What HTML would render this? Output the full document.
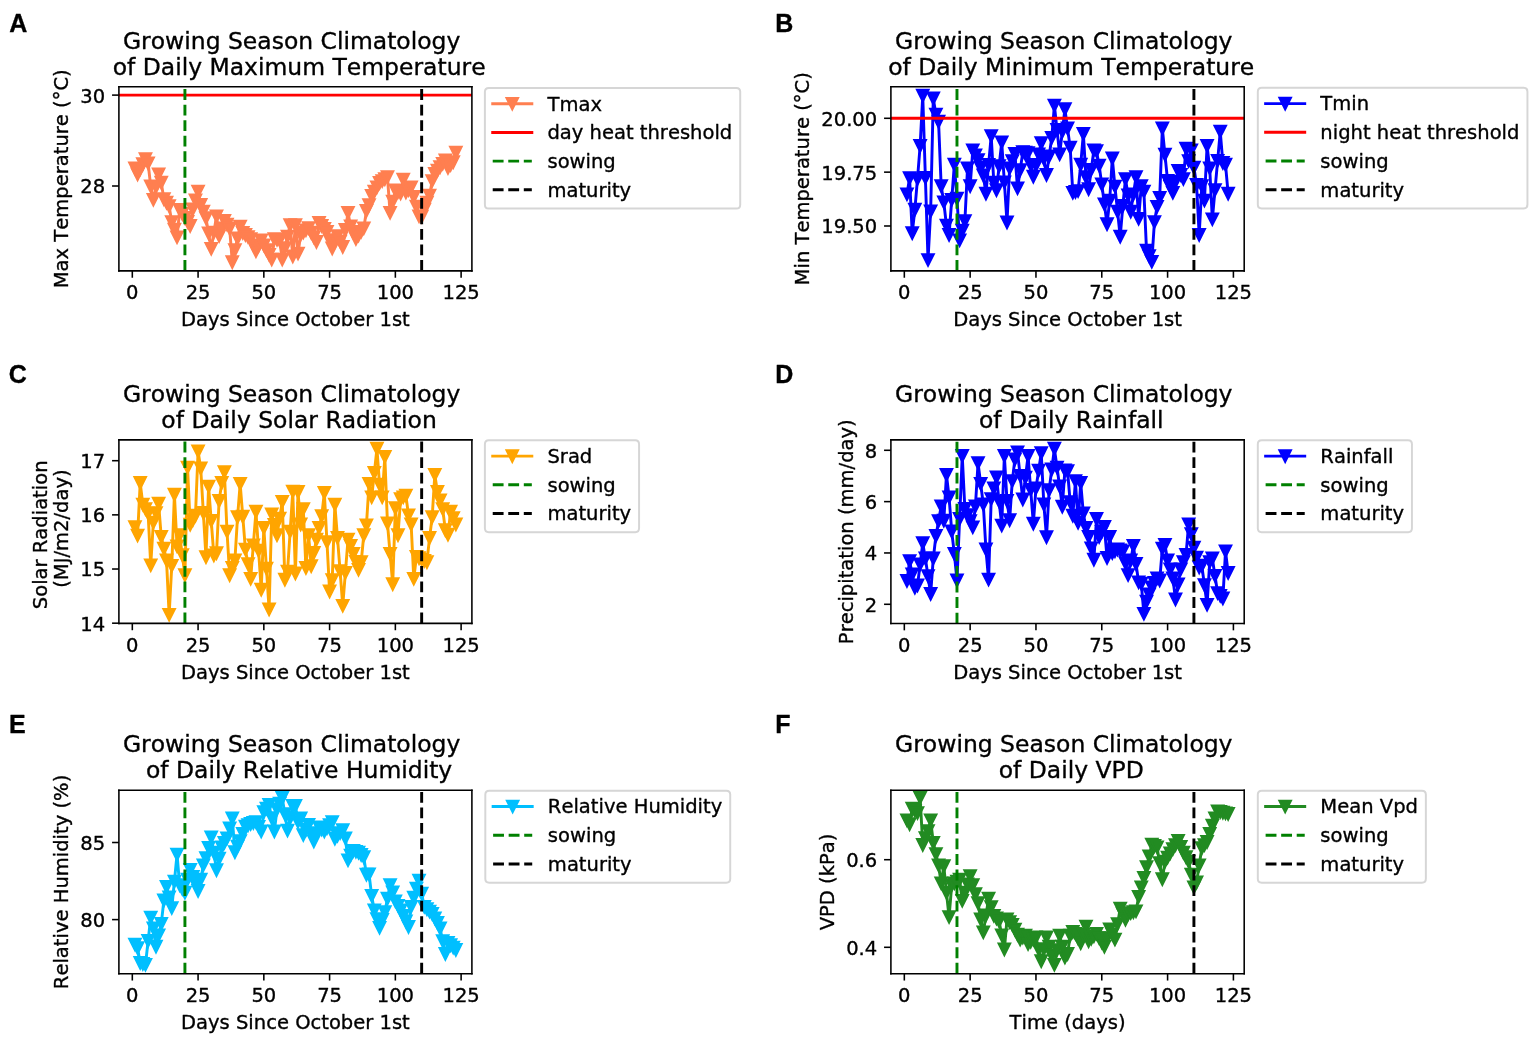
<!DOCTYPE html>
<html><head><meta charset="utf-8"><title>Growing Season Climatology</title><style>html,body{margin:0;padding:0;background:#fff;overflow:hidden}svg{display:block}svg text{white-space:pre;font-kerning:none;stroke:#000;stroke-width:0.18px}</style></head><body>
<svg width="1535" height="1038" viewBox="0 0 785.16624 530.946292" version="1.1">
 <defs>
  <style type="text/css">*{stroke-linejoin: round; stroke-linecap: butt}</style>
 </defs>
 <g id="figure_1">
  <g id="patch_1">
   <path d="M 0 530.946292 L 785.16624 530.946292 L 785.16624 0 L 0 0 z" style="fill: #ffffff"/>
  </g>
  <g id="axes_1">
   <g id="patch_2">
    <path d="M 60.818414 138.567775 L 241.381074 138.567775 L 241.381074 44.347826 L 60.818414 44.347826 z" style="fill: #ffffff"/>
   </g>
   <g id="matplotlib.axis_1">
    <g id="xtick_1">
     <g id="line2d_1">
      
      <g>
       <path d="M 0 0 L 0 3.5" transform="translate(67.680334 138.567775)" style="stroke: #000000; stroke-width: 0.8; stroke: #000000; stroke-width: 0.8"/>
      </g>
     </g>
     <g id="text_1">
      <text style="font-size: 10px; font-family: 'DejaVu Sans', sans-serif; text-anchor: middle" x="67.680334" y="153.166212" transform="rotate(-0 67.680334 153.166212)">0</text>
     </g>
    </g>
    <g id="xtick_2">
     <g id="line2d_2">
      <g>
       <path d="M 0 0 L 0 3.5" transform="translate(101.317193 138.567775)" style="stroke: #000000; stroke-width: 0.8; stroke: #000000; stroke-width: 0.8"/>
      </g>
     </g>
     <g id="text_2">
      <text style="font-size: 10px; font-family: 'DejaVu Sans', sans-serif; text-anchor: middle" x="101.317193" y="153.166212" transform="rotate(-0 101.317193 153.166212)">25</text>
     </g>
    </g>
    <g id="xtick_3">
     <g id="line2d_3">
      <g>
       <path d="M 0 0 L 0 3.5" transform="translate(134.954052 138.567775)" style="stroke: #000000; stroke-width: 0.8; stroke: #000000; stroke-width: 0.8"/>
      </g>
     </g>
     <g id="text_3">
      <text style="font-size: 10px; font-family: 'DejaVu Sans', sans-serif; text-anchor: middle" x="134.954052" y="153.166212" transform="rotate(-0 134.954052 153.166212)">50</text>
     </g>
    </g>
    <g id="xtick_4">
     <g id="line2d_4">
      <g>
       <path d="M 0 0 L 0 3.5" transform="translate(168.590911 138.567775)" style="stroke: #000000; stroke-width: 0.8; stroke: #000000; stroke-width: 0.8"/>
      </g>
     </g>
     <g id="text_4">
      <text style="font-size: 10px; font-family: 'DejaVu Sans', sans-serif; text-anchor: middle" x="168.590911" y="153.166212" transform="rotate(-0 168.590911 153.166212)">75</text>
     </g>
    </g>
    <g id="xtick_5">
     <g id="line2d_5">
      <g>
       <path d="M 0 0 L 0 3.5" transform="translate(202.22777 138.567775)" style="stroke: #000000; stroke-width: 0.8; stroke: #000000; stroke-width: 0.8"/>
      </g>
     </g>
     <g id="text_5">
      <text style="font-size: 10px; font-family: 'DejaVu Sans', sans-serif; text-anchor: middle" x="202.22777" y="153.166212" transform="rotate(-0 202.22777 153.166212)">100</text>
     </g>
    </g>
    <g id="xtick_6">
     <g id="line2d_6">
      <g>
       <path d="M 0 0 L 0 3.5" transform="translate(235.864629 138.567775)" style="stroke: #000000; stroke-width: 0.8; stroke: #000000; stroke-width: 0.8"/>
      </g>
     </g>
     <g id="text_6">
      <text style="font-size: 10px; font-family: 'DejaVu Sans', sans-serif; text-anchor: middle" x="235.864629" y="153.166212" transform="rotate(-0 235.864629 153.166212)">125</text>
     </g>
    </g>
    <g id="text_7">
     <text style="font-size: 10px; font-family: 'DejaVu Sans', sans-serif; text-anchor: middle" x="151.099744" y="166.844337" transform="rotate(-0 151.099744 166.844337)">Days Since October 1st</text>
    </g>
   </g>
   <g id="matplotlib.axis_2">
    <g id="ytick_1">
     <g id="line2d_7">
      
      <g>
       <path d="M 0 0 L -3.5 0" transform="translate(60.818414 95.142444)" style="stroke: #000000; stroke-width: 0.8; stroke: #000000; stroke-width: 0.8"/>
      </g>
     </g>
     <g id="text_8">
      <text style="font-size: 10px; font-family: 'DejaVu Sans', sans-serif; text-anchor: end" x="53.818414" y="98.941663" transform="rotate(-0 53.818414 98.941663)">28</text>
     </g>
    </g>
    <g id="ytick_2">
     <g id="line2d_8">
      <g>
       <path d="M 0 0 L -3.5 0" transform="translate(60.818414 48.648515)" style="stroke: #000000; stroke-width: 0.8; stroke: #000000; stroke-width: 0.8"/>
      </g>
     </g>
     <g id="text_9">
      <text style="font-size: 10px; font-family: 'DejaVu Sans', sans-serif; text-anchor: end" x="53.818414" y="52.447733" transform="rotate(-0 53.818414 52.447733)">30</text>
     </g>
    </g>
    <g id="text_10">
     <text style="font-size: 10px; font-family: 'DejaVu Sans', sans-serif; text-anchor: middle" x="35.013727" y="91.457801" transform="rotate(-90 35.013727 91.457801)">Max Temperature (°C)</text>
    </g>
   </g>
   <g id="line2d_9">
    <path d="M 69.025808 86.118361 L 70.371282 89.1753 L 71.716757 86.57365 L 73.062231 83.972 L 74.407705 81.37035 L 75.75318 83.516712 L 77.098654 95.354219 L 78.444129 102.18355 L 79.789603 95.679425 L 81.135077 89.1753 L 82.480552 93.402981 L 83.826026 101.858344 L 85.1715 103.646978 L 86.516975 105.435612 L 87.862449 113.565768 L 89.207923 117.468243 L 90.553398 121.370718 L 91.898872 107.38685 L 93.244347 109.419389 L 94.589821 111.451928 L 95.935295 113.484467 L 97.28077 115.517006 L 98.626244 107.061643 L 99.971718 102.508756 L 101.317193 97.955869 L 102.662667 104.7852 L 104.008141 108.199865 L 105.353616 111.614531 L 106.69909 119.419481 L 108.044565 127.22443 L 109.390039 118.931671 L 110.735513 110.638912 L 112.080988 120.720306 L 113.426462 116.817831 L 114.771936 112.915356 L 116.117411 114.866593 L 117.462885 116.817831 L 118.808359 134.053762 L 120.153834 127.983245 L 121.499308 121.912728 L 122.844783 115.842212 L 124.190257 119.094274 L 125.535731 120.178295 L 126.881206 121.262316 L 128.22668 122.346337 L 129.572154 125.435796 L 130.917629 128.525255 L 132.263103 125.761002 L 133.608577 122.996749 L 134.954052 125.435796 L 136.299526 127.874843 L 137.645001 130.31389 L 138.990475 132.752937 L 140.335949 122.346337 L 141.681424 122.671543 L 143.026898 122.996749 L 144.372372 132.752937 L 145.717847 126.899224 L 147.063321 121.045512 L 148.408796 115.191799 L 149.75427 131.126905 L 151.099744 115.161864 L 152.445219 129.692244 L 153.790693 120.069893 L 155.136167 118.933209 L 156.481642 117.796525 L 157.827116 116.659841 L 159.17259 119.006672 L 160.518065 121.353503 L 161.863539 123.700335 L 163.209014 114.038381 L 164.554488 115.536358 L 165.899962 117.034335 L 167.245437 118.532313 L 168.590911 122.801548 L 169.936385 127.070784 L 171.28186 123.925031 L 172.627334 120.779279 L 173.972808 123.550537 L 175.318283 126.321795 L 176.663757 117.589361 L 178.009232 108.856927 L 179.354706 115.75556 L 180.70018 118.983135 L 182.045655 122.21071 L 183.391129 120.3875 L 184.736603 118.56429 L 186.082078 116.74108 L 187.427552 107.871408 L 188.773026 104.914851 L 190.118501 100.233636 L 191.463975 98.016218 L 192.80945 95.7988 L 194.154924 93.581382 L 195.500398 92.595863 L 196.845873 91.610344 L 198.191347 90.624825 L 199.536821 108.856927 L 200.882296 103.140917 L 202.22777 97.424907 L 203.573244 98.164046 L 204.918719 98.903185 L 206.264193 91.856724 L 207.609668 98.410426 L 208.955142 97.104613 L 210.300616 95.7988 L 211.646091 100.742821 L 212.991565 105.686841 L 214.337039 110.630862 L 215.682514 110.827965 L 217.027988 107.230821 L 218.373463 103.633676 L 219.718937 100.036532 L 221.064411 92.595863 L 222.409886 88.947259 L 223.75536 87.224585 L 225.100834 85.501911 L 226.446309 83.779237 L 227.791783 82.056563 L 229.137257 85.876406 L 230.482732 84.415878 L 231.828206 82.95535 L 233.173681 78.086923" clip-path="url(#p58ddfeee3f)" style="fill: none; stroke: #ff7f50; stroke-width: 1.5; stroke-linecap: square"/>
    
    <g clip-path="url(#p58ddfeee3f)">
     <path d="M -0 3 L 3 -3 L -3 -3 z" transform="translate(69.025808 86.118361)" style="fill: #ff7f50; stroke: #ff7f50; stroke-linejoin: miter; stroke: #ff7f50; stroke-linejoin: miter"/>
     <path d="M -0 3 L 3 -3 L -3 -3 z" transform="translate(70.371282 89.1753)" style="fill: #ff7f50; stroke: #ff7f50; stroke-linejoin: miter; stroke: #ff7f50; stroke-linejoin: miter"/>
     <path d="M -0 3 L 3 -3 L -3 -3 z" transform="translate(71.716757 86.57365)" style="fill: #ff7f50; stroke: #ff7f50; stroke-linejoin: miter; stroke: #ff7f50; stroke-linejoin: miter"/>
     <path d="M -0 3 L 3 -3 L -3 -3 z" transform="translate(73.062231 83.972)" style="fill: #ff7f50; stroke: #ff7f50; stroke-linejoin: miter; stroke: #ff7f50; stroke-linejoin: miter"/>
     <path d="M -0 3 L 3 -3 L -3 -3 z" transform="translate(74.407705 81.37035)" style="fill: #ff7f50; stroke: #ff7f50; stroke-linejoin: miter; stroke: #ff7f50; stroke-linejoin: miter"/>
     <path d="M -0 3 L 3 -3 L -3 -3 z" transform="translate(75.75318 83.516712)" style="fill: #ff7f50; stroke: #ff7f50; stroke-linejoin: miter; stroke: #ff7f50; stroke-linejoin: miter"/>
     <path d="M -0 3 L 3 -3 L -3 -3 z" transform="translate(77.098654 95.354219)" style="fill: #ff7f50; stroke: #ff7f50; stroke-linejoin: miter; stroke: #ff7f50; stroke-linejoin: miter"/>
     <path d="M -0 3 L 3 -3 L -3 -3 z" transform="translate(78.444129 102.18355)" style="fill: #ff7f50; stroke: #ff7f50; stroke-linejoin: miter; stroke: #ff7f50; stroke-linejoin: miter"/>
     <path d="M -0 3 L 3 -3 L -3 -3 z" transform="translate(79.789603 95.679425)" style="fill: #ff7f50; stroke: #ff7f50; stroke-linejoin: miter; stroke: #ff7f50; stroke-linejoin: miter"/>
     <path d="M -0 3 L 3 -3 L -3 -3 z" transform="translate(81.135077 89.1753)" style="fill: #ff7f50; stroke: #ff7f50; stroke-linejoin: miter; stroke: #ff7f50; stroke-linejoin: miter"/>
     <path d="M -0 3 L 3 -3 L -3 -3 z" transform="translate(82.480552 93.402981)" style="fill: #ff7f50; stroke: #ff7f50; stroke-linejoin: miter; stroke: #ff7f50; stroke-linejoin: miter"/>
     <path d="M -0 3 L 3 -3 L -3 -3 z" transform="translate(83.826026 101.858344)" style="fill: #ff7f50; stroke: #ff7f50; stroke-linejoin: miter; stroke: #ff7f50; stroke-linejoin: miter"/>
     <path d="M -0 3 L 3 -3 L -3 -3 z" transform="translate(85.1715 103.646978)" style="fill: #ff7f50; stroke: #ff7f50; stroke-linejoin: miter; stroke: #ff7f50; stroke-linejoin: miter"/>
     <path d="M -0 3 L 3 -3 L -3 -3 z" transform="translate(86.516975 105.435612)" style="fill: #ff7f50; stroke: #ff7f50; stroke-linejoin: miter; stroke: #ff7f50; stroke-linejoin: miter"/>
     <path d="M -0 3 L 3 -3 L -3 -3 z" transform="translate(87.862449 113.565768)" style="fill: #ff7f50; stroke: #ff7f50; stroke-linejoin: miter; stroke: #ff7f50; stroke-linejoin: miter"/>
     <path d="M -0 3 L 3 -3 L -3 -3 z" transform="translate(89.207923 117.468243)" style="fill: #ff7f50; stroke: #ff7f50; stroke-linejoin: miter; stroke: #ff7f50; stroke-linejoin: miter"/>
     <path d="M -0 3 L 3 -3 L -3 -3 z" transform="translate(90.553398 121.370718)" style="fill: #ff7f50; stroke: #ff7f50; stroke-linejoin: miter; stroke: #ff7f50; stroke-linejoin: miter"/>
     <path d="M -0 3 L 3 -3 L -3 -3 z" transform="translate(91.898872 107.38685)" style="fill: #ff7f50; stroke: #ff7f50; stroke-linejoin: miter; stroke: #ff7f50; stroke-linejoin: miter"/>
     <path d="M -0 3 L 3 -3 L -3 -3 z" transform="translate(93.244347 109.419389)" style="fill: #ff7f50; stroke: #ff7f50; stroke-linejoin: miter; stroke: #ff7f50; stroke-linejoin: miter"/>
     <path d="M -0 3 L 3 -3 L -3 -3 z" transform="translate(94.589821 111.451928)" style="fill: #ff7f50; stroke: #ff7f50; stroke-linejoin: miter; stroke: #ff7f50; stroke-linejoin: miter"/>
     <path d="M -0 3 L 3 -3 L -3 -3 z" transform="translate(95.935295 113.484467)" style="fill: #ff7f50; stroke: #ff7f50; stroke-linejoin: miter; stroke: #ff7f50; stroke-linejoin: miter"/>
     <path d="M -0 3 L 3 -3 L -3 -3 z" transform="translate(97.28077 115.517006)" style="fill: #ff7f50; stroke: #ff7f50; stroke-linejoin: miter; stroke: #ff7f50; stroke-linejoin: miter"/>
     <path d="M -0 3 L 3 -3 L -3 -3 z" transform="translate(98.626244 107.061643)" style="fill: #ff7f50; stroke: #ff7f50; stroke-linejoin: miter; stroke: #ff7f50; stroke-linejoin: miter"/>
     <path d="M -0 3 L 3 -3 L -3 -3 z" transform="translate(99.971718 102.508756)" style="fill: #ff7f50; stroke: #ff7f50; stroke-linejoin: miter; stroke: #ff7f50; stroke-linejoin: miter"/>
     <path d="M -0 3 L 3 -3 L -3 -3 z" transform="translate(101.317193 97.955869)" style="fill: #ff7f50; stroke: #ff7f50; stroke-linejoin: miter; stroke: #ff7f50; stroke-linejoin: miter"/>
     <path d="M -0 3 L 3 -3 L -3 -3 z" transform="translate(102.662667 104.7852)" style="fill: #ff7f50; stroke: #ff7f50; stroke-linejoin: miter; stroke: #ff7f50; stroke-linejoin: miter"/>
     <path d="M -0 3 L 3 -3 L -3 -3 z" transform="translate(104.008141 108.199865)" style="fill: #ff7f50; stroke: #ff7f50; stroke-linejoin: miter; stroke: #ff7f50; stroke-linejoin: miter"/>
     <path d="M -0 3 L 3 -3 L -3 -3 z" transform="translate(105.353616 111.614531)" style="fill: #ff7f50; stroke: #ff7f50; stroke-linejoin: miter; stroke: #ff7f50; stroke-linejoin: miter"/>
     <path d="M -0 3 L 3 -3 L -3 -3 z" transform="translate(106.69909 119.419481)" style="fill: #ff7f50; stroke: #ff7f50; stroke-linejoin: miter; stroke: #ff7f50; stroke-linejoin: miter"/>
     <path d="M -0 3 L 3 -3 L -3 -3 z" transform="translate(108.044565 127.22443)" style="fill: #ff7f50; stroke: #ff7f50; stroke-linejoin: miter; stroke: #ff7f50; stroke-linejoin: miter"/>
     <path d="M -0 3 L 3 -3 L -3 -3 z" transform="translate(109.390039 118.931671)" style="fill: #ff7f50; stroke: #ff7f50; stroke-linejoin: miter; stroke: #ff7f50; stroke-linejoin: miter"/>
     <path d="M -0 3 L 3 -3 L -3 -3 z" transform="translate(110.735513 110.638912)" style="fill: #ff7f50; stroke: #ff7f50; stroke-linejoin: miter; stroke: #ff7f50; stroke-linejoin: miter"/>
     <path d="M -0 3 L 3 -3 L -3 -3 z" transform="translate(112.080988 120.720306)" style="fill: #ff7f50; stroke: #ff7f50; stroke-linejoin: miter; stroke: #ff7f50; stroke-linejoin: miter"/>
     <path d="M -0 3 L 3 -3 L -3 -3 z" transform="translate(113.426462 116.817831)" style="fill: #ff7f50; stroke: #ff7f50; stroke-linejoin: miter; stroke: #ff7f50; stroke-linejoin: miter"/>
     <path d="M -0 3 L 3 -3 L -3 -3 z" transform="translate(114.771936 112.915356)" style="fill: #ff7f50; stroke: #ff7f50; stroke-linejoin: miter; stroke: #ff7f50; stroke-linejoin: miter"/>
     <path d="M -0 3 L 3 -3 L -3 -3 z" transform="translate(116.117411 114.866593)" style="fill: #ff7f50; stroke: #ff7f50; stroke-linejoin: miter; stroke: #ff7f50; stroke-linejoin: miter"/>
     <path d="M -0 3 L 3 -3 L -3 -3 z" transform="translate(117.462885 116.817831)" style="fill: #ff7f50; stroke: #ff7f50; stroke-linejoin: miter; stroke: #ff7f50; stroke-linejoin: miter"/>
     <path d="M -0 3 L 3 -3 L -3 -3 z" transform="translate(118.808359 134.053762)" style="fill: #ff7f50; stroke: #ff7f50; stroke-linejoin: miter; stroke: #ff7f50; stroke-linejoin: miter"/>
     <path d="M -0 3 L 3 -3 L -3 -3 z" transform="translate(120.153834 127.983245)" style="fill: #ff7f50; stroke: #ff7f50; stroke-linejoin: miter; stroke: #ff7f50; stroke-linejoin: miter"/>
     <path d="M -0 3 L 3 -3 L -3 -3 z" transform="translate(121.499308 121.912728)" style="fill: #ff7f50; stroke: #ff7f50; stroke-linejoin: miter; stroke: #ff7f50; stroke-linejoin: miter"/>
     <path d="M -0 3 L 3 -3 L -3 -3 z" transform="translate(122.844783 115.842212)" style="fill: #ff7f50; stroke: #ff7f50; stroke-linejoin: miter; stroke: #ff7f50; stroke-linejoin: miter"/>
     <path d="M -0 3 L 3 -3 L -3 -3 z" transform="translate(124.190257 119.094274)" style="fill: #ff7f50; stroke: #ff7f50; stroke-linejoin: miter; stroke: #ff7f50; stroke-linejoin: miter"/>
     <path d="M -0 3 L 3 -3 L -3 -3 z" transform="translate(125.535731 120.178295)" style="fill: #ff7f50; stroke: #ff7f50; stroke-linejoin: miter; stroke: #ff7f50; stroke-linejoin: miter"/>
     <path d="M -0 3 L 3 -3 L -3 -3 z" transform="translate(126.881206 121.262316)" style="fill: #ff7f50; stroke: #ff7f50; stroke-linejoin: miter; stroke: #ff7f50; stroke-linejoin: miter"/>
     <path d="M -0 3 L 3 -3 L -3 -3 z" transform="translate(128.22668 122.346337)" style="fill: #ff7f50; stroke: #ff7f50; stroke-linejoin: miter; stroke: #ff7f50; stroke-linejoin: miter"/>
     <path d="M -0 3 L 3 -3 L -3 -3 z" transform="translate(129.572154 125.435796)" style="fill: #ff7f50; stroke: #ff7f50; stroke-linejoin: miter; stroke: #ff7f50; stroke-linejoin: miter"/>
     <path d="M -0 3 L 3 -3 L -3 -3 z" transform="translate(130.917629 128.525255)" style="fill: #ff7f50; stroke: #ff7f50; stroke-linejoin: miter; stroke: #ff7f50; stroke-linejoin: miter"/>
     <path d="M -0 3 L 3 -3 L -3 -3 z" transform="translate(132.263103 125.761002)" style="fill: #ff7f50; stroke: #ff7f50; stroke-linejoin: miter; stroke: #ff7f50; stroke-linejoin: miter"/>
     <path d="M -0 3 L 3 -3 L -3 -3 z" transform="translate(133.608577 122.996749)" style="fill: #ff7f50; stroke: #ff7f50; stroke-linejoin: miter; stroke: #ff7f50; stroke-linejoin: miter"/>
     <path d="M -0 3 L 3 -3 L -3 -3 z" transform="translate(134.954052 125.435796)" style="fill: #ff7f50; stroke: #ff7f50; stroke-linejoin: miter; stroke: #ff7f50; stroke-linejoin: miter"/>
     <path d="M -0 3 L 3 -3 L -3 -3 z" transform="translate(136.299526 127.874843)" style="fill: #ff7f50; stroke: #ff7f50; stroke-linejoin: miter; stroke: #ff7f50; stroke-linejoin: miter"/>
     <path d="M -0 3 L 3 -3 L -3 -3 z" transform="translate(137.645001 130.31389)" style="fill: #ff7f50; stroke: #ff7f50; stroke-linejoin: miter; stroke: #ff7f50; stroke-linejoin: miter"/>
     <path d="M -0 3 L 3 -3 L -3 -3 z" transform="translate(138.990475 132.752937)" style="fill: #ff7f50; stroke: #ff7f50; stroke-linejoin: miter; stroke: #ff7f50; stroke-linejoin: miter"/>
     <path d="M -0 3 L 3 -3 L -3 -3 z" transform="translate(140.335949 122.346337)" style="fill: #ff7f50; stroke: #ff7f50; stroke-linejoin: miter; stroke: #ff7f50; stroke-linejoin: miter"/>
     <path d="M -0 3 L 3 -3 L -3 -3 z" transform="translate(141.681424 122.671543)" style="fill: #ff7f50; stroke: #ff7f50; stroke-linejoin: miter; stroke: #ff7f50; stroke-linejoin: miter"/>
     <path d="M -0 3 L 3 -3 L -3 -3 z" transform="translate(143.026898 122.996749)" style="fill: #ff7f50; stroke: #ff7f50; stroke-linejoin: miter; stroke: #ff7f50; stroke-linejoin: miter"/>
     <path d="M -0 3 L 3 -3 L -3 -3 z" transform="translate(144.372372 132.752937)" style="fill: #ff7f50; stroke: #ff7f50; stroke-linejoin: miter; stroke: #ff7f50; stroke-linejoin: miter"/>
     <path d="M -0 3 L 3 -3 L -3 -3 z" transform="translate(145.717847 126.899224)" style="fill: #ff7f50; stroke: #ff7f50; stroke-linejoin: miter; stroke: #ff7f50; stroke-linejoin: miter"/>
     <path d="M -0 3 L 3 -3 L -3 -3 z" transform="translate(147.063321 121.045512)" style="fill: #ff7f50; stroke: #ff7f50; stroke-linejoin: miter; stroke: #ff7f50; stroke-linejoin: miter"/>
     <path d="M -0 3 L 3 -3 L -3 -3 z" transform="translate(148.408796 115.191799)" style="fill: #ff7f50; stroke: #ff7f50; stroke-linejoin: miter; stroke: #ff7f50; stroke-linejoin: miter"/>
     <path d="M -0 3 L 3 -3 L -3 -3 z" transform="translate(149.75427 131.126905)" style="fill: #ff7f50; stroke: #ff7f50; stroke-linejoin: miter; stroke: #ff7f50; stroke-linejoin: miter"/>
     <path d="M -0 3 L 3 -3 L -3 -3 z" transform="translate(151.099744 115.161864)" style="fill: #ff7f50; stroke: #ff7f50; stroke-linejoin: miter; stroke: #ff7f50; stroke-linejoin: miter"/>
     <path d="M -0 3 L 3 -3 L -3 -3 z" transform="translate(152.445219 129.692244)" style="fill: #ff7f50; stroke: #ff7f50; stroke-linejoin: miter; stroke: #ff7f50; stroke-linejoin: miter"/>
     <path d="M -0 3 L 3 -3 L -3 -3 z" transform="translate(153.790693 120.069893)" style="fill: #ff7f50; stroke: #ff7f50; stroke-linejoin: miter; stroke: #ff7f50; stroke-linejoin: miter"/>
     <path d="M -0 3 L 3 -3 L -3 -3 z" transform="translate(155.136167 118.933209)" style="fill: #ff7f50; stroke: #ff7f50; stroke-linejoin: miter; stroke: #ff7f50; stroke-linejoin: miter"/>
     <path d="M -0 3 L 3 -3 L -3 -3 z" transform="translate(156.481642 117.796525)" style="fill: #ff7f50; stroke: #ff7f50; stroke-linejoin: miter; stroke: #ff7f50; stroke-linejoin: miter"/>
     <path d="M -0 3 L 3 -3 L -3 -3 z" transform="translate(157.827116 116.659841)" style="fill: #ff7f50; stroke: #ff7f50; stroke-linejoin: miter; stroke: #ff7f50; stroke-linejoin: miter"/>
     <path d="M -0 3 L 3 -3 L -3 -3 z" transform="translate(159.17259 119.006672)" style="fill: #ff7f50; stroke: #ff7f50; stroke-linejoin: miter; stroke: #ff7f50; stroke-linejoin: miter"/>
     <path d="M -0 3 L 3 -3 L -3 -3 z" transform="translate(160.518065 121.353503)" style="fill: #ff7f50; stroke: #ff7f50; stroke-linejoin: miter; stroke: #ff7f50; stroke-linejoin: miter"/>
     <path d="M -0 3 L 3 -3 L -3 -3 z" transform="translate(161.863539 123.700335)" style="fill: #ff7f50; stroke: #ff7f50; stroke-linejoin: miter; stroke: #ff7f50; stroke-linejoin: miter"/>
     <path d="M -0 3 L 3 -3 L -3 -3 z" transform="translate(163.209014 114.038381)" style="fill: #ff7f50; stroke: #ff7f50; stroke-linejoin: miter; stroke: #ff7f50; stroke-linejoin: miter"/>
     <path d="M -0 3 L 3 -3 L -3 -3 z" transform="translate(164.554488 115.536358)" style="fill: #ff7f50; stroke: #ff7f50; stroke-linejoin: miter; stroke: #ff7f50; stroke-linejoin: miter"/>
     <path d="M -0 3 L 3 -3 L -3 -3 z" transform="translate(165.899962 117.034335)" style="fill: #ff7f50; stroke: #ff7f50; stroke-linejoin: miter; stroke: #ff7f50; stroke-linejoin: miter"/>
     <path d="M -0 3 L 3 -3 L -3 -3 z" transform="translate(167.245437 118.532313)" style="fill: #ff7f50; stroke: #ff7f50; stroke-linejoin: miter; stroke: #ff7f50; stroke-linejoin: miter"/>
     <path d="M -0 3 L 3 -3 L -3 -3 z" transform="translate(168.590911 122.801548)" style="fill: #ff7f50; stroke: #ff7f50; stroke-linejoin: miter; stroke: #ff7f50; stroke-linejoin: miter"/>
     <path d="M -0 3 L 3 -3 L -3 -3 z" transform="translate(169.936385 127.070784)" style="fill: #ff7f50; stroke: #ff7f50; stroke-linejoin: miter; stroke: #ff7f50; stroke-linejoin: miter"/>
     <path d="M -0 3 L 3 -3 L -3 -3 z" transform="translate(171.28186 123.925031)" style="fill: #ff7f50; stroke: #ff7f50; stroke-linejoin: miter; stroke: #ff7f50; stroke-linejoin: miter"/>
     <path d="M -0 3 L 3 -3 L -3 -3 z" transform="translate(172.627334 120.779279)" style="fill: #ff7f50; stroke: #ff7f50; stroke-linejoin: miter; stroke: #ff7f50; stroke-linejoin: miter"/>
     <path d="M -0 3 L 3 -3 L -3 -3 z" transform="translate(173.972808 123.550537)" style="fill: #ff7f50; stroke: #ff7f50; stroke-linejoin: miter; stroke: #ff7f50; stroke-linejoin: miter"/>
     <path d="M -0 3 L 3 -3 L -3 -3 z" transform="translate(175.318283 126.321795)" style="fill: #ff7f50; stroke: #ff7f50; stroke-linejoin: miter; stroke: #ff7f50; stroke-linejoin: miter"/>
     <path d="M -0 3 L 3 -3 L -3 -3 z" transform="translate(176.663757 117.589361)" style="fill: #ff7f50; stroke: #ff7f50; stroke-linejoin: miter; stroke: #ff7f50; stroke-linejoin: miter"/>
     <path d="M -0 3 L 3 -3 L -3 -3 z" transform="translate(178.009232 108.856927)" style="fill: #ff7f50; stroke: #ff7f50; stroke-linejoin: miter; stroke: #ff7f50; stroke-linejoin: miter"/>
     <path d="M -0 3 L 3 -3 L -3 -3 z" transform="translate(179.354706 115.75556)" style="fill: #ff7f50; stroke: #ff7f50; stroke-linejoin: miter; stroke: #ff7f50; stroke-linejoin: miter"/>
     <path d="M -0 3 L 3 -3 L -3 -3 z" transform="translate(180.70018 118.983135)" style="fill: #ff7f50; stroke: #ff7f50; stroke-linejoin: miter; stroke: #ff7f50; stroke-linejoin: miter"/>
     <path d="M -0 3 L 3 -3 L -3 -3 z" transform="translate(182.045655 122.21071)" style="fill: #ff7f50; stroke: #ff7f50; stroke-linejoin: miter; stroke: #ff7f50; stroke-linejoin: miter"/>
     <path d="M -0 3 L 3 -3 L -3 -3 z" transform="translate(183.391129 120.3875)" style="fill: #ff7f50; stroke: #ff7f50; stroke-linejoin: miter; stroke: #ff7f50; stroke-linejoin: miter"/>
     <path d="M -0 3 L 3 -3 L -3 -3 z" transform="translate(184.736603 118.56429)" style="fill: #ff7f50; stroke: #ff7f50; stroke-linejoin: miter; stroke: #ff7f50; stroke-linejoin: miter"/>
     <path d="M -0 3 L 3 -3 L -3 -3 z" transform="translate(186.082078 116.74108)" style="fill: #ff7f50; stroke: #ff7f50; stroke-linejoin: miter; stroke: #ff7f50; stroke-linejoin: miter"/>
     <path d="M -0 3 L 3 -3 L -3 -3 z" transform="translate(187.427552 107.871408)" style="fill: #ff7f50; stroke: #ff7f50; stroke-linejoin: miter; stroke: #ff7f50; stroke-linejoin: miter"/>
     <path d="M -0 3 L 3 -3 L -3 -3 z" transform="translate(188.773026 104.914851)" style="fill: #ff7f50; stroke: #ff7f50; stroke-linejoin: miter; stroke: #ff7f50; stroke-linejoin: miter"/>
     <path d="M -0 3 L 3 -3 L -3 -3 z" transform="translate(190.118501 100.233636)" style="fill: #ff7f50; stroke: #ff7f50; stroke-linejoin: miter; stroke: #ff7f50; stroke-linejoin: miter"/>
     <path d="M -0 3 L 3 -3 L -3 -3 z" transform="translate(191.463975 98.016218)" style="fill: #ff7f50; stroke: #ff7f50; stroke-linejoin: miter; stroke: #ff7f50; stroke-linejoin: miter"/>
     <path d="M -0 3 L 3 -3 L -3 -3 z" transform="translate(192.80945 95.7988)" style="fill: #ff7f50; stroke: #ff7f50; stroke-linejoin: miter; stroke: #ff7f50; stroke-linejoin: miter"/>
     <path d="M -0 3 L 3 -3 L -3 -3 z" transform="translate(194.154924 93.581382)" style="fill: #ff7f50; stroke: #ff7f50; stroke-linejoin: miter; stroke: #ff7f50; stroke-linejoin: miter"/>
     <path d="M -0 3 L 3 -3 L -3 -3 z" transform="translate(195.500398 92.595863)" style="fill: #ff7f50; stroke: #ff7f50; stroke-linejoin: miter; stroke: #ff7f50; stroke-linejoin: miter"/>
     <path d="M -0 3 L 3 -3 L -3 -3 z" transform="translate(196.845873 91.610344)" style="fill: #ff7f50; stroke: #ff7f50; stroke-linejoin: miter; stroke: #ff7f50; stroke-linejoin: miter"/>
     <path d="M -0 3 L 3 -3 L -3 -3 z" transform="translate(198.191347 90.624825)" style="fill: #ff7f50; stroke: #ff7f50; stroke-linejoin: miter; stroke: #ff7f50; stroke-linejoin: miter"/>
     <path d="M -0 3 L 3 -3 L -3 -3 z" transform="translate(199.536821 108.856927)" style="fill: #ff7f50; stroke: #ff7f50; stroke-linejoin: miter; stroke: #ff7f50; stroke-linejoin: miter"/>
     <path d="M -0 3 L 3 -3 L -3 -3 z" transform="translate(200.882296 103.140917)" style="fill: #ff7f50; stroke: #ff7f50; stroke-linejoin: miter; stroke: #ff7f50; stroke-linejoin: miter"/>
     <path d="M -0 3 L 3 -3 L -3 -3 z" transform="translate(202.22777 97.424907)" style="fill: #ff7f50; stroke: #ff7f50; stroke-linejoin: miter; stroke: #ff7f50; stroke-linejoin: miter"/>
     <path d="M -0 3 L 3 -3 L -3 -3 z" transform="translate(203.573244 98.164046)" style="fill: #ff7f50; stroke: #ff7f50; stroke-linejoin: miter; stroke: #ff7f50; stroke-linejoin: miter"/>
     <path d="M -0 3 L 3 -3 L -3 -3 z" transform="translate(204.918719 98.903185)" style="fill: #ff7f50; stroke: #ff7f50; stroke-linejoin: miter; stroke: #ff7f50; stroke-linejoin: miter"/>
     <path d="M -0 3 L 3 -3 L -3 -3 z" transform="translate(206.264193 91.856724)" style="fill: #ff7f50; stroke: #ff7f50; stroke-linejoin: miter; stroke: #ff7f50; stroke-linejoin: miter"/>
     <path d="M -0 3 L 3 -3 L -3 -3 z" transform="translate(207.609668 98.410426)" style="fill: #ff7f50; stroke: #ff7f50; stroke-linejoin: miter; stroke: #ff7f50; stroke-linejoin: miter"/>
     <path d="M -0 3 L 3 -3 L -3 -3 z" transform="translate(208.955142 97.104613)" style="fill: #ff7f50; stroke: #ff7f50; stroke-linejoin: miter; stroke: #ff7f50; stroke-linejoin: miter"/>
     <path d="M -0 3 L 3 -3 L -3 -3 z" transform="translate(210.300616 95.7988)" style="fill: #ff7f50; stroke: #ff7f50; stroke-linejoin: miter; stroke: #ff7f50; stroke-linejoin: miter"/>
     <path d="M -0 3 L 3 -3 L -3 -3 z" transform="translate(211.646091 100.742821)" style="fill: #ff7f50; stroke: #ff7f50; stroke-linejoin: miter; stroke: #ff7f50; stroke-linejoin: miter"/>
     <path d="M -0 3 L 3 -3 L -3 -3 z" transform="translate(212.991565 105.686841)" style="fill: #ff7f50; stroke: #ff7f50; stroke-linejoin: miter; stroke: #ff7f50; stroke-linejoin: miter"/>
     <path d="M -0 3 L 3 -3 L -3 -3 z" transform="translate(214.337039 110.630862)" style="fill: #ff7f50; stroke: #ff7f50; stroke-linejoin: miter; stroke: #ff7f50; stroke-linejoin: miter"/>
     <path d="M -0 3 L 3 -3 L -3 -3 z" transform="translate(215.682514 110.827965)" style="fill: #ff7f50; stroke: #ff7f50; stroke-linejoin: miter; stroke: #ff7f50; stroke-linejoin: miter"/>
     <path d="M -0 3 L 3 -3 L -3 -3 z" transform="translate(217.027988 107.230821)" style="fill: #ff7f50; stroke: #ff7f50; stroke-linejoin: miter; stroke: #ff7f50; stroke-linejoin: miter"/>
     <path d="M -0 3 L 3 -3 L -3 -3 z" transform="translate(218.373463 103.633676)" style="fill: #ff7f50; stroke: #ff7f50; stroke-linejoin: miter; stroke: #ff7f50; stroke-linejoin: miter"/>
     <path d="M -0 3 L 3 -3 L -3 -3 z" transform="translate(219.718937 100.036532)" style="fill: #ff7f50; stroke: #ff7f50; stroke-linejoin: miter; stroke: #ff7f50; stroke-linejoin: miter"/>
     <path d="M -0 3 L 3 -3 L -3 -3 z" transform="translate(221.064411 92.595863)" style="fill: #ff7f50; stroke: #ff7f50; stroke-linejoin: miter; stroke: #ff7f50; stroke-linejoin: miter"/>
     <path d="M -0 3 L 3 -3 L -3 -3 z" transform="translate(222.409886 88.947259)" style="fill: #ff7f50; stroke: #ff7f50; stroke-linejoin: miter; stroke: #ff7f50; stroke-linejoin: miter"/>
     <path d="M -0 3 L 3 -3 L -3 -3 z" transform="translate(223.75536 87.224585)" style="fill: #ff7f50; stroke: #ff7f50; stroke-linejoin: miter; stroke: #ff7f50; stroke-linejoin: miter"/>
     <path d="M -0 3 L 3 -3 L -3 -3 z" transform="translate(225.100834 85.501911)" style="fill: #ff7f50; stroke: #ff7f50; stroke-linejoin: miter; stroke: #ff7f50; stroke-linejoin: miter"/>
     <path d="M -0 3 L 3 -3 L -3 -3 z" transform="translate(226.446309 83.779237)" style="fill: #ff7f50; stroke: #ff7f50; stroke-linejoin: miter; stroke: #ff7f50; stroke-linejoin: miter"/>
     <path d="M -0 3 L 3 -3 L -3 -3 z" transform="translate(227.791783 82.056563)" style="fill: #ff7f50; stroke: #ff7f50; stroke-linejoin: miter; stroke: #ff7f50; stroke-linejoin: miter"/>
     <path d="M -0 3 L 3 -3 L -3 -3 z" transform="translate(229.137257 85.876406)" style="fill: #ff7f50; stroke: #ff7f50; stroke-linejoin: miter; stroke: #ff7f50; stroke-linejoin: miter"/>
     <path d="M -0 3 L 3 -3 L -3 -3 z" transform="translate(230.482732 84.415878)" style="fill: #ff7f50; stroke: #ff7f50; stroke-linejoin: miter; stroke: #ff7f50; stroke-linejoin: miter"/>
     <path d="M -0 3 L 3 -3 L -3 -3 z" transform="translate(231.828206 82.95535)" style="fill: #ff7f50; stroke: #ff7f50; stroke-linejoin: miter; stroke: #ff7f50; stroke-linejoin: miter"/>
     <path d="M -0 3 L 3 -3 L -3 -3 z" transform="translate(233.173681 78.086923)" style="fill: #ff7f50; stroke: #ff7f50; stroke-linejoin: miter; stroke: #ff7f50; stroke-linejoin: miter"/>
    </g>
   </g>
   <g id="line2d_10">
    <path d="M 60.818414 48.648515 L 241.381074 48.648515" clip-path="url(#p58ddfeee3f)" style="fill: none; stroke: #ff0000; stroke-width: 1.5; stroke-linecap: square"/>
   </g>
   <g id="line2d_11">
    <path d="M 94.589821 138.567775 L 94.589821 44.347826" clip-path="url(#p58ddfeee3f)" style="fill: none; stroke-dasharray: 5.55,2.4; stroke-dashoffset: 0; stroke: #008000; stroke-width: 1.5"/>
   </g>
   <g id="line2d_12">
    <path d="M 215.682514 138.567775 L 215.682514 44.347826" clip-path="url(#p58ddfeee3f)" style="fill: none; stroke-dasharray: 5.55,2.4; stroke-dashoffset: 0; stroke: #000000; stroke-width: 1.5"/>
   </g>
   <g id="patch_3">
    <path d="M 60.818414 138.567775 L 60.818414 44.347826" style="fill: none; stroke: #000000; stroke-width: 0.8; stroke-linejoin: miter; stroke-linecap: square"/>
   </g>
   <g id="patch_4">
    <path d="M 241.381074 138.567775 L 241.381074 44.347826" style="fill: none; stroke: #000000; stroke-width: 0.8; stroke-linejoin: miter; stroke-linecap: square"/>
   </g>
   <g id="patch_5">
    <path d="M 60.818414 138.567775 L 241.381074 138.567775" style="fill: none; stroke: #000000; stroke-width: 0.8; stroke-linejoin: miter; stroke-linecap: square"/>
   </g>
   <g id="patch_6">
    <path d="M 60.818414 44.347826 L 241.381074 44.347826" style="fill: none; stroke: #000000; stroke-width: 0.8; stroke-linejoin: miter; stroke-linecap: square"/>
   </g>
   <g id="text_11">
    <text style="font-size: 12px; font-family: 'DejaVu Sans', sans-serif" transform="translate(62.865057 24.910451)">Growing Season Climatology&#160;</text>
    <text style="font-size: 12px; font-family: 'DejaVu Sans', sans-serif" transform="translate(53.803182 38.347826)">&#160;of Daily Maximum Temperature</text>
   </g>
   <g id="legend_1">
    <g id="patch_7">
     <path d="M 250.030691 106.674137 L 376.632253 106.674137 Q 378.632253 106.674137 378.632253 104.674137 L 378.632253 46.961637 Q 378.632253 44.961637 376.632253 44.961637 L 250.030691 44.961637 Q 248.030691 44.961637 248.030691 46.961637 L 248.030691 104.674137 Q 248.030691 106.674137 250.030691 106.674137 z" style="fill: #ffffff; opacity: 0.8; stroke: #cccccc; stroke-linejoin: miter"/>
    </g>
    <g id="line2d_13">
     <path d="M 252.030691 53.060074 L 262.030691 53.060074 L 272.030691 53.060074" style="fill: none; stroke: #ff7f50; stroke-width: 1.5; stroke-linecap: square"/>
     <g>
      <path d="M -0 3 L 3 -3 L -3 -3 z" transform="translate(262.030691 53.060074)" style="fill: #ff7f50; stroke: #ff7f50; stroke-linejoin: miter; stroke: #ff7f50; stroke-linejoin: miter"/>
     </g>
    </g>
    <g id="text_12">
     <text style="font-size: 10px; font-family: 'DejaVu Sans', sans-serif; text-anchor: start" x="280.030691" y="56.560074" transform="rotate(-0 280.030691 56.560074)">Tmax</text>
    </g>
    <g id="line2d_14">
     <path d="M 252.030691 67.738199 L 262.030691 67.738199 L 272.030691 67.738199" style="fill: none; stroke: #ff0000; stroke-width: 1.5; stroke-linecap: square"/>
    </g>
    <g id="text_13">
     <text style="font-size: 10px; font-family: 'DejaVu Sans', sans-serif; text-anchor: start" x="280.030691" y="71.238199" transform="rotate(-0 280.030691 71.238199)">day heat threshold</text>
    </g>
    <g id="line2d_15">
     <path d="M 252.030691 82.416324 L 262.030691 82.416324 L 272.030691 82.416324" style="fill: none; stroke-dasharray: 5.55,2.4; stroke-dashoffset: 0; stroke: #008000; stroke-width: 1.5"/>
    </g>
    <g id="text_14">
     <text style="font-size: 10px; font-family: 'DejaVu Sans', sans-serif; text-anchor: start" x="280.030691" y="85.916324" transform="rotate(-0 280.030691 85.916324)">sowing</text>
    </g>
    <g id="line2d_16">
     <path d="M 252.030691 97.094449 L 262.030691 97.094449 L 272.030691 97.094449" style="fill: none; stroke-dasharray: 5.55,2.4; stroke-dashoffset: 0; stroke: #000000; stroke-width: 1.5"/>
    </g>
    <g id="text_15">
     <text style="font-size: 10px; font-family: 'DejaVu Sans', sans-serif; text-anchor: start" x="280.030691" y="100.594449" transform="rotate(-0 280.030691 100.594449)">maturity</text>
    </g>
   </g>
  </g>
  <g id="axes_2">
   <g id="patch_8">
    <path d="M 455.703325 138.567775 L 636.419437 138.567775 L 636.419437 44.347826 L 455.703325 44.347826 z" style="fill: #ffffff"/>
   </g>
   <g id="matplotlib.axis_3">
    <g id="xtick_7">
     <g id="line2d_17">
      <g>
       <path d="M 0 0 L 0 3.5" transform="translate(462.571076 138.567775)" style="stroke: #000000; stroke-width: 0.8; stroke: #000000; stroke-width: 0.8"/>
      </g>
     </g>
     <g id="text_16">
      <text style="font-size: 10px; font-family: 'DejaVu Sans', sans-serif; text-anchor: middle" x="462.571076" y="153.166212" transform="rotate(-0 462.571076 153.166212)">0</text>
     </g>
    </g>
    <g id="xtick_8">
     <g id="line2d_18">
      <g>
       <path d="M 0 0 L 0 3.5" transform="translate(496.236521 138.567775)" style="stroke: #000000; stroke-width: 0.8; stroke: #000000; stroke-width: 0.8"/>
      </g>
     </g>
     <g id="text_17">
      <text style="font-size: 10px; font-family: 'DejaVu Sans', sans-serif; text-anchor: middle" x="496.236521" y="153.166212" transform="rotate(-0 496.236521 153.166212)">25</text>
     </g>
    </g>
    <g id="xtick_9">
     <g id="line2d_19">
      <g>
       <path d="M 0 0 L 0 3.5" transform="translate(529.901967 138.567775)" style="stroke: #000000; stroke-width: 0.8; stroke: #000000; stroke-width: 0.8"/>
      </g>
     </g>
     <g id="text_18">
      <text style="font-size: 10px; font-family: 'DejaVu Sans', sans-serif; text-anchor: middle" x="529.901967" y="153.166212" transform="rotate(-0 529.901967 153.166212)">50</text>
     </g>
    </g>
    <g id="xtick_10">
     <g id="line2d_20">
      <g>
       <path d="M 0 0 L 0 3.5" transform="translate(563.567413 138.567775)" style="stroke: #000000; stroke-width: 0.8; stroke: #000000; stroke-width: 0.8"/>
      </g>
     </g>
     <g id="text_19">
      <text style="font-size: 10px; font-family: 'DejaVu Sans', sans-serif; text-anchor: middle" x="563.567413" y="153.166212" transform="rotate(-0 563.567413 153.166212)">75</text>
     </g>
    </g>
    <g id="xtick_11">
     <g id="line2d_21">
      <g>
       <path d="M 0 0 L 0 3.5" transform="translate(597.232859 138.567775)" style="stroke: #000000; stroke-width: 0.8; stroke: #000000; stroke-width: 0.8"/>
      </g>
     </g>
     <g id="text_20">
      <text style="font-size: 10px; font-family: 'DejaVu Sans', sans-serif; text-anchor: middle" x="597.232859" y="153.166212" transform="rotate(-0 597.232859 153.166212)">100</text>
     </g>
    </g>
    <g id="xtick_12">
     <g id="line2d_22">
      <g>
       <path d="M 0 0 L 0 3.5" transform="translate(630.898304 138.567775)" style="stroke: #000000; stroke-width: 0.8; stroke: #000000; stroke-width: 0.8"/>
      </g>
     </g>
     <g id="text_21">
      <text style="font-size: 10px; font-family: 'DejaVu Sans', sans-serif; text-anchor: middle" x="630.898304" y="153.166212" transform="rotate(-0 630.898304 153.166212)">125</text>
     </g>
    </g>
    <g id="text_22">
     <text style="font-size: 10px; font-family: 'DejaVu Sans', sans-serif; text-anchor: middle" x="546.061381" y="166.844337" transform="rotate(-0 546.061381 166.844337)">Days Since October 1st</text>
    </g>
   </g>
   <g id="matplotlib.axis_4">
    <g id="ytick_3">
     <g id="line2d_23">
      <g>
       <path d="M 0 0 L -3.5 0" transform="translate(455.703325 115.596705)" style="stroke: #000000; stroke-width: 0.8; stroke: #000000; stroke-width: 0.8"/>
      </g>
     </g>
     <g id="text_23">
      <text style="font-size: 10px; font-family: 'DejaVu Sans', sans-serif; text-anchor: end" x="448.703325" y="119.395923" transform="rotate(-0 448.703325 119.395923)">19.50</text>
     </g>
    </g>
    <g id="ytick_4">
     <g id="line2d_24">
      <g>
       <path d="M 0 0 L -3.5 0" transform="translate(455.703325 88.053455)" style="stroke: #000000; stroke-width: 0.8; stroke: #000000; stroke-width: 0.8"/>
      </g>
     </g>
     <g id="text_24">
      <text style="font-size: 10px; font-family: 'DejaVu Sans', sans-serif; text-anchor: end" x="448.703325" y="91.852674" transform="rotate(-0 448.703325 91.852674)">19.75</text>
     </g>
    </g>
    <g id="ytick_5">
     <g id="line2d_25">
      <g>
       <path d="M 0 0 L -3.5 0" transform="translate(455.703325 60.510205)" style="stroke: #000000; stroke-width: 0.8; stroke: #000000; stroke-width: 0.8"/>
      </g>
     </g>
     <g id="text_25">
      <text style="font-size: 10px; font-family: 'DejaVu Sans', sans-serif; text-anchor: end" x="448.703325" y="64.309424" transform="rotate(-0 448.703325 64.309424)">20.00</text>
     </g>
    </g>
    <g id="text_26">
     <text style="font-size: 10px; font-family: 'DejaVu Sans', sans-serif; text-anchor: middle" x="413.995512" y="91.457801" transform="rotate(-90 413.995512 91.457801)">Min Temperature (°C)</text>
    </g>
   </g>
   <g id="line2d_26">
    <path d="M 463.917694 99.344056 L 465.264311 91.095841 L 466.610929 119.231418 L 467.957547 107.225683 L 469.304165 91.554075 L 470.650783 74.599411 L 471.997401 48.938299 L 473.344018 90.958371 L 474.690636 132.978443 L 476.037254 108.050505 L 477.383872 50.313001 L 478.73049 58.561216 L 480.077107 62.227089 L 481.423725 95.219948 L 482.770343 103.468163 L 484.116961 115.382251 L 485.463579 120.147886 L 486.810197 102.185107 L 488.156814 84.222329 L 489.503432 101.635226 L 490.85005 122.897291 L 492.196668 117.994186 L 493.543286 113.09108 L 494.889904 86.055265 L 496.236521 95.219948 L 497.583139 76.890582 L 498.929757 79.41087 L 500.276375 81.931158 L 501.622993 85.826148 L 502.969611 89.721138 L 504.316228 99.069115 L 505.662846 84.313975 L 507.009464 69.558836 L 508.356082 93.387012 L 509.7027 97.236179 L 511.049318 85.001327 L 512.395935 72.766475 L 513.742553 93.249541 L 515.089171 113.732608 L 516.435789 86.055265 L 517.782407 82.389392 L 519.129025 78.723519 L 520.475642 96.31971 L 521.82226 87.06338 L 523.168878 77.80705 L 524.515496 78.036168 L 525.862114 78.265285 L 527.208731 84.313975 L 528.555349 90.362666 L 529.901967 84.650014 L 531.248585 78.937361 L 532.595203 73.224709 L 533.941821 81.335453 L 535.288438 89.446198 L 536.635056 79.960751 L 537.981674 70.475304 L 539.328292 53.978875 L 540.67491 66.442843 L 542.021528 78.906812 L 543.368145 67.359312 L 544.714763 55.811811 L 546.061381 65.663845 L 547.407999 75.51588 L 548.754617 98.610881 L 550.101235 98.152647 L 551.447852 97.694413 L 552.79447 84.222329 L 554.141088 68.459074 L 555.487706 90.637607 L 556.834324 96.777944 L 558.180942 86.834263 L 559.527559 76.890582 L 560.874177 77.348816 L 562.220795 84.680563 L 563.567413 94.30348 L 564.914031 104.476278 L 566.260648 114.649076 L 567.607266 102.551695 L 568.953884 81.01469 L 570.300502 95.403242 L 571.64712 108.233798 L 572.993738 121.064355 L 574.340355 105.3011 L 575.686973 91.554075 L 577.033591 99.893937 L 578.380209 108.233798 L 579.726827 99.435703 L 581.073445 90.637607 L 582.420062 111.899671 L 583.76668 95.219948 L 585.113298 97.969353 L 586.459916 128.212807 L 587.806534 131.053859 L 589.153152 133.894911 L 590.499769 113.549314 L 591.846387 105.759334 L 593.193005 101.176992 L 594.539623 65.709669 L 595.886241 79.090106 L 597.232859 92.470543 L 598.579476 95.540712 L 599.926094 98.610881 L 601.272712 93.020424 L 602.61933 87.429968 L 603.965948 89.492021 L 605.312566 91.554075 L 606.659183 75.974114 L 608.005801 82.389392 L 609.352419 76.890582 L 610.699037 85.688678 L 612.045655 94.486774 L 613.392272 120.147886 L 614.73889 95.219948 L 616.085508 102.551695 L 617.432126 74.599411 L 618.778744 86.055265 L 620.125362 112.174612 L 621.471979 97.20563 L 622.818597 82.236647 L 624.165215 67.267665 L 625.511833 83.30586 L 626.858451 84.222329 L 628.205069 99.069115" clip-path="url(#p1a3fc370fa)" style="fill: none; stroke: #0000ff; stroke-width: 1.5; stroke-linecap: square"/>
    
    <g clip-path="url(#p1a3fc370fa)">
     <path d="M -0 3 L 3 -3 L -3 -3 z" transform="translate(463.917694 99.344056)" style="fill: #0000ff; stroke: #0000ff; stroke-linejoin: miter; stroke: #0000ff; stroke-linejoin: miter"/>
     <path d="M -0 3 L 3 -3 L -3 -3 z" transform="translate(465.264311 91.095841)" style="fill: #0000ff; stroke: #0000ff; stroke-linejoin: miter; stroke: #0000ff; stroke-linejoin: miter"/>
     <path d="M -0 3 L 3 -3 L -3 -3 z" transform="translate(466.610929 119.231418)" style="fill: #0000ff; stroke: #0000ff; stroke-linejoin: miter; stroke: #0000ff; stroke-linejoin: miter"/>
     <path d="M -0 3 L 3 -3 L -3 -3 z" transform="translate(467.957547 107.225683)" style="fill: #0000ff; stroke: #0000ff; stroke-linejoin: miter; stroke: #0000ff; stroke-linejoin: miter"/>
     <path d="M -0 3 L 3 -3 L -3 -3 z" transform="translate(469.304165 91.554075)" style="fill: #0000ff; stroke: #0000ff; stroke-linejoin: miter; stroke: #0000ff; stroke-linejoin: miter"/>
     <path d="M -0 3 L 3 -3 L -3 -3 z" transform="translate(470.650783 74.599411)" style="fill: #0000ff; stroke: #0000ff; stroke-linejoin: miter; stroke: #0000ff; stroke-linejoin: miter"/>
     <path d="M -0 3 L 3 -3 L -3 -3 z" transform="translate(471.997401 48.938299)" style="fill: #0000ff; stroke: #0000ff; stroke-linejoin: miter; stroke: #0000ff; stroke-linejoin: miter"/>
     <path d="M -0 3 L 3 -3 L -3 -3 z" transform="translate(473.344018 90.958371)" style="fill: #0000ff; stroke: #0000ff; stroke-linejoin: miter; stroke: #0000ff; stroke-linejoin: miter"/>
     <path d="M -0 3 L 3 -3 L -3 -3 z" transform="translate(474.690636 132.978443)" style="fill: #0000ff; stroke: #0000ff; stroke-linejoin: miter; stroke: #0000ff; stroke-linejoin: miter"/>
     <path d="M -0 3 L 3 -3 L -3 -3 z" transform="translate(476.037254 108.050505)" style="fill: #0000ff; stroke: #0000ff; stroke-linejoin: miter; stroke: #0000ff; stroke-linejoin: miter"/>
     <path d="M -0 3 L 3 -3 L -3 -3 z" transform="translate(477.383872 50.313001)" style="fill: #0000ff; stroke: #0000ff; stroke-linejoin: miter; stroke: #0000ff; stroke-linejoin: miter"/>
     <path d="M -0 3 L 3 -3 L -3 -3 z" transform="translate(478.73049 58.561216)" style="fill: #0000ff; stroke: #0000ff; stroke-linejoin: miter; stroke: #0000ff; stroke-linejoin: miter"/>
     <path d="M -0 3 L 3 -3 L -3 -3 z" transform="translate(480.077107 62.227089)" style="fill: #0000ff; stroke: #0000ff; stroke-linejoin: miter; stroke: #0000ff; stroke-linejoin: miter"/>
     <path d="M -0 3 L 3 -3 L -3 -3 z" transform="translate(481.423725 95.219948)" style="fill: #0000ff; stroke: #0000ff; stroke-linejoin: miter; stroke: #0000ff; stroke-linejoin: miter"/>
     <path d="M -0 3 L 3 -3 L -3 -3 z" transform="translate(482.770343 103.468163)" style="fill: #0000ff; stroke: #0000ff; stroke-linejoin: miter; stroke: #0000ff; stroke-linejoin: miter"/>
     <path d="M -0 3 L 3 -3 L -3 -3 z" transform="translate(484.116961 115.382251)" style="fill: #0000ff; stroke: #0000ff; stroke-linejoin: miter; stroke: #0000ff; stroke-linejoin: miter"/>
     <path d="M -0 3 L 3 -3 L -3 -3 z" transform="translate(485.463579 120.147886)" style="fill: #0000ff; stroke: #0000ff; stroke-linejoin: miter; stroke: #0000ff; stroke-linejoin: miter"/>
     <path d="M -0 3 L 3 -3 L -3 -3 z" transform="translate(486.810197 102.185107)" style="fill: #0000ff; stroke: #0000ff; stroke-linejoin: miter; stroke: #0000ff; stroke-linejoin: miter"/>
     <path d="M -0 3 L 3 -3 L -3 -3 z" transform="translate(488.156814 84.222329)" style="fill: #0000ff; stroke: #0000ff; stroke-linejoin: miter; stroke: #0000ff; stroke-linejoin: miter"/>
     <path d="M -0 3 L 3 -3 L -3 -3 z" transform="translate(489.503432 101.635226)" style="fill: #0000ff; stroke: #0000ff; stroke-linejoin: miter; stroke: #0000ff; stroke-linejoin: miter"/>
     <path d="M -0 3 L 3 -3 L -3 -3 z" transform="translate(490.85005 122.897291)" style="fill: #0000ff; stroke: #0000ff; stroke-linejoin: miter; stroke: #0000ff; stroke-linejoin: miter"/>
     <path d="M -0 3 L 3 -3 L -3 -3 z" transform="translate(492.196668 117.994186)" style="fill: #0000ff; stroke: #0000ff; stroke-linejoin: miter; stroke: #0000ff; stroke-linejoin: miter"/>
     <path d="M -0 3 L 3 -3 L -3 -3 z" transform="translate(493.543286 113.09108)" style="fill: #0000ff; stroke: #0000ff; stroke-linejoin: miter; stroke: #0000ff; stroke-linejoin: miter"/>
     <path d="M -0 3 L 3 -3 L -3 -3 z" transform="translate(494.889904 86.055265)" style="fill: #0000ff; stroke: #0000ff; stroke-linejoin: miter; stroke: #0000ff; stroke-linejoin: miter"/>
     <path d="M -0 3 L 3 -3 L -3 -3 z" transform="translate(496.236521 95.219948)" style="fill: #0000ff; stroke: #0000ff; stroke-linejoin: miter; stroke: #0000ff; stroke-linejoin: miter"/>
     <path d="M -0 3 L 3 -3 L -3 -3 z" transform="translate(497.583139 76.890582)" style="fill: #0000ff; stroke: #0000ff; stroke-linejoin: miter; stroke: #0000ff; stroke-linejoin: miter"/>
     <path d="M -0 3 L 3 -3 L -3 -3 z" transform="translate(498.929757 79.41087)" style="fill: #0000ff; stroke: #0000ff; stroke-linejoin: miter; stroke: #0000ff; stroke-linejoin: miter"/>
     <path d="M -0 3 L 3 -3 L -3 -3 z" transform="translate(500.276375 81.931158)" style="fill: #0000ff; stroke: #0000ff; stroke-linejoin: miter; stroke: #0000ff; stroke-linejoin: miter"/>
     <path d="M -0 3 L 3 -3 L -3 -3 z" transform="translate(501.622993 85.826148)" style="fill: #0000ff; stroke: #0000ff; stroke-linejoin: miter; stroke: #0000ff; stroke-linejoin: miter"/>
     <path d="M -0 3 L 3 -3 L -3 -3 z" transform="translate(502.969611 89.721138)" style="fill: #0000ff; stroke: #0000ff; stroke-linejoin: miter; stroke: #0000ff; stroke-linejoin: miter"/>
     <path d="M -0 3 L 3 -3 L -3 -3 z" transform="translate(504.316228 99.069115)" style="fill: #0000ff; stroke: #0000ff; stroke-linejoin: miter; stroke: #0000ff; stroke-linejoin: miter"/>
     <path d="M -0 3 L 3 -3 L -3 -3 z" transform="translate(505.662846 84.313975)" style="fill: #0000ff; stroke: #0000ff; stroke-linejoin: miter; stroke: #0000ff; stroke-linejoin: miter"/>
     <path d="M -0 3 L 3 -3 L -3 -3 z" transform="translate(507.009464 69.558836)" style="fill: #0000ff; stroke: #0000ff; stroke-linejoin: miter; stroke: #0000ff; stroke-linejoin: miter"/>
     <path d="M -0 3 L 3 -3 L -3 -3 z" transform="translate(508.356082 93.387012)" style="fill: #0000ff; stroke: #0000ff; stroke-linejoin: miter; stroke: #0000ff; stroke-linejoin: miter"/>
     <path d="M -0 3 L 3 -3 L -3 -3 z" transform="translate(509.7027 97.236179)" style="fill: #0000ff; stroke: #0000ff; stroke-linejoin: miter; stroke: #0000ff; stroke-linejoin: miter"/>
     <path d="M -0 3 L 3 -3 L -3 -3 z" transform="translate(511.049318 85.001327)" style="fill: #0000ff; stroke: #0000ff; stroke-linejoin: miter; stroke: #0000ff; stroke-linejoin: miter"/>
     <path d="M -0 3 L 3 -3 L -3 -3 z" transform="translate(512.395935 72.766475)" style="fill: #0000ff; stroke: #0000ff; stroke-linejoin: miter; stroke: #0000ff; stroke-linejoin: miter"/>
     <path d="M -0 3 L 3 -3 L -3 -3 z" transform="translate(513.742553 93.249541)" style="fill: #0000ff; stroke: #0000ff; stroke-linejoin: miter; stroke: #0000ff; stroke-linejoin: miter"/>
     <path d="M -0 3 L 3 -3 L -3 -3 z" transform="translate(515.089171 113.732608)" style="fill: #0000ff; stroke: #0000ff; stroke-linejoin: miter; stroke: #0000ff; stroke-linejoin: miter"/>
     <path d="M -0 3 L 3 -3 L -3 -3 z" transform="translate(516.435789 86.055265)" style="fill: #0000ff; stroke: #0000ff; stroke-linejoin: miter; stroke: #0000ff; stroke-linejoin: miter"/>
     <path d="M -0 3 L 3 -3 L -3 -3 z" transform="translate(517.782407 82.389392)" style="fill: #0000ff; stroke: #0000ff; stroke-linejoin: miter; stroke: #0000ff; stroke-linejoin: miter"/>
     <path d="M -0 3 L 3 -3 L -3 -3 z" transform="translate(519.129025 78.723519)" style="fill: #0000ff; stroke: #0000ff; stroke-linejoin: miter; stroke: #0000ff; stroke-linejoin: miter"/>
     <path d="M -0 3 L 3 -3 L -3 -3 z" transform="translate(520.475642 96.31971)" style="fill: #0000ff; stroke: #0000ff; stroke-linejoin: miter; stroke: #0000ff; stroke-linejoin: miter"/>
     <path d="M -0 3 L 3 -3 L -3 -3 z" transform="translate(521.82226 87.06338)" style="fill: #0000ff; stroke: #0000ff; stroke-linejoin: miter; stroke: #0000ff; stroke-linejoin: miter"/>
     <path d="M -0 3 L 3 -3 L -3 -3 z" transform="translate(523.168878 77.80705)" style="fill: #0000ff; stroke: #0000ff; stroke-linejoin: miter; stroke: #0000ff; stroke-linejoin: miter"/>
     <path d="M -0 3 L 3 -3 L -3 -3 z" transform="translate(524.515496 78.036168)" style="fill: #0000ff; stroke: #0000ff; stroke-linejoin: miter; stroke: #0000ff; stroke-linejoin: miter"/>
     <path d="M -0 3 L 3 -3 L -3 -3 z" transform="translate(525.862114 78.265285)" style="fill: #0000ff; stroke: #0000ff; stroke-linejoin: miter; stroke: #0000ff; stroke-linejoin: miter"/>
     <path d="M -0 3 L 3 -3 L -3 -3 z" transform="translate(527.208731 84.313975)" style="fill: #0000ff; stroke: #0000ff; stroke-linejoin: miter; stroke: #0000ff; stroke-linejoin: miter"/>
     <path d="M -0 3 L 3 -3 L -3 -3 z" transform="translate(528.555349 90.362666)" style="fill: #0000ff; stroke: #0000ff; stroke-linejoin: miter; stroke: #0000ff; stroke-linejoin: miter"/>
     <path d="M -0 3 L 3 -3 L -3 -3 z" transform="translate(529.901967 84.650014)" style="fill: #0000ff; stroke: #0000ff; stroke-linejoin: miter; stroke: #0000ff; stroke-linejoin: miter"/>
     <path d="M -0 3 L 3 -3 L -3 -3 z" transform="translate(531.248585 78.937361)" style="fill: #0000ff; stroke: #0000ff; stroke-linejoin: miter; stroke: #0000ff; stroke-linejoin: miter"/>
     <path d="M -0 3 L 3 -3 L -3 -3 z" transform="translate(532.595203 73.224709)" style="fill: #0000ff; stroke: #0000ff; stroke-linejoin: miter; stroke: #0000ff; stroke-linejoin: miter"/>
     <path d="M -0 3 L 3 -3 L -3 -3 z" transform="translate(533.941821 81.335453)" style="fill: #0000ff; stroke: #0000ff; stroke-linejoin: miter; stroke: #0000ff; stroke-linejoin: miter"/>
     <path d="M -0 3 L 3 -3 L -3 -3 z" transform="translate(535.288438 89.446198)" style="fill: #0000ff; stroke: #0000ff; stroke-linejoin: miter; stroke: #0000ff; stroke-linejoin: miter"/>
     <path d="M -0 3 L 3 -3 L -3 -3 z" transform="translate(536.635056 79.960751)" style="fill: #0000ff; stroke: #0000ff; stroke-linejoin: miter; stroke: #0000ff; stroke-linejoin: miter"/>
     <path d="M -0 3 L 3 -3 L -3 -3 z" transform="translate(537.981674 70.475304)" style="fill: #0000ff; stroke: #0000ff; stroke-linejoin: miter; stroke: #0000ff; stroke-linejoin: miter"/>
     <path d="M -0 3 L 3 -3 L -3 -3 z" transform="translate(539.328292 53.978875)" style="fill: #0000ff; stroke: #0000ff; stroke-linejoin: miter; stroke: #0000ff; stroke-linejoin: miter"/>
     <path d="M -0 3 L 3 -3 L -3 -3 z" transform="translate(540.67491 66.442843)" style="fill: #0000ff; stroke: #0000ff; stroke-linejoin: miter; stroke: #0000ff; stroke-linejoin: miter"/>
     <path d="M -0 3 L 3 -3 L -3 -3 z" transform="translate(542.021528 78.906812)" style="fill: #0000ff; stroke: #0000ff; stroke-linejoin: miter; stroke: #0000ff; stroke-linejoin: miter"/>
     <path d="M -0 3 L 3 -3 L -3 -3 z" transform="translate(543.368145 67.359312)" style="fill: #0000ff; stroke: #0000ff; stroke-linejoin: miter; stroke: #0000ff; stroke-linejoin: miter"/>
     <path d="M -0 3 L 3 -3 L -3 -3 z" transform="translate(544.714763 55.811811)" style="fill: #0000ff; stroke: #0000ff; stroke-linejoin: miter; stroke: #0000ff; stroke-linejoin: miter"/>
     <path d="M -0 3 L 3 -3 L -3 -3 z" transform="translate(546.061381 65.663845)" style="fill: #0000ff; stroke: #0000ff; stroke-linejoin: miter; stroke: #0000ff; stroke-linejoin: miter"/>
     <path d="M -0 3 L 3 -3 L -3 -3 z" transform="translate(547.407999 75.51588)" style="fill: #0000ff; stroke: #0000ff; stroke-linejoin: miter; stroke: #0000ff; stroke-linejoin: miter"/>
     <path d="M -0 3 L 3 -3 L -3 -3 z" transform="translate(548.754617 98.610881)" style="fill: #0000ff; stroke: #0000ff; stroke-linejoin: miter; stroke: #0000ff; stroke-linejoin: miter"/>
     <path d="M -0 3 L 3 -3 L -3 -3 z" transform="translate(550.101235 98.152647)" style="fill: #0000ff; stroke: #0000ff; stroke-linejoin: miter; stroke: #0000ff; stroke-linejoin: miter"/>
     <path d="M -0 3 L 3 -3 L -3 -3 z" transform="translate(551.447852 97.694413)" style="fill: #0000ff; stroke: #0000ff; stroke-linejoin: miter; stroke: #0000ff; stroke-linejoin: miter"/>
     <path d="M -0 3 L 3 -3 L -3 -3 z" transform="translate(552.79447 84.222329)" style="fill: #0000ff; stroke: #0000ff; stroke-linejoin: miter; stroke: #0000ff; stroke-linejoin: miter"/>
     <path d="M -0 3 L 3 -3 L -3 -3 z" transform="translate(554.141088 68.459074)" style="fill: #0000ff; stroke: #0000ff; stroke-linejoin: miter; stroke: #0000ff; stroke-linejoin: miter"/>
     <path d="M -0 3 L 3 -3 L -3 -3 z" transform="translate(555.487706 90.637607)" style="fill: #0000ff; stroke: #0000ff; stroke-linejoin: miter; stroke: #0000ff; stroke-linejoin: miter"/>
     <path d="M -0 3 L 3 -3 L -3 -3 z" transform="translate(556.834324 96.777944)" style="fill: #0000ff; stroke: #0000ff; stroke-linejoin: miter; stroke: #0000ff; stroke-linejoin: miter"/>
     <path d="M -0 3 L 3 -3 L -3 -3 z" transform="translate(558.180942 86.834263)" style="fill: #0000ff; stroke: #0000ff; stroke-linejoin: miter; stroke: #0000ff; stroke-linejoin: miter"/>
     <path d="M -0 3 L 3 -3 L -3 -3 z" transform="translate(559.527559 76.890582)" style="fill: #0000ff; stroke: #0000ff; stroke-linejoin: miter; stroke: #0000ff; stroke-linejoin: miter"/>
     <path d="M -0 3 L 3 -3 L -3 -3 z" transform="translate(560.874177 77.348816)" style="fill: #0000ff; stroke: #0000ff; stroke-linejoin: miter; stroke: #0000ff; stroke-linejoin: miter"/>
     <path d="M -0 3 L 3 -3 L -3 -3 z" transform="translate(562.220795 84.680563)" style="fill: #0000ff; stroke: #0000ff; stroke-linejoin: miter; stroke: #0000ff; stroke-linejoin: miter"/>
     <path d="M -0 3 L 3 -3 L -3 -3 z" transform="translate(563.567413 94.30348)" style="fill: #0000ff; stroke: #0000ff; stroke-linejoin: miter; stroke: #0000ff; stroke-linejoin: miter"/>
     <path d="M -0 3 L 3 -3 L -3 -3 z" transform="translate(564.914031 104.476278)" style="fill: #0000ff; stroke: #0000ff; stroke-linejoin: miter; stroke: #0000ff; stroke-linejoin: miter"/>
     <path d="M -0 3 L 3 -3 L -3 -3 z" transform="translate(566.260648 114.649076)" style="fill: #0000ff; stroke: #0000ff; stroke-linejoin: miter; stroke: #0000ff; stroke-linejoin: miter"/>
     <path d="M -0 3 L 3 -3 L -3 -3 z" transform="translate(567.607266 102.551695)" style="fill: #0000ff; stroke: #0000ff; stroke-linejoin: miter; stroke: #0000ff; stroke-linejoin: miter"/>
     <path d="M -0 3 L 3 -3 L -3 -3 z" transform="translate(568.953884 81.01469)" style="fill: #0000ff; stroke: #0000ff; stroke-linejoin: miter; stroke: #0000ff; stroke-linejoin: miter"/>
     <path d="M -0 3 L 3 -3 L -3 -3 z" transform="translate(570.300502 95.403242)" style="fill: #0000ff; stroke: #0000ff; stroke-linejoin: miter; stroke: #0000ff; stroke-linejoin: miter"/>
     <path d="M -0 3 L 3 -3 L -3 -3 z" transform="translate(571.64712 108.233798)" style="fill: #0000ff; stroke: #0000ff; stroke-linejoin: miter; stroke: #0000ff; stroke-linejoin: miter"/>
     <path d="M -0 3 L 3 -3 L -3 -3 z" transform="translate(572.993738 121.064355)" style="fill: #0000ff; stroke: #0000ff; stroke-linejoin: miter; stroke: #0000ff; stroke-linejoin: miter"/>
     <path d="M -0 3 L 3 -3 L -3 -3 z" transform="translate(574.340355 105.3011)" style="fill: #0000ff; stroke: #0000ff; stroke-linejoin: miter; stroke: #0000ff; stroke-linejoin: miter"/>
     <path d="M -0 3 L 3 -3 L -3 -3 z" transform="translate(575.686973 91.554075)" style="fill: #0000ff; stroke: #0000ff; stroke-linejoin: miter; stroke: #0000ff; stroke-linejoin: miter"/>
     <path d="M -0 3 L 3 -3 L -3 -3 z" transform="translate(577.033591 99.893937)" style="fill: #0000ff; stroke: #0000ff; stroke-linejoin: miter; stroke: #0000ff; stroke-linejoin: miter"/>
     <path d="M -0 3 L 3 -3 L -3 -3 z" transform="translate(578.380209 108.233798)" style="fill: #0000ff; stroke: #0000ff; stroke-linejoin: miter; stroke: #0000ff; stroke-linejoin: miter"/>
     <path d="M -0 3 L 3 -3 L -3 -3 z" transform="translate(579.726827 99.435703)" style="fill: #0000ff; stroke: #0000ff; stroke-linejoin: miter; stroke: #0000ff; stroke-linejoin: miter"/>
     <path d="M -0 3 L 3 -3 L -3 -3 z" transform="translate(581.073445 90.637607)" style="fill: #0000ff; stroke: #0000ff; stroke-linejoin: miter; stroke: #0000ff; stroke-linejoin: miter"/>
     <path d="M -0 3 L 3 -3 L -3 -3 z" transform="translate(582.420062 111.899671)" style="fill: #0000ff; stroke: #0000ff; stroke-linejoin: miter; stroke: #0000ff; stroke-linejoin: miter"/>
     <path d="M -0 3 L 3 -3 L -3 -3 z" transform="translate(583.76668 95.219948)" style="fill: #0000ff; stroke: #0000ff; stroke-linejoin: miter; stroke: #0000ff; stroke-linejoin: miter"/>
     <path d="M -0 3 L 3 -3 L -3 -3 z" transform="translate(585.113298 97.969353)" style="fill: #0000ff; stroke: #0000ff; stroke-linejoin: miter; stroke: #0000ff; stroke-linejoin: miter"/>
     <path d="M -0 3 L 3 -3 L -3 -3 z" transform="translate(586.459916 128.212807)" style="fill: #0000ff; stroke: #0000ff; stroke-linejoin: miter; stroke: #0000ff; stroke-linejoin: miter"/>
     <path d="M -0 3 L 3 -3 L -3 -3 z" transform="translate(587.806534 131.053859)" style="fill: #0000ff; stroke: #0000ff; stroke-linejoin: miter; stroke: #0000ff; stroke-linejoin: miter"/>
     <path d="M -0 3 L 3 -3 L -3 -3 z" transform="translate(589.153152 133.894911)" style="fill: #0000ff; stroke: #0000ff; stroke-linejoin: miter; stroke: #0000ff; stroke-linejoin: miter"/>
     <path d="M -0 3 L 3 -3 L -3 -3 z" transform="translate(590.499769 113.549314)" style="fill: #0000ff; stroke: #0000ff; stroke-linejoin: miter; stroke: #0000ff; stroke-linejoin: miter"/>
     <path d="M -0 3 L 3 -3 L -3 -3 z" transform="translate(591.846387 105.759334)" style="fill: #0000ff; stroke: #0000ff; stroke-linejoin: miter; stroke: #0000ff; stroke-linejoin: miter"/>
     <path d="M -0 3 L 3 -3 L -3 -3 z" transform="translate(593.193005 101.176992)" style="fill: #0000ff; stroke: #0000ff; stroke-linejoin: miter; stroke: #0000ff; stroke-linejoin: miter"/>
     <path d="M -0 3 L 3 -3 L -3 -3 z" transform="translate(594.539623 65.709669)" style="fill: #0000ff; stroke: #0000ff; stroke-linejoin: miter; stroke: #0000ff; stroke-linejoin: miter"/>
     <path d="M -0 3 L 3 -3 L -3 -3 z" transform="translate(595.886241 79.090106)" style="fill: #0000ff; stroke: #0000ff; stroke-linejoin: miter; stroke: #0000ff; stroke-linejoin: miter"/>
     <path d="M -0 3 L 3 -3 L -3 -3 z" transform="translate(597.232859 92.470543)" style="fill: #0000ff; stroke: #0000ff; stroke-linejoin: miter; stroke: #0000ff; stroke-linejoin: miter"/>
     <path d="M -0 3 L 3 -3 L -3 -3 z" transform="translate(598.579476 95.540712)" style="fill: #0000ff; stroke: #0000ff; stroke-linejoin: miter; stroke: #0000ff; stroke-linejoin: miter"/>
     <path d="M -0 3 L 3 -3 L -3 -3 z" transform="translate(599.926094 98.610881)" style="fill: #0000ff; stroke: #0000ff; stroke-linejoin: miter; stroke: #0000ff; stroke-linejoin: miter"/>
     <path d="M -0 3 L 3 -3 L -3 -3 z" transform="translate(601.272712 93.020424)" style="fill: #0000ff; stroke: #0000ff; stroke-linejoin: miter; stroke: #0000ff; stroke-linejoin: miter"/>
     <path d="M -0 3 L 3 -3 L -3 -3 z" transform="translate(602.61933 87.429968)" style="fill: #0000ff; stroke: #0000ff; stroke-linejoin: miter; stroke: #0000ff; stroke-linejoin: miter"/>
     <path d="M -0 3 L 3 -3 L -3 -3 z" transform="translate(603.965948 89.492021)" style="fill: #0000ff; stroke: #0000ff; stroke-linejoin: miter; stroke: #0000ff; stroke-linejoin: miter"/>
     <path d="M -0 3 L 3 -3 L -3 -3 z" transform="translate(605.312566 91.554075)" style="fill: #0000ff; stroke: #0000ff; stroke-linejoin: miter; stroke: #0000ff; stroke-linejoin: miter"/>
     <path d="M -0 3 L 3 -3 L -3 -3 z" transform="translate(606.659183 75.974114)" style="fill: #0000ff; stroke: #0000ff; stroke-linejoin: miter; stroke: #0000ff; stroke-linejoin: miter"/>
     <path d="M -0 3 L 3 -3 L -3 -3 z" transform="translate(608.005801 82.389392)" style="fill: #0000ff; stroke: #0000ff; stroke-linejoin: miter; stroke: #0000ff; stroke-linejoin: miter"/>
     <path d="M -0 3 L 3 -3 L -3 -3 z" transform="translate(609.352419 76.890582)" style="fill: #0000ff; stroke: #0000ff; stroke-linejoin: miter; stroke: #0000ff; stroke-linejoin: miter"/>
     <path d="M -0 3 L 3 -3 L -3 -3 z" transform="translate(610.699037 85.688678)" style="fill: #0000ff; stroke: #0000ff; stroke-linejoin: miter; stroke: #0000ff; stroke-linejoin: miter"/>
     <path d="M -0 3 L 3 -3 L -3 -3 z" transform="translate(612.045655 94.486774)" style="fill: #0000ff; stroke: #0000ff; stroke-linejoin: miter; stroke: #0000ff; stroke-linejoin: miter"/>
     <path d="M -0 3 L 3 -3 L -3 -3 z" transform="translate(613.392272 120.147886)" style="fill: #0000ff; stroke: #0000ff; stroke-linejoin: miter; stroke: #0000ff; stroke-linejoin: miter"/>
     <path d="M -0 3 L 3 -3 L -3 -3 z" transform="translate(614.73889 95.219948)" style="fill: #0000ff; stroke: #0000ff; stroke-linejoin: miter; stroke: #0000ff; stroke-linejoin: miter"/>
     <path d="M -0 3 L 3 -3 L -3 -3 z" transform="translate(616.085508 102.551695)" style="fill: #0000ff; stroke: #0000ff; stroke-linejoin: miter; stroke: #0000ff; stroke-linejoin: miter"/>
     <path d="M -0 3 L 3 -3 L -3 -3 z" transform="translate(617.432126 74.599411)" style="fill: #0000ff; stroke: #0000ff; stroke-linejoin: miter; stroke: #0000ff; stroke-linejoin: miter"/>
     <path d="M -0 3 L 3 -3 L -3 -3 z" transform="translate(618.778744 86.055265)" style="fill: #0000ff; stroke: #0000ff; stroke-linejoin: miter; stroke: #0000ff; stroke-linejoin: miter"/>
     <path d="M -0 3 L 3 -3 L -3 -3 z" transform="translate(620.125362 112.174612)" style="fill: #0000ff; stroke: #0000ff; stroke-linejoin: miter; stroke: #0000ff; stroke-linejoin: miter"/>
     <path d="M -0 3 L 3 -3 L -3 -3 z" transform="translate(621.471979 97.20563)" style="fill: #0000ff; stroke: #0000ff; stroke-linejoin: miter; stroke: #0000ff; stroke-linejoin: miter"/>
     <path d="M -0 3 L 3 -3 L -3 -3 z" transform="translate(622.818597 82.236647)" style="fill: #0000ff; stroke: #0000ff; stroke-linejoin: miter; stroke: #0000ff; stroke-linejoin: miter"/>
     <path d="M -0 3 L 3 -3 L -3 -3 z" transform="translate(624.165215 67.267665)" style="fill: #0000ff; stroke: #0000ff; stroke-linejoin: miter; stroke: #0000ff; stroke-linejoin: miter"/>
     <path d="M -0 3 L 3 -3 L -3 -3 z" transform="translate(625.511833 83.30586)" style="fill: #0000ff; stroke: #0000ff; stroke-linejoin: miter; stroke: #0000ff; stroke-linejoin: miter"/>
     <path d="M -0 3 L 3 -3 L -3 -3 z" transform="translate(626.858451 84.222329)" style="fill: #0000ff; stroke: #0000ff; stroke-linejoin: miter; stroke: #0000ff; stroke-linejoin: miter"/>
     <path d="M -0 3 L 3 -3 L -3 -3 z" transform="translate(628.205069 99.069115)" style="fill: #0000ff; stroke: #0000ff; stroke-linejoin: miter; stroke: #0000ff; stroke-linejoin: miter"/>
    </g>
   </g>
   <g id="line2d_27">
    <path d="M 455.703325 60.510205 L 636.419437 60.510205" clip-path="url(#p1a3fc370fa)" style="fill: none; stroke: #ff0000; stroke-width: 1.5; stroke-linecap: square"/>
   </g>
   <g id="line2d_28">
    <path d="M 489.503432 138.567775 L 489.503432 44.347826" clip-path="url(#p1a3fc370fa)" style="fill: none; stroke-dasharray: 5.55,2.4; stroke-dashoffset: 0; stroke: #008000; stroke-width: 1.5"/>
   </g>
   <g id="line2d_29">
    <path d="M 610.699037 138.567775 L 610.699037 44.347826" clip-path="url(#p1a3fc370fa)" style="fill: none; stroke-dasharray: 5.55,2.4; stroke-dashoffset: 0; stroke: #000000; stroke-width: 1.5"/>
   </g>
   <g id="patch_9">
    <path d="M 455.703325 138.567775 L 455.703325 44.347826" style="fill: none; stroke: #000000; stroke-width: 0.8; stroke-linejoin: miter; stroke-linecap: square"/>
   </g>
   <g id="patch_10">
    <path d="M 636.419437 138.567775 L 636.419437 44.347826" style="fill: none; stroke: #000000; stroke-width: 0.8; stroke-linejoin: miter; stroke-linecap: square"/>
   </g>
   <g id="patch_11">
    <path d="M 455.703325 138.567775 L 636.419437 138.567775" style="fill: none; stroke: #000000; stroke-width: 0.8; stroke-linejoin: miter; stroke-linecap: square"/>
   </g>
   <g id="patch_12">
    <path d="M 455.703325 44.347826 L 636.419437 44.347826" style="fill: none; stroke: #000000; stroke-width: 0.8; stroke-linejoin: miter; stroke-linecap: square"/>
   </g>
   <g id="text_27">
    <text style="font-size: 12px; font-family: 'DejaVu Sans', sans-serif" transform="translate(457.826694 24.910451)">Growing Season Climatology&#160;</text>
    <text style="font-size: 12px; font-family: 'DejaVu Sans', sans-serif" transform="translate(450.523569 38.347826)">&#160;of Daily Minimum Temperature</text>
   </g>
   <g id="legend_2">
    <g id="patch_13">
     <path d="M 645.375959 106.622986 L 779.304084 106.622986 Q 781.304084 106.622986 781.304084 104.622986 L 781.304084 46.910486 Q 781.304084 44.910486 779.304084 44.910486 L 645.375959 44.910486 Q 643.375959 44.910486 643.375959 46.910486 L 643.375959 104.622986 Q 643.375959 106.622986 645.375959 106.622986 z" style="fill: #ffffff; opacity: 0.8; stroke: #cccccc; stroke-linejoin: miter"/>
    </g>
    <g id="line2d_30">
     <path d="M 647.375959 53.008923 L 657.375959 53.008923 L 667.375959 53.008923" style="fill: none; stroke: #0000ff; stroke-width: 1.5; stroke-linecap: square"/>
     <g>
      <path d="M -0 3 L 3 -3 L -3 -3 z" transform="translate(657.375959 53.008923)" style="fill: #0000ff; stroke: #0000ff; stroke-linejoin: miter; stroke: #0000ff; stroke-linejoin: miter"/>
     </g>
    </g>
    <g id="text_28">
     <text style="font-size: 10px; font-family: 'DejaVu Sans', sans-serif; text-anchor: start" x="675.375959" y="56.508923" transform="rotate(-0 675.375959 56.508923)">Tmin</text>
    </g>
    <g id="line2d_31">
     <path d="M 647.375959 67.687048 L 657.375959 67.687048 L 667.375959 67.687048" style="fill: none; stroke: #ff0000; stroke-width: 1.5; stroke-linecap: square"/>
    </g>
    <g id="text_29">
     <text style="font-size: 10px; font-family: 'DejaVu Sans', sans-serif; text-anchor: start" x="675.375959" y="71.187048" transform="rotate(-0 675.375959 71.187048)">night heat threshold</text>
    </g>
    <g id="line2d_32">
     <path d="M 647.375959 82.365173 L 657.375959 82.365173 L 667.375959 82.365173" style="fill: none; stroke-dasharray: 5.55,2.4; stroke-dashoffset: 0; stroke: #008000; stroke-width: 1.5"/>
    </g>
    <g id="text_30">
     <text style="font-size: 10px; font-family: 'DejaVu Sans', sans-serif; text-anchor: start" x="675.375959" y="85.865173" transform="rotate(-0 675.375959 85.865173)">sowing</text>
    </g>
    <g id="line2d_33">
     <path d="M 647.375959 97.043298 L 657.375959 97.043298 L 667.375959 97.043298" style="fill: none; stroke-dasharray: 5.55,2.4; stroke-dashoffset: 0; stroke: #000000; stroke-width: 1.5"/>
    </g>
    <g id="text_31">
     <text style="font-size: 10px; font-family: 'DejaVu Sans', sans-serif; text-anchor: start" x="675.375959" y="100.543298" transform="rotate(-0 675.375959 100.543298)">maturity</text>
    </g>
   </g>
  </g>
  <g id="axes_3">
   <g id="patch_14">
    <path d="M 60.818414 318.87468 L 241.381074 318.87468 L 241.381074 225.012788 L 60.818414 225.012788 z" style="fill: #ffffff"/>
   </g>
   <g id="matplotlib.axis_5">
    <g id="xtick_13">
     <g id="line2d_34">
      <g>
       <path d="M 0 0 L 0 3.5" transform="translate(67.680334 318.87468)" style="stroke: #000000; stroke-width: 0.8; stroke: #000000; stroke-width: 0.8"/>
      </g>
     </g>
     <g id="text_32">
      <text style="font-size: 10px; font-family: 'DejaVu Sans', sans-serif; text-anchor: middle" x="67.680334" y="333.473118" transform="rotate(-0 67.680334 333.473118)">0</text>
     </g>
    </g>
    <g id="xtick_14">
     <g id="line2d_35">
      <g>
       <path d="M 0 0 L 0 3.5" transform="translate(101.317193 318.87468)" style="stroke: #000000; stroke-width: 0.8; stroke: #000000; stroke-width: 0.8"/>
      </g>
     </g>
     <g id="text_33">
      <text style="font-size: 10px; font-family: 'DejaVu Sans', sans-serif; text-anchor: middle" x="101.317193" y="333.473118" transform="rotate(-0 101.317193 333.473118)">25</text>
     </g>
    </g>
    <g id="xtick_15">
     <g id="line2d_36">
      <g>
       <path d="M 0 0 L 0 3.5" transform="translate(134.954052 318.87468)" style="stroke: #000000; stroke-width: 0.8; stroke: #000000; stroke-width: 0.8"/>
      </g>
     </g>
     <g id="text_34">
      <text style="font-size: 10px; font-family: 'DejaVu Sans', sans-serif; text-anchor: middle" x="134.954052" y="333.473118" transform="rotate(-0 134.954052 333.473118)">50</text>
     </g>
    </g>
    <g id="xtick_16">
     <g id="line2d_37">
      <g>
       <path d="M 0 0 L 0 3.5" transform="translate(168.590911 318.87468)" style="stroke: #000000; stroke-width: 0.8; stroke: #000000; stroke-width: 0.8"/>
      </g>
     </g>
     <g id="text_35">
      <text style="font-size: 10px; font-family: 'DejaVu Sans', sans-serif; text-anchor: middle" x="168.590911" y="333.473118" transform="rotate(-0 168.590911 333.473118)">75</text>
     </g>
    </g>
    <g id="xtick_17">
     <g id="line2d_38">
      <g>
       <path d="M 0 0 L 0 3.5" transform="translate(202.22777 318.87468)" style="stroke: #000000; stroke-width: 0.8; stroke: #000000; stroke-width: 0.8"/>
      </g>
     </g>
     <g id="text_36">
      <text style="font-size: 10px; font-family: 'DejaVu Sans', sans-serif; text-anchor: middle" x="202.22777" y="333.473118" transform="rotate(-0 202.22777 333.473118)">100</text>
     </g>
    </g>
    <g id="xtick_18">
     <g id="line2d_39">
      <g>
       <path d="M 0 0 L 0 3.5" transform="translate(235.864629 318.87468)" style="stroke: #000000; stroke-width: 0.8; stroke: #000000; stroke-width: 0.8"/>
      </g>
     </g>
     <g id="text_37">
      <text style="font-size: 10px; font-family: 'DejaVu Sans', sans-serif; text-anchor: middle" x="235.864629" y="333.473118" transform="rotate(-0 235.864629 333.473118)">125</text>
     </g>
    </g>
    <g id="text_38">
     <text style="font-size: 10px; font-family: 'DejaVu Sans', sans-serif; text-anchor: middle" x="151.099744" y="347.151243" transform="rotate(-0 151.099744 347.151243)">Days Since October 1st</text>
    </g>
   </g>
   <g id="matplotlib.axis_6">
    <g id="ytick_6">
     <g id="line2d_40">
      <g>
       <path d="M 0 0 L -3.5 0" transform="translate(60.818414 318.763863)" style="stroke: #000000; stroke-width: 0.8; stroke: #000000; stroke-width: 0.8"/>
      </g>
     </g>
     <g id="text_39">
      <text style="font-size: 10px; font-family: 'DejaVu Sans', sans-serif; text-anchor: end" x="53.818414" y="322.563082" transform="rotate(-0 53.818414 322.563082)">14</text>
     </g>
    </g>
    <g id="ytick_7">
     <g id="line2d_41">
      <g>
       <path d="M 0 0 L -3.5 0" transform="translate(60.818414 291.059645)" style="stroke: #000000; stroke-width: 0.8; stroke: #000000; stroke-width: 0.8"/>
      </g>
     </g>
     <g id="text_40">
      <text style="font-size: 10px; font-family: 'DejaVu Sans', sans-serif; text-anchor: end" x="53.818414" y="294.858864" transform="rotate(-0 53.818414 294.858864)">15</text>
     </g>
    </g>
    <g id="ytick_8">
     <g id="line2d_42">
      <g>
       <path d="M 0 0 L -3.5 0" transform="translate(60.818414 263.355426)" style="stroke: #000000; stroke-width: 0.8; stroke: #000000; stroke-width: 0.8"/>
      </g>
     </g>
     <g id="text_41">
      <text style="font-size: 10px; font-family: 'DejaVu Sans', sans-serif; text-anchor: end" x="53.818414" y="267.154645" transform="rotate(-0 53.818414 267.154645)">16</text>
     </g>
    </g>
    <g id="ytick_9">
     <g id="line2d_43">
      <g>
       <path d="M 0 0 L -3.5 0" transform="translate(60.818414 235.651208)" style="stroke: #000000; stroke-width: 0.8; stroke: #000000; stroke-width: 0.8"/>
      </g>
     </g>
     <g id="text_42">
      <text style="font-size: 10px; font-family: 'DejaVu Sans', sans-serif; text-anchor: end" x="53.818414" y="239.450426" transform="rotate(-0 53.818414 239.450426)">17</text>
     </g>
    </g>
    <g id="text_43">
     <text style="font-size: 10px; font-family: 'DejaVu Sans', sans-serif" transform="translate(23.815914 311.605453) rotate(-90)">Solar Radiation&#160;</text>
     <text style="font-size: 10px; font-family: 'DejaVu Sans', sans-serif" transform="translate(35.013727 303.84139) rotate(-90)">&#160;(MJ/m2/day)</text>
    </g>
   </g>
   <g id="line2d_44">
    <path d="M 69.025808 269.580545 L 70.371282 273.914003 L 71.716757 246.991247 L 73.062231 258.055393 L 74.407705 260.360424 L 75.75318 262.665454 L 77.098654 289.127203 L 78.444129 267.275515 L 79.789603 262.434951 L 81.135077 257.594387 L 82.480552 274.651612 L 83.826026 280.644691 L 85.1715 286.63777 L 86.516975 314.482538 L 87.862449 289.403807 L 89.207923 252.984326 L 90.553398 279.446076 L 91.898872 273.7296 L 93.244347 283.963935 L 94.589821 294.19827 L 95.935295 239.154144 L 97.28077 268.38193 L 98.626244 266.076899 L 99.971718 263.771869 L 101.317193 230.856034 L 102.662667 239.61515 L 104.008141 262.296649 L 105.353616 284.978148 L 106.69909 248.835272 L 108.044565 266.445704 L 109.390039 284.056136 L 110.735513 282.949722 L 112.080988 256.211369 L 113.426462 246.991247 L 114.771936 241.459174 L 116.117411 271.885576 L 117.462885 294.19827 L 118.808359 290.41802 L 120.153834 286.63777 L 121.499308 264.509478 L 122.844783 247.452253 L 124.190257 264.278975 L 125.535731 281.105697 L 126.881206 288.573996 L 128.22668 296.042294 L 129.572154 278.892868 L 130.917629 261.743442 L 132.263103 281.658905 L 133.608577 301.574367 L 134.954052 270.041551 L 136.299526 290.879026 L 137.645001 311.716501 L 138.990475 263.12646 L 140.335949 268.42803 L 141.681424 273.7296 L 143.026898 265.200988 L 144.372372 256.672375 L 145.717847 296.503301 L 147.063321 292.354246 L 148.408796 271.885576 L 149.75427 251.416906 L 151.099744 293.276258 L 152.445219 251.601308 L 153.790693 268.197527 L 155.136167 260.360424 L 156.481642 290.510221 L 157.827116 273.7296 L 159.17259 289.588209 L 160.518065 282.81142 L 161.863539 276.034631 L 163.209014 270.041551 L 164.554488 264.048472 L 165.899962 252.062314 L 167.245437 277.279347 L 168.590911 302.49638 L 169.936385 296.779904 L 171.28186 258.055393 L 172.627334 275.112618 L 173.972808 292.169843 L 175.318283 309.872477 L 176.663757 292.953554 L 178.009232 276.034631 L 179.354706 279.261673 L 180.70018 283.318527 L 182.045655 287.37538 L 183.391129 291.432234 L 184.736603 287.559783 L 186.082078 273.7296 L 187.427552 268.658533 L 188.773026 247.452253 L 190.118501 254.367345 L 191.463975 241.92018 L 192.80945 229.473016 L 194.154924 247.913259 L 195.500398 254.367345 L 196.845873 233.622071 L 198.191347 267.736521 L 199.536821 283.272426 L 200.882296 298.808331 L 202.22777 259.899418 L 203.573244 273.7296 L 204.918719 255.289357 L 206.264193 254.367345 L 207.609668 253.445332 L 208.955142 263.587466 L 210.300616 268.197527 L 211.646091 296.042294 L 212.991565 284.793746 L 214.337039 285.485255 L 215.682514 286.176764 L 217.027988 286.868273 L 218.373463 287.559783 L 219.718937 275.112618 L 221.064411 264.509478 L 222.409886 242.842193 L 223.75536 251.601308 L 225.100834 255.980866 L 226.446309 260.360424 L 227.791783 271.147966 L 229.137257 273.452996 L 230.482732 261.743442 L 231.828206 264.970485 L 233.173681 268.197527" clip-path="url(#p5d73af03be)" style="fill: none; stroke: #ffa500; stroke-width: 1.5; stroke-linecap: square"/>
    
    <g clip-path="url(#p5d73af03be)">
     <path d="M -0 3 L 3 -3 L -3 -3 z" transform="translate(69.025808 269.580545)" style="fill: #ffa500; stroke: #ffa500; stroke-linejoin: miter; stroke: #ffa500; stroke-linejoin: miter"/>
     <path d="M -0 3 L 3 -3 L -3 -3 z" transform="translate(70.371282 273.914003)" style="fill: #ffa500; stroke: #ffa500; stroke-linejoin: miter; stroke: #ffa500; stroke-linejoin: miter"/>
     <path d="M -0 3 L 3 -3 L -3 -3 z" transform="translate(71.716757 246.991247)" style="fill: #ffa500; stroke: #ffa500; stroke-linejoin: miter; stroke: #ffa500; stroke-linejoin: miter"/>
     <path d="M -0 3 L 3 -3 L -3 -3 z" transform="translate(73.062231 258.055393)" style="fill: #ffa500; stroke: #ffa500; stroke-linejoin: miter; stroke: #ffa500; stroke-linejoin: miter"/>
     <path d="M -0 3 L 3 -3 L -3 -3 z" transform="translate(74.407705 260.360424)" style="fill: #ffa500; stroke: #ffa500; stroke-linejoin: miter; stroke: #ffa500; stroke-linejoin: miter"/>
     <path d="M -0 3 L 3 -3 L -3 -3 z" transform="translate(75.75318 262.665454)" style="fill: #ffa500; stroke: #ffa500; stroke-linejoin: miter; stroke: #ffa500; stroke-linejoin: miter"/>
     <path d="M -0 3 L 3 -3 L -3 -3 z" transform="translate(77.098654 289.127203)" style="fill: #ffa500; stroke: #ffa500; stroke-linejoin: miter; stroke: #ffa500; stroke-linejoin: miter"/>
     <path d="M -0 3 L 3 -3 L -3 -3 z" transform="translate(78.444129 267.275515)" style="fill: #ffa500; stroke: #ffa500; stroke-linejoin: miter; stroke: #ffa500; stroke-linejoin: miter"/>
     <path d="M -0 3 L 3 -3 L -3 -3 z" transform="translate(79.789603 262.434951)" style="fill: #ffa500; stroke: #ffa500; stroke-linejoin: miter; stroke: #ffa500; stroke-linejoin: miter"/>
     <path d="M -0 3 L 3 -3 L -3 -3 z" transform="translate(81.135077 257.594387)" style="fill: #ffa500; stroke: #ffa500; stroke-linejoin: miter; stroke: #ffa500; stroke-linejoin: miter"/>
     <path d="M -0 3 L 3 -3 L -3 -3 z" transform="translate(82.480552 274.651612)" style="fill: #ffa500; stroke: #ffa500; stroke-linejoin: miter; stroke: #ffa500; stroke-linejoin: miter"/>
     <path d="M -0 3 L 3 -3 L -3 -3 z" transform="translate(83.826026 280.644691)" style="fill: #ffa500; stroke: #ffa500; stroke-linejoin: miter; stroke: #ffa500; stroke-linejoin: miter"/>
     <path d="M -0 3 L 3 -3 L -3 -3 z" transform="translate(85.1715 286.63777)" style="fill: #ffa500; stroke: #ffa500; stroke-linejoin: miter; stroke: #ffa500; stroke-linejoin: miter"/>
     <path d="M -0 3 L 3 -3 L -3 -3 z" transform="translate(86.516975 314.482538)" style="fill: #ffa500; stroke: #ffa500; stroke-linejoin: miter; stroke: #ffa500; stroke-linejoin: miter"/>
     <path d="M -0 3 L 3 -3 L -3 -3 z" transform="translate(87.862449 289.403807)" style="fill: #ffa500; stroke: #ffa500; stroke-linejoin: miter; stroke: #ffa500; stroke-linejoin: miter"/>
     <path d="M -0 3 L 3 -3 L -3 -3 z" transform="translate(89.207923 252.984326)" style="fill: #ffa500; stroke: #ffa500; stroke-linejoin: miter; stroke: #ffa500; stroke-linejoin: miter"/>
     <path d="M -0 3 L 3 -3 L -3 -3 z" transform="translate(90.553398 279.446076)" style="fill: #ffa500; stroke: #ffa500; stroke-linejoin: miter; stroke: #ffa500; stroke-linejoin: miter"/>
     <path d="M -0 3 L 3 -3 L -3 -3 z" transform="translate(91.898872 273.7296)" style="fill: #ffa500; stroke: #ffa500; stroke-linejoin: miter; stroke: #ffa500; stroke-linejoin: miter"/>
     <path d="M -0 3 L 3 -3 L -3 -3 z" transform="translate(93.244347 283.963935)" style="fill: #ffa500; stroke: #ffa500; stroke-linejoin: miter; stroke: #ffa500; stroke-linejoin: miter"/>
     <path d="M -0 3 L 3 -3 L -3 -3 z" transform="translate(94.589821 294.19827)" style="fill: #ffa500; stroke: #ffa500; stroke-linejoin: miter; stroke: #ffa500; stroke-linejoin: miter"/>
     <path d="M -0 3 L 3 -3 L -3 -3 z" transform="translate(95.935295 239.154144)" style="fill: #ffa500; stroke: #ffa500; stroke-linejoin: miter; stroke: #ffa500; stroke-linejoin: miter"/>
     <path d="M -0 3 L 3 -3 L -3 -3 z" transform="translate(97.28077 268.38193)" style="fill: #ffa500; stroke: #ffa500; stroke-linejoin: miter; stroke: #ffa500; stroke-linejoin: miter"/>
     <path d="M -0 3 L 3 -3 L -3 -3 z" transform="translate(98.626244 266.076899)" style="fill: #ffa500; stroke: #ffa500; stroke-linejoin: miter; stroke: #ffa500; stroke-linejoin: miter"/>
     <path d="M -0 3 L 3 -3 L -3 -3 z" transform="translate(99.971718 263.771869)" style="fill: #ffa500; stroke: #ffa500; stroke-linejoin: miter; stroke: #ffa500; stroke-linejoin: miter"/>
     <path d="M -0 3 L 3 -3 L -3 -3 z" transform="translate(101.317193 230.856034)" style="fill: #ffa500; stroke: #ffa500; stroke-linejoin: miter; stroke: #ffa500; stroke-linejoin: miter"/>
     <path d="M -0 3 L 3 -3 L -3 -3 z" transform="translate(102.662667 239.61515)" style="fill: #ffa500; stroke: #ffa500; stroke-linejoin: miter; stroke: #ffa500; stroke-linejoin: miter"/>
     <path d="M -0 3 L 3 -3 L -3 -3 z" transform="translate(104.008141 262.296649)" style="fill: #ffa500; stroke: #ffa500; stroke-linejoin: miter; stroke: #ffa500; stroke-linejoin: miter"/>
     <path d="M -0 3 L 3 -3 L -3 -3 z" transform="translate(105.353616 284.978148)" style="fill: #ffa500; stroke: #ffa500; stroke-linejoin: miter; stroke: #ffa500; stroke-linejoin: miter"/>
     <path d="M -0 3 L 3 -3 L -3 -3 z" transform="translate(106.69909 248.835272)" style="fill: #ffa500; stroke: #ffa500; stroke-linejoin: miter; stroke: #ffa500; stroke-linejoin: miter"/>
     <path d="M -0 3 L 3 -3 L -3 -3 z" transform="translate(108.044565 266.445704)" style="fill: #ffa500; stroke: #ffa500; stroke-linejoin: miter; stroke: #ffa500; stroke-linejoin: miter"/>
     <path d="M -0 3 L 3 -3 L -3 -3 z" transform="translate(109.390039 284.056136)" style="fill: #ffa500; stroke: #ffa500; stroke-linejoin: miter; stroke: #ffa500; stroke-linejoin: miter"/>
     <path d="M -0 3 L 3 -3 L -3 -3 z" transform="translate(110.735513 282.949722)" style="fill: #ffa500; stroke: #ffa500; stroke-linejoin: miter; stroke: #ffa500; stroke-linejoin: miter"/>
     <path d="M -0 3 L 3 -3 L -3 -3 z" transform="translate(112.080988 256.211369)" style="fill: #ffa500; stroke: #ffa500; stroke-linejoin: miter; stroke: #ffa500; stroke-linejoin: miter"/>
     <path d="M -0 3 L 3 -3 L -3 -3 z" transform="translate(113.426462 246.991247)" style="fill: #ffa500; stroke: #ffa500; stroke-linejoin: miter; stroke: #ffa500; stroke-linejoin: miter"/>
     <path d="M -0 3 L 3 -3 L -3 -3 z" transform="translate(114.771936 241.459174)" style="fill: #ffa500; stroke: #ffa500; stroke-linejoin: miter; stroke: #ffa500; stroke-linejoin: miter"/>
     <path d="M -0 3 L 3 -3 L -3 -3 z" transform="translate(116.117411 271.885576)" style="fill: #ffa500; stroke: #ffa500; stroke-linejoin: miter; stroke: #ffa500; stroke-linejoin: miter"/>
     <path d="M -0 3 L 3 -3 L -3 -3 z" transform="translate(117.462885 294.19827)" style="fill: #ffa500; stroke: #ffa500; stroke-linejoin: miter; stroke: #ffa500; stroke-linejoin: miter"/>
     <path d="M -0 3 L 3 -3 L -3 -3 z" transform="translate(118.808359 290.41802)" style="fill: #ffa500; stroke: #ffa500; stroke-linejoin: miter; stroke: #ffa500; stroke-linejoin: miter"/>
     <path d="M -0 3 L 3 -3 L -3 -3 z" transform="translate(120.153834 286.63777)" style="fill: #ffa500; stroke: #ffa500; stroke-linejoin: miter; stroke: #ffa500; stroke-linejoin: miter"/>
     <path d="M -0 3 L 3 -3 L -3 -3 z" transform="translate(121.499308 264.509478)" style="fill: #ffa500; stroke: #ffa500; stroke-linejoin: miter; stroke: #ffa500; stroke-linejoin: miter"/>
     <path d="M -0 3 L 3 -3 L -3 -3 z" transform="translate(122.844783 247.452253)" style="fill: #ffa500; stroke: #ffa500; stroke-linejoin: miter; stroke: #ffa500; stroke-linejoin: miter"/>
     <path d="M -0 3 L 3 -3 L -3 -3 z" transform="translate(124.190257 264.278975)" style="fill: #ffa500; stroke: #ffa500; stroke-linejoin: miter; stroke: #ffa500; stroke-linejoin: miter"/>
     <path d="M -0 3 L 3 -3 L -3 -3 z" transform="translate(125.535731 281.105697)" style="fill: #ffa500; stroke: #ffa500; stroke-linejoin: miter; stroke: #ffa500; stroke-linejoin: miter"/>
     <path d="M -0 3 L 3 -3 L -3 -3 z" transform="translate(126.881206 288.573996)" style="fill: #ffa500; stroke: #ffa500; stroke-linejoin: miter; stroke: #ffa500; stroke-linejoin: miter"/>
     <path d="M -0 3 L 3 -3 L -3 -3 z" transform="translate(128.22668 296.042294)" style="fill: #ffa500; stroke: #ffa500; stroke-linejoin: miter; stroke: #ffa500; stroke-linejoin: miter"/>
     <path d="M -0 3 L 3 -3 L -3 -3 z" transform="translate(129.572154 278.892868)" style="fill: #ffa500; stroke: #ffa500; stroke-linejoin: miter; stroke: #ffa500; stroke-linejoin: miter"/>
     <path d="M -0 3 L 3 -3 L -3 -3 z" transform="translate(130.917629 261.743442)" style="fill: #ffa500; stroke: #ffa500; stroke-linejoin: miter; stroke: #ffa500; stroke-linejoin: miter"/>
     <path d="M -0 3 L 3 -3 L -3 -3 z" transform="translate(132.263103 281.658905)" style="fill: #ffa500; stroke: #ffa500; stroke-linejoin: miter; stroke: #ffa500; stroke-linejoin: miter"/>
     <path d="M -0 3 L 3 -3 L -3 -3 z" transform="translate(133.608577 301.574367)" style="fill: #ffa500; stroke: #ffa500; stroke-linejoin: miter; stroke: #ffa500; stroke-linejoin: miter"/>
     <path d="M -0 3 L 3 -3 L -3 -3 z" transform="translate(134.954052 270.041551)" style="fill: #ffa500; stroke: #ffa500; stroke-linejoin: miter; stroke: #ffa500; stroke-linejoin: miter"/>
     <path d="M -0 3 L 3 -3 L -3 -3 z" transform="translate(136.299526 290.879026)" style="fill: #ffa500; stroke: #ffa500; stroke-linejoin: miter; stroke: #ffa500; stroke-linejoin: miter"/>
     <path d="M -0 3 L 3 -3 L -3 -3 z" transform="translate(137.645001 311.716501)" style="fill: #ffa500; stroke: #ffa500; stroke-linejoin: miter; stroke: #ffa500; stroke-linejoin: miter"/>
     <path d="M -0 3 L 3 -3 L -3 -3 z" transform="translate(138.990475 263.12646)" style="fill: #ffa500; stroke: #ffa500; stroke-linejoin: miter; stroke: #ffa500; stroke-linejoin: miter"/>
     <path d="M -0 3 L 3 -3 L -3 -3 z" transform="translate(140.335949 268.42803)" style="fill: #ffa500; stroke: #ffa500; stroke-linejoin: miter; stroke: #ffa500; stroke-linejoin: miter"/>
     <path d="M -0 3 L 3 -3 L -3 -3 z" transform="translate(141.681424 273.7296)" style="fill: #ffa500; stroke: #ffa500; stroke-linejoin: miter; stroke: #ffa500; stroke-linejoin: miter"/>
     <path d="M -0 3 L 3 -3 L -3 -3 z" transform="translate(143.026898 265.200988)" style="fill: #ffa500; stroke: #ffa500; stroke-linejoin: miter; stroke: #ffa500; stroke-linejoin: miter"/>
     <path d="M -0 3 L 3 -3 L -3 -3 z" transform="translate(144.372372 256.672375)" style="fill: #ffa500; stroke: #ffa500; stroke-linejoin: miter; stroke: #ffa500; stroke-linejoin: miter"/>
     <path d="M -0 3 L 3 -3 L -3 -3 z" transform="translate(145.717847 296.503301)" style="fill: #ffa500; stroke: #ffa500; stroke-linejoin: miter; stroke: #ffa500; stroke-linejoin: miter"/>
     <path d="M -0 3 L 3 -3 L -3 -3 z" transform="translate(147.063321 292.354246)" style="fill: #ffa500; stroke: #ffa500; stroke-linejoin: miter; stroke: #ffa500; stroke-linejoin: miter"/>
     <path d="M -0 3 L 3 -3 L -3 -3 z" transform="translate(148.408796 271.885576)" style="fill: #ffa500; stroke: #ffa500; stroke-linejoin: miter; stroke: #ffa500; stroke-linejoin: miter"/>
     <path d="M -0 3 L 3 -3 L -3 -3 z" transform="translate(149.75427 251.416906)" style="fill: #ffa500; stroke: #ffa500; stroke-linejoin: miter; stroke: #ffa500; stroke-linejoin: miter"/>
     <path d="M -0 3 L 3 -3 L -3 -3 z" transform="translate(151.099744 293.276258)" style="fill: #ffa500; stroke: #ffa500; stroke-linejoin: miter; stroke: #ffa500; stroke-linejoin: miter"/>
     <path d="M -0 3 L 3 -3 L -3 -3 z" transform="translate(152.445219 251.601308)" style="fill: #ffa500; stroke: #ffa500; stroke-linejoin: miter; stroke: #ffa500; stroke-linejoin: miter"/>
     <path d="M -0 3 L 3 -3 L -3 -3 z" transform="translate(153.790693 268.197527)" style="fill: #ffa500; stroke: #ffa500; stroke-linejoin: miter; stroke: #ffa500; stroke-linejoin: miter"/>
     <path d="M -0 3 L 3 -3 L -3 -3 z" transform="translate(155.136167 260.360424)" style="fill: #ffa500; stroke: #ffa500; stroke-linejoin: miter; stroke: #ffa500; stroke-linejoin: miter"/>
     <path d="M -0 3 L 3 -3 L -3 -3 z" transform="translate(156.481642 290.510221)" style="fill: #ffa500; stroke: #ffa500; stroke-linejoin: miter; stroke: #ffa500; stroke-linejoin: miter"/>
     <path d="M -0 3 L 3 -3 L -3 -3 z" transform="translate(157.827116 273.7296)" style="fill: #ffa500; stroke: #ffa500; stroke-linejoin: miter; stroke: #ffa500; stroke-linejoin: miter"/>
     <path d="M -0 3 L 3 -3 L -3 -3 z" transform="translate(159.17259 289.588209)" style="fill: #ffa500; stroke: #ffa500; stroke-linejoin: miter; stroke: #ffa500; stroke-linejoin: miter"/>
     <path d="M -0 3 L 3 -3 L -3 -3 z" transform="translate(160.518065 282.81142)" style="fill: #ffa500; stroke: #ffa500; stroke-linejoin: miter; stroke: #ffa500; stroke-linejoin: miter"/>
     <path d="M -0 3 L 3 -3 L -3 -3 z" transform="translate(161.863539 276.034631)" style="fill: #ffa500; stroke: #ffa500; stroke-linejoin: miter; stroke: #ffa500; stroke-linejoin: miter"/>
     <path d="M -0 3 L 3 -3 L -3 -3 z" transform="translate(163.209014 270.041551)" style="fill: #ffa500; stroke: #ffa500; stroke-linejoin: miter; stroke: #ffa500; stroke-linejoin: miter"/>
     <path d="M -0 3 L 3 -3 L -3 -3 z" transform="translate(164.554488 264.048472)" style="fill: #ffa500; stroke: #ffa500; stroke-linejoin: miter; stroke: #ffa500; stroke-linejoin: miter"/>
     <path d="M -0 3 L 3 -3 L -3 -3 z" transform="translate(165.899962 252.062314)" style="fill: #ffa500; stroke: #ffa500; stroke-linejoin: miter; stroke: #ffa500; stroke-linejoin: miter"/>
     <path d="M -0 3 L 3 -3 L -3 -3 z" transform="translate(167.245437 277.279347)" style="fill: #ffa500; stroke: #ffa500; stroke-linejoin: miter; stroke: #ffa500; stroke-linejoin: miter"/>
     <path d="M -0 3 L 3 -3 L -3 -3 z" transform="translate(168.590911 302.49638)" style="fill: #ffa500; stroke: #ffa500; stroke-linejoin: miter; stroke: #ffa500; stroke-linejoin: miter"/>
     <path d="M -0 3 L 3 -3 L -3 -3 z" transform="translate(169.936385 296.779904)" style="fill: #ffa500; stroke: #ffa500; stroke-linejoin: miter; stroke: #ffa500; stroke-linejoin: miter"/>
     <path d="M -0 3 L 3 -3 L -3 -3 z" transform="translate(171.28186 258.055393)" style="fill: #ffa500; stroke: #ffa500; stroke-linejoin: miter; stroke: #ffa500; stroke-linejoin: miter"/>
     <path d="M -0 3 L 3 -3 L -3 -3 z" transform="translate(172.627334 275.112618)" style="fill: #ffa500; stroke: #ffa500; stroke-linejoin: miter; stroke: #ffa500; stroke-linejoin: miter"/>
     <path d="M -0 3 L 3 -3 L -3 -3 z" transform="translate(173.972808 292.169843)" style="fill: #ffa500; stroke: #ffa500; stroke-linejoin: miter; stroke: #ffa500; stroke-linejoin: miter"/>
     <path d="M -0 3 L 3 -3 L -3 -3 z" transform="translate(175.318283 309.872477)" style="fill: #ffa500; stroke: #ffa500; stroke-linejoin: miter; stroke: #ffa500; stroke-linejoin: miter"/>
     <path d="M -0 3 L 3 -3 L -3 -3 z" transform="translate(176.663757 292.953554)" style="fill: #ffa500; stroke: #ffa500; stroke-linejoin: miter; stroke: #ffa500; stroke-linejoin: miter"/>
     <path d="M -0 3 L 3 -3 L -3 -3 z" transform="translate(178.009232 276.034631)" style="fill: #ffa500; stroke: #ffa500; stroke-linejoin: miter; stroke: #ffa500; stroke-linejoin: miter"/>
     <path d="M -0 3 L 3 -3 L -3 -3 z" transform="translate(179.354706 279.261673)" style="fill: #ffa500; stroke: #ffa500; stroke-linejoin: miter; stroke: #ffa500; stroke-linejoin: miter"/>
     <path d="M -0 3 L 3 -3 L -3 -3 z" transform="translate(180.70018 283.318527)" style="fill: #ffa500; stroke: #ffa500; stroke-linejoin: miter; stroke: #ffa500; stroke-linejoin: miter"/>
     <path d="M -0 3 L 3 -3 L -3 -3 z" transform="translate(182.045655 287.37538)" style="fill: #ffa500; stroke: #ffa500; stroke-linejoin: miter; stroke: #ffa500; stroke-linejoin: miter"/>
     <path d="M -0 3 L 3 -3 L -3 -3 z" transform="translate(183.391129 291.432234)" style="fill: #ffa500; stroke: #ffa500; stroke-linejoin: miter; stroke: #ffa500; stroke-linejoin: miter"/>
     <path d="M -0 3 L 3 -3 L -3 -3 z" transform="translate(184.736603 287.559783)" style="fill: #ffa500; stroke: #ffa500; stroke-linejoin: miter; stroke: #ffa500; stroke-linejoin: miter"/>
     <path d="M -0 3 L 3 -3 L -3 -3 z" transform="translate(186.082078 273.7296)" style="fill: #ffa500; stroke: #ffa500; stroke-linejoin: miter; stroke: #ffa500; stroke-linejoin: miter"/>
     <path d="M -0 3 L 3 -3 L -3 -3 z" transform="translate(187.427552 268.658533)" style="fill: #ffa500; stroke: #ffa500; stroke-linejoin: miter; stroke: #ffa500; stroke-linejoin: miter"/>
     <path d="M -0 3 L 3 -3 L -3 -3 z" transform="translate(188.773026 247.452253)" style="fill: #ffa500; stroke: #ffa500; stroke-linejoin: miter; stroke: #ffa500; stroke-linejoin: miter"/>
     <path d="M -0 3 L 3 -3 L -3 -3 z" transform="translate(190.118501 254.367345)" style="fill: #ffa500; stroke: #ffa500; stroke-linejoin: miter; stroke: #ffa500; stroke-linejoin: miter"/>
     <path d="M -0 3 L 3 -3 L -3 -3 z" transform="translate(191.463975 241.92018)" style="fill: #ffa500; stroke: #ffa500; stroke-linejoin: miter; stroke: #ffa500; stroke-linejoin: miter"/>
     <path d="M -0 3 L 3 -3 L -3 -3 z" transform="translate(192.80945 229.473016)" style="fill: #ffa500; stroke: #ffa500; stroke-linejoin: miter; stroke: #ffa500; stroke-linejoin: miter"/>
     <path d="M -0 3 L 3 -3 L -3 -3 z" transform="translate(194.154924 247.913259)" style="fill: #ffa500; stroke: #ffa500; stroke-linejoin: miter; stroke: #ffa500; stroke-linejoin: miter"/>
     <path d="M -0 3 L 3 -3 L -3 -3 z" transform="translate(195.500398 254.367345)" style="fill: #ffa500; stroke: #ffa500; stroke-linejoin: miter; stroke: #ffa500; stroke-linejoin: miter"/>
     <path d="M -0 3 L 3 -3 L -3 -3 z" transform="translate(196.845873 233.622071)" style="fill: #ffa500; stroke: #ffa500; stroke-linejoin: miter; stroke: #ffa500; stroke-linejoin: miter"/>
     <path d="M -0 3 L 3 -3 L -3 -3 z" transform="translate(198.191347 267.736521)" style="fill: #ffa500; stroke: #ffa500; stroke-linejoin: miter; stroke: #ffa500; stroke-linejoin: miter"/>
     <path d="M -0 3 L 3 -3 L -3 -3 z" transform="translate(199.536821 283.272426)" style="fill: #ffa500; stroke: #ffa500; stroke-linejoin: miter; stroke: #ffa500; stroke-linejoin: miter"/>
     <path d="M -0 3 L 3 -3 L -3 -3 z" transform="translate(200.882296 298.808331)" style="fill: #ffa500; stroke: #ffa500; stroke-linejoin: miter; stroke: #ffa500; stroke-linejoin: miter"/>
     <path d="M -0 3 L 3 -3 L -3 -3 z" transform="translate(202.22777 259.899418)" style="fill: #ffa500; stroke: #ffa500; stroke-linejoin: miter; stroke: #ffa500; stroke-linejoin: miter"/>
     <path d="M -0 3 L 3 -3 L -3 -3 z" transform="translate(203.573244 273.7296)" style="fill: #ffa500; stroke: #ffa500; stroke-linejoin: miter; stroke: #ffa500; stroke-linejoin: miter"/>
     <path d="M -0 3 L 3 -3 L -3 -3 z" transform="translate(204.918719 255.289357)" style="fill: #ffa500; stroke: #ffa500; stroke-linejoin: miter; stroke: #ffa500; stroke-linejoin: miter"/>
     <path d="M -0 3 L 3 -3 L -3 -3 z" transform="translate(206.264193 254.367345)" style="fill: #ffa500; stroke: #ffa500; stroke-linejoin: miter; stroke: #ffa500; stroke-linejoin: miter"/>
     <path d="M -0 3 L 3 -3 L -3 -3 z" transform="translate(207.609668 253.445332)" style="fill: #ffa500; stroke: #ffa500; stroke-linejoin: miter; stroke: #ffa500; stroke-linejoin: miter"/>
     <path d="M -0 3 L 3 -3 L -3 -3 z" transform="translate(208.955142 263.587466)" style="fill: #ffa500; stroke: #ffa500; stroke-linejoin: miter; stroke: #ffa500; stroke-linejoin: miter"/>
     <path d="M -0 3 L 3 -3 L -3 -3 z" transform="translate(210.300616 268.197527)" style="fill: #ffa500; stroke: #ffa500; stroke-linejoin: miter; stroke: #ffa500; stroke-linejoin: miter"/>
     <path d="M -0 3 L 3 -3 L -3 -3 z" transform="translate(211.646091 296.042294)" style="fill: #ffa500; stroke: #ffa500; stroke-linejoin: miter; stroke: #ffa500; stroke-linejoin: miter"/>
     <path d="M -0 3 L 3 -3 L -3 -3 z" transform="translate(212.991565 284.793746)" style="fill: #ffa500; stroke: #ffa500; stroke-linejoin: miter; stroke: #ffa500; stroke-linejoin: miter"/>
     <path d="M -0 3 L 3 -3 L -3 -3 z" transform="translate(214.337039 285.485255)" style="fill: #ffa500; stroke: #ffa500; stroke-linejoin: miter; stroke: #ffa500; stroke-linejoin: miter"/>
     <path d="M -0 3 L 3 -3 L -3 -3 z" transform="translate(215.682514 286.176764)" style="fill: #ffa500; stroke: #ffa500; stroke-linejoin: miter; stroke: #ffa500; stroke-linejoin: miter"/>
     <path d="M -0 3 L 3 -3 L -3 -3 z" transform="translate(217.027988 286.868273)" style="fill: #ffa500; stroke: #ffa500; stroke-linejoin: miter; stroke: #ffa500; stroke-linejoin: miter"/>
     <path d="M -0 3 L 3 -3 L -3 -3 z" transform="translate(218.373463 287.559783)" style="fill: #ffa500; stroke: #ffa500; stroke-linejoin: miter; stroke: #ffa500; stroke-linejoin: miter"/>
     <path d="M -0 3 L 3 -3 L -3 -3 z" transform="translate(219.718937 275.112618)" style="fill: #ffa500; stroke: #ffa500; stroke-linejoin: miter; stroke: #ffa500; stroke-linejoin: miter"/>
     <path d="M -0 3 L 3 -3 L -3 -3 z" transform="translate(221.064411 264.509478)" style="fill: #ffa500; stroke: #ffa500; stroke-linejoin: miter; stroke: #ffa500; stroke-linejoin: miter"/>
     <path d="M -0 3 L 3 -3 L -3 -3 z" transform="translate(222.409886 242.842193)" style="fill: #ffa500; stroke: #ffa500; stroke-linejoin: miter; stroke: #ffa500; stroke-linejoin: miter"/>
     <path d="M -0 3 L 3 -3 L -3 -3 z" transform="translate(223.75536 251.601308)" style="fill: #ffa500; stroke: #ffa500; stroke-linejoin: miter; stroke: #ffa500; stroke-linejoin: miter"/>
     <path d="M -0 3 L 3 -3 L -3 -3 z" transform="translate(225.100834 255.980866)" style="fill: #ffa500; stroke: #ffa500; stroke-linejoin: miter; stroke: #ffa500; stroke-linejoin: miter"/>
     <path d="M -0 3 L 3 -3 L -3 -3 z" transform="translate(226.446309 260.360424)" style="fill: #ffa500; stroke: #ffa500; stroke-linejoin: miter; stroke: #ffa500; stroke-linejoin: miter"/>
     <path d="M -0 3 L 3 -3 L -3 -3 z" transform="translate(227.791783 271.147966)" style="fill: #ffa500; stroke: #ffa500; stroke-linejoin: miter; stroke: #ffa500; stroke-linejoin: miter"/>
     <path d="M -0 3 L 3 -3 L -3 -3 z" transform="translate(229.137257 273.452996)" style="fill: #ffa500; stroke: #ffa500; stroke-linejoin: miter; stroke: #ffa500; stroke-linejoin: miter"/>
     <path d="M -0 3 L 3 -3 L -3 -3 z" transform="translate(230.482732 261.743442)" style="fill: #ffa500; stroke: #ffa500; stroke-linejoin: miter; stroke: #ffa500; stroke-linejoin: miter"/>
     <path d="M -0 3 L 3 -3 L -3 -3 z" transform="translate(231.828206 264.970485)" style="fill: #ffa500; stroke: #ffa500; stroke-linejoin: miter; stroke: #ffa500; stroke-linejoin: miter"/>
     <path d="M -0 3 L 3 -3 L -3 -3 z" transform="translate(233.173681 268.197527)" style="fill: #ffa500; stroke: #ffa500; stroke-linejoin: miter; stroke: #ffa500; stroke-linejoin: miter"/>
    </g>
   </g>
   <g id="line2d_45">
    <path d="M 94.589821 318.87468 L 94.589821 225.012788" clip-path="url(#p5d73af03be)" style="fill: none; stroke-dasharray: 5.55,2.4; stroke-dashoffset: 0; stroke: #008000; stroke-width: 1.5"/>
   </g>
   <g id="line2d_46">
    <path d="M 215.682514 318.87468 L 215.682514 225.012788" clip-path="url(#p5d73af03be)" style="fill: none; stroke-dasharray: 5.55,2.4; stroke-dashoffset: 0; stroke: #000000; stroke-width: 1.5"/>
   </g>
   <g id="patch_15">
    <path d="M 60.818414 318.87468 L 60.818414 225.012788" style="fill: none; stroke: #000000; stroke-width: 0.8; stroke-linejoin: miter; stroke-linecap: square"/>
   </g>
   <g id="patch_16">
    <path d="M 241.381074 318.87468 L 241.381074 225.012788" style="fill: none; stroke: #000000; stroke-width: 0.8; stroke-linejoin: miter; stroke-linecap: square"/>
   </g>
   <g id="patch_17">
    <path d="M 60.818414 318.87468 L 241.381074 318.87468" style="fill: none; stroke: #000000; stroke-width: 0.8; stroke-linejoin: miter; stroke-linecap: square"/>
   </g>
   <g id="patch_18">
    <path d="M 60.818414 225.012788 L 241.381074 225.012788" style="fill: none; stroke: #000000; stroke-width: 0.8; stroke-linejoin: miter; stroke-linecap: square"/>
   </g>
   <g id="text_44">
    <text style="font-size: 12px; font-family: 'DejaVu Sans', sans-serif" transform="translate(62.865057 205.575413)">Growing Season Climatology&#160;</text>
    <text style="font-size: 12px; font-family: 'DejaVu Sans', sans-serif" transform="translate(78.726619 219.012788)">&#160;of Daily Solar Radiation</text>
   </g>
   <g id="legend_3">
    <g id="patch_19">
     <path d="M 250.030691 272.251766 L 324.885378 272.251766 Q 326.885378 272.251766 326.885378 270.251766 L 326.885378 227.217391 Q 326.885378 225.217391 324.885378 225.217391 L 250.030691 225.217391 Q 248.030691 225.217391 248.030691 227.217391 L 248.030691 270.251766 Q 248.030691 272.251766 250.030691 272.251766 z" style="fill: #ffffff; opacity: 0.8; stroke: #cccccc; stroke-linejoin: miter"/>
    </g>
    <g id="line2d_47">
     <path d="M 252.030691 233.315829 L 262.030691 233.315829 L 272.030691 233.315829" style="fill: none; stroke: #ffa500; stroke-width: 1.5; stroke-linecap: square"/>
     <g>
      <path d="M -0 3 L 3 -3 L -3 -3 z" transform="translate(262.030691 233.315829)" style="fill: #ffa500; stroke: #ffa500; stroke-linejoin: miter; stroke: #ffa500; stroke-linejoin: miter"/>
     </g>
    </g>
    <g id="text_45">
     <text style="font-size: 10px; font-family: 'DejaVu Sans', sans-serif; text-anchor: start" x="280.030691" y="236.815829" transform="rotate(-0 280.030691 236.815829)">Srad</text>
    </g>
    <g id="line2d_48">
     <path d="M 252.030691 247.993954 L 262.030691 247.993954 L 272.030691 247.993954" style="fill: none; stroke-dasharray: 5.55,2.4; stroke-dashoffset: 0; stroke: #008000; stroke-width: 1.5"/>
    </g>
    <g id="text_46">
     <text style="font-size: 10px; font-family: 'DejaVu Sans', sans-serif; text-anchor: start" x="280.030691" y="251.493954" transform="rotate(-0 280.030691 251.493954)">sowing</text>
    </g>
    <g id="line2d_49">
     <path d="M 252.030691 262.672079 L 262.030691 262.672079 L 272.030691 262.672079" style="fill: none; stroke-dasharray: 5.55,2.4; stroke-dashoffset: 0; stroke: #000000; stroke-width: 1.5"/>
    </g>
    <g id="text_47">
     <text style="font-size: 10px; font-family: 'DejaVu Sans', sans-serif; text-anchor: start" x="280.030691" y="266.172079" transform="rotate(-0 280.030691 266.172079)">maturity</text>
    </g>
   </g>
  </g>
  <g id="axes_4">
   <g id="patch_20">
    <path d="M 455.703325 318.925831 L 636.419437 318.925831 L 636.419437 225.012788 L 455.703325 225.012788 z" style="fill: #ffffff"/>
   </g>
   <g id="matplotlib.axis_7">
    <g id="xtick_19">
     <g id="line2d_50">
      <g>
       <path d="M 0 0 L 0 3.5" transform="translate(462.571076 318.925831)" style="stroke: #000000; stroke-width: 0.8; stroke: #000000; stroke-width: 0.8"/>
      </g>
     </g>
     <g id="text_48">
      <text style="font-size: 10px; font-family: 'DejaVu Sans', sans-serif; text-anchor: middle" x="462.571076" y="333.524269" transform="rotate(-0 462.571076 333.524269)">0</text>
     </g>
    </g>
    <g id="xtick_20">
     <g id="line2d_51">
      <g>
       <path d="M 0 0 L 0 3.5" transform="translate(496.236521 318.925831)" style="stroke: #000000; stroke-width: 0.8; stroke: #000000; stroke-width: 0.8"/>
      </g>
     </g>
     <g id="text_49">
      <text style="font-size: 10px; font-family: 'DejaVu Sans', sans-serif; text-anchor: middle" x="496.236521" y="333.524269" transform="rotate(-0 496.236521 333.524269)">25</text>
     </g>
    </g>
    <g id="xtick_21">
     <g id="line2d_52">
      <g>
       <path d="M 0 0 L 0 3.5" transform="translate(529.901967 318.925831)" style="stroke: #000000; stroke-width: 0.8; stroke: #000000; stroke-width: 0.8"/>
      </g>
     </g>
     <g id="text_50">
      <text style="font-size: 10px; font-family: 'DejaVu Sans', sans-serif; text-anchor: middle" x="529.901967" y="333.524269" transform="rotate(-0 529.901967 333.524269)">50</text>
     </g>
    </g>
    <g id="xtick_22">
     <g id="line2d_53">
      <g>
       <path d="M 0 0 L 0 3.5" transform="translate(563.567413 318.925831)" style="stroke: #000000; stroke-width: 0.8; stroke: #000000; stroke-width: 0.8"/>
      </g>
     </g>
     <g id="text_51">
      <text style="font-size: 10px; font-family: 'DejaVu Sans', sans-serif; text-anchor: middle" x="563.567413" y="333.524269" transform="rotate(-0 563.567413 333.524269)">75</text>
     </g>
    </g>
    <g id="xtick_23">
     <g id="line2d_54">
      <g>
       <path d="M 0 0 L 0 3.5" transform="translate(597.232859 318.925831)" style="stroke: #000000; stroke-width: 0.8; stroke: #000000; stroke-width: 0.8"/>
      </g>
     </g>
     <g id="text_52">
      <text style="font-size: 10px; font-family: 'DejaVu Sans', sans-serif; text-anchor: middle" x="597.232859" y="333.524269" transform="rotate(-0 597.232859 333.524269)">100</text>
     </g>
    </g>
    <g id="xtick_24">
     <g id="line2d_55">
      <g>
       <path d="M 0 0 L 0 3.5" transform="translate(630.898304 318.925831)" style="stroke: #000000; stroke-width: 0.8; stroke: #000000; stroke-width: 0.8"/>
      </g>
     </g>
     <g id="text_53">
      <text style="font-size: 10px; font-family: 'DejaVu Sans', sans-serif; text-anchor: middle" x="630.898304" y="333.524269" transform="rotate(-0 630.898304 333.524269)">125</text>
     </g>
    </g>
    <g id="text_54">
     <text style="font-size: 10px; font-family: 'DejaVu Sans', sans-serif; text-anchor: middle" x="546.061381" y="347.202394" transform="rotate(-0 546.061381 347.202394)">Days Since October 1st</text>
    </g>
   </g>
   <g id="matplotlib.axis_8">
    <g id="ytick_10">
     <g id="line2d_56">
      <g>
       <path d="M 0 0 L -3.5 0" transform="translate(455.703325 309.1005)" style="stroke: #000000; stroke-width: 0.8; stroke: #000000; stroke-width: 0.8"/>
      </g>
     </g>
     <g id="text_55">
      <text style="font-size: 10px; font-family: 'DejaVu Sans', sans-serif; text-anchor: end" x="448.703325" y="312.899719" transform="rotate(-0 448.703325 312.899719)">2</text>
     </g>
    </g>
    <g id="ytick_11">
     <g id="line2d_57">
      <g>
       <path d="M 0 0 L -3.5 0" transform="translate(455.703325 282.843603)" style="stroke: #000000; stroke-width: 0.8; stroke: #000000; stroke-width: 0.8"/>
      </g>
     </g>
     <g id="text_56">
      <text style="font-size: 10px; font-family: 'DejaVu Sans', sans-serif; text-anchor: end" x="448.703325" y="286.642822" transform="rotate(-0 448.703325 286.642822)">4</text>
     </g>
    </g>
    <g id="ytick_12">
     <g id="line2d_58">
      <g>
       <path d="M 0 0 L -3.5 0" transform="translate(455.703325 256.586706)" style="stroke: #000000; stroke-width: 0.8; stroke: #000000; stroke-width: 0.8"/>
      </g>
     </g>
     <g id="text_57">
      <text style="font-size: 10px; font-family: 'DejaVu Sans', sans-serif; text-anchor: end" x="448.703325" y="260.385925" transform="rotate(-0 448.703325 260.385925)">6</text>
     </g>
    </g>
    <g id="ytick_13">
     <g id="line2d_59">
      <g>
       <path d="M 0 0 L -3.5 0" transform="translate(455.703325 230.329809)" style="stroke: #000000; stroke-width: 0.8; stroke: #000000; stroke-width: 0.8"/>
      </g>
     </g>
     <g id="text_58">
      <text style="font-size: 10px; font-family: 'DejaVu Sans', sans-serif; text-anchor: end" x="448.703325" y="234.129028" transform="rotate(-0 448.703325 234.129028)">8</text>
     </g>
    </g>
    <g id="text_59">
     <text style="font-size: 10px; font-family: 'DejaVu Sans', sans-serif; text-anchor: middle" x="436.261137" y="271.969309" transform="rotate(-90 436.261137 271.969309)">Precipitation (mm/day)</text>
    </g>
   </g>
   <g id="line2d_60">
    <path d="M 463.917694 297.166951 L 465.264311 287.036242 L 466.610929 293.805397 L 467.957547 300.574553 L 469.304165 299.469384 L 470.650783 288.647945 L 471.997401 277.826506 L 473.344018 285.654781 L 474.690636 294.726371 L 476.037254 303.79796 L 477.383872 285.654781 L 478.73049 274.142612 L 480.077107 266.54458 L 481.423725 258.946548 L 482.770343 266.314337 L 484.116961 242.829511 L 485.463579 254.34168 L 486.810197 271.840178 L 488.156814 283.352347 L 489.503432 296.890658 L 490.85005 265.393363 L 492.196668 233.159289 L 493.543286 260.328009 L 494.889904 263.459319 L 496.236521 266.590629 L 497.583139 269.721939 L 498.929757 258.946548 L 500.276375 236.843183 L 501.622993 247.434379 L 502.969611 258.025575 L 504.316228 281.049913 L 505.662846 296.430172 L 507.009464 255.262654 L 508.356082 249.736813 L 509.7027 244.210971 L 511.049318 256.505968 L 512.395935 268.800965 L 513.742553 233.159289 L 515.089171 256.183628 L 516.435789 266.038045 L 517.782407 246.052918 L 519.129025 235.001236 L 520.475642 231.317342 L 521.82226 243.382095 L 523.168878 255.446849 L 524.515496 244.303069 L 525.862114 233.159289 L 527.208731 250.51964 L 528.555349 267.879992 L 529.901967 249.736813 L 531.248585 240.757321 L 532.595203 231.777828 L 533.941821 258.025575 L 535.288438 274.787293 L 536.635056 250.657786 L 537.981674 240.06659 L 539.328292 229.475395 L 540.67491 239.145617 L 542.021528 248.815839 L 543.368145 259.130743 L 544.714763 240.527077 L 546.061381 240.987564 L 547.407999 256.828309 L 548.754617 263.735611 L 550.101235 246.052918 L 551.447852 267.419505 L 552.79447 246.973892 L 554.141088 262.630442 L 555.487706 269.998231 L 556.834324 274.603099 L 558.180942 280.451281 L 559.527559 286.299463 L 560.874177 265.393363 L 562.220795 274.603099 L 563.567413 272.070421 L 564.914031 269.537744 L 566.260648 285.378489 L 567.607266 274.603099 L 568.953884 282.891861 L 570.300502 281.970887 L 571.64712 281.049913 L 572.993738 281.5104 L 574.340355 281.970887 L 575.686973 288.049312 L 577.033591 294.127738 L 578.380209 286.667852 L 579.726827 279.207966 L 581.073445 288.417702 L 582.420062 297.811632 L 583.76668 298.548411 L 585.113298 313.928669 L 586.459916 307.758146 L 587.806534 304.074252 L 589.153152 300.390358 L 590.499769 298.087924 L 591.846387 295.78549 L 593.193005 296.890658 L 594.539623 280.589427 L 595.886241 278.74748 L 597.232859 286.575755 L 598.579476 291.180622 L 599.926094 295.78549 L 601.272712 306.560881 L 602.61933 298.870752 L 603.965948 291.180622 L 605.312566 287.496728 L 606.659183 283.812834 L 608.005801 268.156284 L 609.352419 273.221638 L 610.699037 280.12894 L 612.045655 285.194294 L 613.392272 290.259649 L 614.73889 289.338675 L 616.085508 299.331238 L 617.432126 309.323801 L 618.778744 287.496728 L 620.125362 285.654781 L 621.471979 294.496127 L 622.818597 303.337473 L 624.165215 304.718934 L 625.511833 306.100394 L 626.858451 281.970887 L 628.205069 293.02257" clip-path="url(#p854d288286)" style="fill: none; stroke: #0000ff; stroke-width: 1.5; stroke-linecap: square"/>
    <g clip-path="url(#p854d288286)">
     <path d="M -0 3 L 3 -3 L -3 -3 z" transform="translate(463.917694 297.166951)" style="fill: #0000ff; stroke: #0000ff; stroke-linejoin: miter; stroke: #0000ff; stroke-linejoin: miter"/>
     <path d="M -0 3 L 3 -3 L -3 -3 z" transform="translate(465.264311 287.036242)" style="fill: #0000ff; stroke: #0000ff; stroke-linejoin: miter; stroke: #0000ff; stroke-linejoin: miter"/>
     <path d="M -0 3 L 3 -3 L -3 -3 z" transform="translate(466.610929 293.805397)" style="fill: #0000ff; stroke: #0000ff; stroke-linejoin: miter; stroke: #0000ff; stroke-linejoin: miter"/>
     <path d="M -0 3 L 3 -3 L -3 -3 z" transform="translate(467.957547 300.574553)" style="fill: #0000ff; stroke: #0000ff; stroke-linejoin: miter; stroke: #0000ff; stroke-linejoin: miter"/>
     <path d="M -0 3 L 3 -3 L -3 -3 z" transform="translate(469.304165 299.469384)" style="fill: #0000ff; stroke: #0000ff; stroke-linejoin: miter; stroke: #0000ff; stroke-linejoin: miter"/>
     <path d="M -0 3 L 3 -3 L -3 -3 z" transform="translate(470.650783 288.647945)" style="fill: #0000ff; stroke: #0000ff; stroke-linejoin: miter; stroke: #0000ff; stroke-linejoin: miter"/>
     <path d="M -0 3 L 3 -3 L -3 -3 z" transform="translate(471.997401 277.826506)" style="fill: #0000ff; stroke: #0000ff; stroke-linejoin: miter; stroke: #0000ff; stroke-linejoin: miter"/>
     <path d="M -0 3 L 3 -3 L -3 -3 z" transform="translate(473.344018 285.654781)" style="fill: #0000ff; stroke: #0000ff; stroke-linejoin: miter; stroke: #0000ff; stroke-linejoin: miter"/>
     <path d="M -0 3 L 3 -3 L -3 -3 z" transform="translate(474.690636 294.726371)" style="fill: #0000ff; stroke: #0000ff; stroke-linejoin: miter; stroke: #0000ff; stroke-linejoin: miter"/>
     <path d="M -0 3 L 3 -3 L -3 -3 z" transform="translate(476.037254 303.79796)" style="fill: #0000ff; stroke: #0000ff; stroke-linejoin: miter; stroke: #0000ff; stroke-linejoin: miter"/>
     <path d="M -0 3 L 3 -3 L -3 -3 z" transform="translate(477.383872 285.654781)" style="fill: #0000ff; stroke: #0000ff; stroke-linejoin: miter; stroke: #0000ff; stroke-linejoin: miter"/>
     <path d="M -0 3 L 3 -3 L -3 -3 z" transform="translate(478.73049 274.142612)" style="fill: #0000ff; stroke: #0000ff; stroke-linejoin: miter; stroke: #0000ff; stroke-linejoin: miter"/>
     <path d="M -0 3 L 3 -3 L -3 -3 z" transform="translate(480.077107 266.54458)" style="fill: #0000ff; stroke: #0000ff; stroke-linejoin: miter; stroke: #0000ff; stroke-linejoin: miter"/>
     <path d="M -0 3 L 3 -3 L -3 -3 z" transform="translate(481.423725 258.946548)" style="fill: #0000ff; stroke: #0000ff; stroke-linejoin: miter; stroke: #0000ff; stroke-linejoin: miter"/>
     <path d="M -0 3 L 3 -3 L -3 -3 z" transform="translate(482.770343 266.314337)" style="fill: #0000ff; stroke: #0000ff; stroke-linejoin: miter; stroke: #0000ff; stroke-linejoin: miter"/>
     <path d="M -0 3 L 3 -3 L -3 -3 z" transform="translate(484.116961 242.829511)" style="fill: #0000ff; stroke: #0000ff; stroke-linejoin: miter; stroke: #0000ff; stroke-linejoin: miter"/>
     <path d="M -0 3 L 3 -3 L -3 -3 z" transform="translate(485.463579 254.34168)" style="fill: #0000ff; stroke: #0000ff; stroke-linejoin: miter; stroke: #0000ff; stroke-linejoin: miter"/>
     <path d="M -0 3 L 3 -3 L -3 -3 z" transform="translate(486.810197 271.840178)" style="fill: #0000ff; stroke: #0000ff; stroke-linejoin: miter; stroke: #0000ff; stroke-linejoin: miter"/>
     <path d="M -0 3 L 3 -3 L -3 -3 z" transform="translate(488.156814 283.352347)" style="fill: #0000ff; stroke: #0000ff; stroke-linejoin: miter; stroke: #0000ff; stroke-linejoin: miter"/>
     <path d="M -0 3 L 3 -3 L -3 -3 z" transform="translate(489.503432 296.890658)" style="fill: #0000ff; stroke: #0000ff; stroke-linejoin: miter; stroke: #0000ff; stroke-linejoin: miter"/>
     <path d="M -0 3 L 3 -3 L -3 -3 z" transform="translate(490.85005 265.393363)" style="fill: #0000ff; stroke: #0000ff; stroke-linejoin: miter; stroke: #0000ff; stroke-linejoin: miter"/>
     <path d="M -0 3 L 3 -3 L -3 -3 z" transform="translate(492.196668 233.159289)" style="fill: #0000ff; stroke: #0000ff; stroke-linejoin: miter; stroke: #0000ff; stroke-linejoin: miter"/>
     <path d="M -0 3 L 3 -3 L -3 -3 z" transform="translate(493.543286 260.328009)" style="fill: #0000ff; stroke: #0000ff; stroke-linejoin: miter; stroke: #0000ff; stroke-linejoin: miter"/>
     <path d="M -0 3 L 3 -3 L -3 -3 z" transform="translate(494.889904 263.459319)" style="fill: #0000ff; stroke: #0000ff; stroke-linejoin: miter; stroke: #0000ff; stroke-linejoin: miter"/>
     <path d="M -0 3 L 3 -3 L -3 -3 z" transform="translate(496.236521 266.590629)" style="fill: #0000ff; stroke: #0000ff; stroke-linejoin: miter; stroke: #0000ff; stroke-linejoin: miter"/>
     <path d="M -0 3 L 3 -3 L -3 -3 z" transform="translate(497.583139 269.721939)" style="fill: #0000ff; stroke: #0000ff; stroke-linejoin: miter; stroke: #0000ff; stroke-linejoin: miter"/>
     <path d="M -0 3 L 3 -3 L -3 -3 z" transform="translate(498.929757 258.946548)" style="fill: #0000ff; stroke: #0000ff; stroke-linejoin: miter; stroke: #0000ff; stroke-linejoin: miter"/>
     <path d="M -0 3 L 3 -3 L -3 -3 z" transform="translate(500.276375 236.843183)" style="fill: #0000ff; stroke: #0000ff; stroke-linejoin: miter; stroke: #0000ff; stroke-linejoin: miter"/>
     <path d="M -0 3 L 3 -3 L -3 -3 z" transform="translate(501.622993 247.434379)" style="fill: #0000ff; stroke: #0000ff; stroke-linejoin: miter; stroke: #0000ff; stroke-linejoin: miter"/>
     <path d="M -0 3 L 3 -3 L -3 -3 z" transform="translate(502.969611 258.025575)" style="fill: #0000ff; stroke: #0000ff; stroke-linejoin: miter; stroke: #0000ff; stroke-linejoin: miter"/>
     <path d="M -0 3 L 3 -3 L -3 -3 z" transform="translate(504.316228 281.049913)" style="fill: #0000ff; stroke: #0000ff; stroke-linejoin: miter; stroke: #0000ff; stroke-linejoin: miter"/>
     <path d="M -0 3 L 3 -3 L -3 -3 z" transform="translate(505.662846 296.430172)" style="fill: #0000ff; stroke: #0000ff; stroke-linejoin: miter; stroke: #0000ff; stroke-linejoin: miter"/>
     <path d="M -0 3 L 3 -3 L -3 -3 z" transform="translate(507.009464 255.262654)" style="fill: #0000ff; stroke: #0000ff; stroke-linejoin: miter; stroke: #0000ff; stroke-linejoin: miter"/>
     <path d="M -0 3 L 3 -3 L -3 -3 z" transform="translate(508.356082 249.736813)" style="fill: #0000ff; stroke: #0000ff; stroke-linejoin: miter; stroke: #0000ff; stroke-linejoin: miter"/>
     <path d="M -0 3 L 3 -3 L -3 -3 z" transform="translate(509.7027 244.210971)" style="fill: #0000ff; stroke: #0000ff; stroke-linejoin: miter; stroke: #0000ff; stroke-linejoin: miter"/>
     <path d="M -0 3 L 3 -3 L -3 -3 z" transform="translate(511.049318 256.505968)" style="fill: #0000ff; stroke: #0000ff; stroke-linejoin: miter; stroke: #0000ff; stroke-linejoin: miter"/>
     <path d="M -0 3 L 3 -3 L -3 -3 z" transform="translate(512.395935 268.800965)" style="fill: #0000ff; stroke: #0000ff; stroke-linejoin: miter; stroke: #0000ff; stroke-linejoin: miter"/>
     <path d="M -0 3 L 3 -3 L -3 -3 z" transform="translate(513.742553 233.159289)" style="fill: #0000ff; stroke: #0000ff; stroke-linejoin: miter; stroke: #0000ff; stroke-linejoin: miter"/>
     <path d="M -0 3 L 3 -3 L -3 -3 z" transform="translate(515.089171 256.183628)" style="fill: #0000ff; stroke: #0000ff; stroke-linejoin: miter; stroke: #0000ff; stroke-linejoin: miter"/>
     <path d="M -0 3 L 3 -3 L -3 -3 z" transform="translate(516.435789 266.038045)" style="fill: #0000ff; stroke: #0000ff; stroke-linejoin: miter; stroke: #0000ff; stroke-linejoin: miter"/>
     <path d="M -0 3 L 3 -3 L -3 -3 z" transform="translate(517.782407 246.052918)" style="fill: #0000ff; stroke: #0000ff; stroke-linejoin: miter; stroke: #0000ff; stroke-linejoin: miter"/>
     <path d="M -0 3 L 3 -3 L -3 -3 z" transform="translate(519.129025 235.001236)" style="fill: #0000ff; stroke: #0000ff; stroke-linejoin: miter; stroke: #0000ff; stroke-linejoin: miter"/>
     <path d="M -0 3 L 3 -3 L -3 -3 z" transform="translate(520.475642 231.317342)" style="fill: #0000ff; stroke: #0000ff; stroke-linejoin: miter; stroke: #0000ff; stroke-linejoin: miter"/>
     <path d="M -0 3 L 3 -3 L -3 -3 z" transform="translate(521.82226 243.382095)" style="fill: #0000ff; stroke: #0000ff; stroke-linejoin: miter; stroke: #0000ff; stroke-linejoin: miter"/>
     <path d="M -0 3 L 3 -3 L -3 -3 z" transform="translate(523.168878 255.446849)" style="fill: #0000ff; stroke: #0000ff; stroke-linejoin: miter; stroke: #0000ff; stroke-linejoin: miter"/>
     <path d="M -0 3 L 3 -3 L -3 -3 z" transform="translate(524.515496 244.303069)" style="fill: #0000ff; stroke: #0000ff; stroke-linejoin: miter; stroke: #0000ff; stroke-linejoin: miter"/>
     <path d="M -0 3 L 3 -3 L -3 -3 z" transform="translate(525.862114 233.159289)" style="fill: #0000ff; stroke: #0000ff; stroke-linejoin: miter; stroke: #0000ff; stroke-linejoin: miter"/>
     <path d="M -0 3 L 3 -3 L -3 -3 z" transform="translate(527.208731 250.51964)" style="fill: #0000ff; stroke: #0000ff; stroke-linejoin: miter; stroke: #0000ff; stroke-linejoin: miter"/>
     <path d="M -0 3 L 3 -3 L -3 -3 z" transform="translate(528.555349 267.879992)" style="fill: #0000ff; stroke: #0000ff; stroke-linejoin: miter; stroke: #0000ff; stroke-linejoin: miter"/>
     <path d="M -0 3 L 3 -3 L -3 -3 z" transform="translate(529.901967 249.736813)" style="fill: #0000ff; stroke: #0000ff; stroke-linejoin: miter; stroke: #0000ff; stroke-linejoin: miter"/>
     <path d="M -0 3 L 3 -3 L -3 -3 z" transform="translate(531.248585 240.757321)" style="fill: #0000ff; stroke: #0000ff; stroke-linejoin: miter; stroke: #0000ff; stroke-linejoin: miter"/>
     <path d="M -0 3 L 3 -3 L -3 -3 z" transform="translate(532.595203 231.777828)" style="fill: #0000ff; stroke: #0000ff; stroke-linejoin: miter; stroke: #0000ff; stroke-linejoin: miter"/>
     <path d="M -0 3 L 3 -3 L -3 -3 z" transform="translate(533.941821 258.025575)" style="fill: #0000ff; stroke: #0000ff; stroke-linejoin: miter; stroke: #0000ff; stroke-linejoin: miter"/>
     <path d="M -0 3 L 3 -3 L -3 -3 z" transform="translate(535.288438 274.787293)" style="fill: #0000ff; stroke: #0000ff; stroke-linejoin: miter; stroke: #0000ff; stroke-linejoin: miter"/>
     <path d="M -0 3 L 3 -3 L -3 -3 z" transform="translate(536.635056 250.657786)" style="fill: #0000ff; stroke: #0000ff; stroke-linejoin: miter; stroke: #0000ff; stroke-linejoin: miter"/>
     <path d="M -0 3 L 3 -3 L -3 -3 z" transform="translate(537.981674 240.06659)" style="fill: #0000ff; stroke: #0000ff; stroke-linejoin: miter; stroke: #0000ff; stroke-linejoin: miter"/>
     <path d="M -0 3 L 3 -3 L -3 -3 z" transform="translate(539.328292 229.475395)" style="fill: #0000ff; stroke: #0000ff; stroke-linejoin: miter; stroke: #0000ff; stroke-linejoin: miter"/>
     <path d="M -0 3 L 3 -3 L -3 -3 z" transform="translate(540.67491 239.145617)" style="fill: #0000ff; stroke: #0000ff; stroke-linejoin: miter; stroke: #0000ff; stroke-linejoin: miter"/>
     <path d="M -0 3 L 3 -3 L -3 -3 z" transform="translate(542.021528 248.815839)" style="fill: #0000ff; stroke: #0000ff; stroke-linejoin: miter; stroke: #0000ff; stroke-linejoin: miter"/>
     <path d="M -0 3 L 3 -3 L -3 -3 z" transform="translate(543.368145 259.130743)" style="fill: #0000ff; stroke: #0000ff; stroke-linejoin: miter; stroke: #0000ff; stroke-linejoin: miter"/>
     <path d="M -0 3 L 3 -3 L -3 -3 z" transform="translate(544.714763 240.527077)" style="fill: #0000ff; stroke: #0000ff; stroke-linejoin: miter; stroke: #0000ff; stroke-linejoin: miter"/>
     <path d="M -0 3 L 3 -3 L -3 -3 z" transform="translate(546.061381 240.987564)" style="fill: #0000ff; stroke: #0000ff; stroke-linejoin: miter; stroke: #0000ff; stroke-linejoin: miter"/>
     <path d="M -0 3 L 3 -3 L -3 -3 z" transform="translate(547.407999 256.828309)" style="fill: #0000ff; stroke: #0000ff; stroke-linejoin: miter; stroke: #0000ff; stroke-linejoin: miter"/>
     <path d="M -0 3 L 3 -3 L -3 -3 z" transform="translate(548.754617 263.735611)" style="fill: #0000ff; stroke: #0000ff; stroke-linejoin: miter; stroke: #0000ff; stroke-linejoin: miter"/>
     <path d="M -0 3 L 3 -3 L -3 -3 z" transform="translate(550.101235 246.052918)" style="fill: #0000ff; stroke: #0000ff; stroke-linejoin: miter; stroke: #0000ff; stroke-linejoin: miter"/>
     <path d="M -0 3 L 3 -3 L -3 -3 z" transform="translate(551.447852 267.419505)" style="fill: #0000ff; stroke: #0000ff; stroke-linejoin: miter; stroke: #0000ff; stroke-linejoin: miter"/>
     <path d="M -0 3 L 3 -3 L -3 -3 z" transform="translate(552.79447 246.973892)" style="fill: #0000ff; stroke: #0000ff; stroke-linejoin: miter; stroke: #0000ff; stroke-linejoin: miter"/>
     <path d="M -0 3 L 3 -3 L -3 -3 z" transform="translate(554.141088 262.630442)" style="fill: #0000ff; stroke: #0000ff; stroke-linejoin: miter; stroke: #0000ff; stroke-linejoin: miter"/>
     <path d="M -0 3 L 3 -3 L -3 -3 z" transform="translate(555.487706 269.998231)" style="fill: #0000ff; stroke: #0000ff; stroke-linejoin: miter; stroke: #0000ff; stroke-linejoin: miter"/>
     <path d="M -0 3 L 3 -3 L -3 -3 z" transform="translate(556.834324 274.603099)" style="fill: #0000ff; stroke: #0000ff; stroke-linejoin: miter; stroke: #0000ff; stroke-linejoin: miter"/>
     <path d="M -0 3 L 3 -3 L -3 -3 z" transform="translate(558.180942 280.451281)" style="fill: #0000ff; stroke: #0000ff; stroke-linejoin: miter; stroke: #0000ff; stroke-linejoin: miter"/>
     <path d="M -0 3 L 3 -3 L -3 -3 z" transform="translate(559.527559 286.299463)" style="fill: #0000ff; stroke: #0000ff; stroke-linejoin: miter; stroke: #0000ff; stroke-linejoin: miter"/>
     <path d="M -0 3 L 3 -3 L -3 -3 z" transform="translate(560.874177 265.393363)" style="fill: #0000ff; stroke: #0000ff; stroke-linejoin: miter; stroke: #0000ff; stroke-linejoin: miter"/>
     <path d="M -0 3 L 3 -3 L -3 -3 z" transform="translate(562.220795 274.603099)" style="fill: #0000ff; stroke: #0000ff; stroke-linejoin: miter; stroke: #0000ff; stroke-linejoin: miter"/>
     <path d="M -0 3 L 3 -3 L -3 -3 z" transform="translate(563.567413 272.070421)" style="fill: #0000ff; stroke: #0000ff; stroke-linejoin: miter; stroke: #0000ff; stroke-linejoin: miter"/>
     <path d="M -0 3 L 3 -3 L -3 -3 z" transform="translate(564.914031 269.537744)" style="fill: #0000ff; stroke: #0000ff; stroke-linejoin: miter; stroke: #0000ff; stroke-linejoin: miter"/>
     <path d="M -0 3 L 3 -3 L -3 -3 z" transform="translate(566.260648 285.378489)" style="fill: #0000ff; stroke: #0000ff; stroke-linejoin: miter; stroke: #0000ff; stroke-linejoin: miter"/>
     <path d="M -0 3 L 3 -3 L -3 -3 z" transform="translate(567.607266 274.603099)" style="fill: #0000ff; stroke: #0000ff; stroke-linejoin: miter; stroke: #0000ff; stroke-linejoin: miter"/>
     <path d="M -0 3 L 3 -3 L -3 -3 z" transform="translate(568.953884 282.891861)" style="fill: #0000ff; stroke: #0000ff; stroke-linejoin: miter; stroke: #0000ff; stroke-linejoin: miter"/>
     <path d="M -0 3 L 3 -3 L -3 -3 z" transform="translate(570.300502 281.970887)" style="fill: #0000ff; stroke: #0000ff; stroke-linejoin: miter; stroke: #0000ff; stroke-linejoin: miter"/>
     <path d="M -0 3 L 3 -3 L -3 -3 z" transform="translate(571.64712 281.049913)" style="fill: #0000ff; stroke: #0000ff; stroke-linejoin: miter; stroke: #0000ff; stroke-linejoin: miter"/>
     <path d="M -0 3 L 3 -3 L -3 -3 z" transform="translate(572.993738 281.5104)" style="fill: #0000ff; stroke: #0000ff; stroke-linejoin: miter; stroke: #0000ff; stroke-linejoin: miter"/>
     <path d="M -0 3 L 3 -3 L -3 -3 z" transform="translate(574.340355 281.970887)" style="fill: #0000ff; stroke: #0000ff; stroke-linejoin: miter; stroke: #0000ff; stroke-linejoin: miter"/>
     <path d="M -0 3 L 3 -3 L -3 -3 z" transform="translate(575.686973 288.049312)" style="fill: #0000ff; stroke: #0000ff; stroke-linejoin: miter; stroke: #0000ff; stroke-linejoin: miter"/>
     <path d="M -0 3 L 3 -3 L -3 -3 z" transform="translate(577.033591 294.127738)" style="fill: #0000ff; stroke: #0000ff; stroke-linejoin: miter; stroke: #0000ff; stroke-linejoin: miter"/>
     <path d="M -0 3 L 3 -3 L -3 -3 z" transform="translate(578.380209 286.667852)" style="fill: #0000ff; stroke: #0000ff; stroke-linejoin: miter; stroke: #0000ff; stroke-linejoin: miter"/>
     <path d="M -0 3 L 3 -3 L -3 -3 z" transform="translate(579.726827 279.207966)" style="fill: #0000ff; stroke: #0000ff; stroke-linejoin: miter; stroke: #0000ff; stroke-linejoin: miter"/>
     <path d="M -0 3 L 3 -3 L -3 -3 z" transform="translate(581.073445 288.417702)" style="fill: #0000ff; stroke: #0000ff; stroke-linejoin: miter; stroke: #0000ff; stroke-linejoin: miter"/>
     <path d="M -0 3 L 3 -3 L -3 -3 z" transform="translate(582.420062 297.811632)" style="fill: #0000ff; stroke: #0000ff; stroke-linejoin: miter; stroke: #0000ff; stroke-linejoin: miter"/>
     <path d="M -0 3 L 3 -3 L -3 -3 z" transform="translate(583.76668 298.548411)" style="fill: #0000ff; stroke: #0000ff; stroke-linejoin: miter; stroke: #0000ff; stroke-linejoin: miter"/>
     <path d="M -0 3 L 3 -3 L -3 -3 z" transform="translate(585.113298 313.928669)" style="fill: #0000ff; stroke: #0000ff; stroke-linejoin: miter; stroke: #0000ff; stroke-linejoin: miter"/>
     <path d="M -0 3 L 3 -3 L -3 -3 z" transform="translate(586.459916 307.758146)" style="fill: #0000ff; stroke: #0000ff; stroke-linejoin: miter; stroke: #0000ff; stroke-linejoin: miter"/>
     <path d="M -0 3 L 3 -3 L -3 -3 z" transform="translate(587.806534 304.074252)" style="fill: #0000ff; stroke: #0000ff; stroke-linejoin: miter; stroke: #0000ff; stroke-linejoin: miter"/>
     <path d="M -0 3 L 3 -3 L -3 -3 z" transform="translate(589.153152 300.390358)" style="fill: #0000ff; stroke: #0000ff; stroke-linejoin: miter; stroke: #0000ff; stroke-linejoin: miter"/>
     <path d="M -0 3 L 3 -3 L -3 -3 z" transform="translate(590.499769 298.087924)" style="fill: #0000ff; stroke: #0000ff; stroke-linejoin: miter; stroke: #0000ff; stroke-linejoin: miter"/>
     <path d="M -0 3 L 3 -3 L -3 -3 z" transform="translate(591.846387 295.78549)" style="fill: #0000ff; stroke: #0000ff; stroke-linejoin: miter; stroke: #0000ff; stroke-linejoin: miter"/>
     <path d="M -0 3 L 3 -3 L -3 -3 z" transform="translate(593.193005 296.890658)" style="fill: #0000ff; stroke: #0000ff; stroke-linejoin: miter; stroke: #0000ff; stroke-linejoin: miter"/>
     <path d="M -0 3 L 3 -3 L -3 -3 z" transform="translate(594.539623 280.589427)" style="fill: #0000ff; stroke: #0000ff; stroke-linejoin: miter; stroke: #0000ff; stroke-linejoin: miter"/>
     <path d="M -0 3 L 3 -3 L -3 -3 z" transform="translate(595.886241 278.74748)" style="fill: #0000ff; stroke: #0000ff; stroke-linejoin: miter; stroke: #0000ff; stroke-linejoin: miter"/>
     <path d="M -0 3 L 3 -3 L -3 -3 z" transform="translate(597.232859 286.575755)" style="fill: #0000ff; stroke: #0000ff; stroke-linejoin: miter; stroke: #0000ff; stroke-linejoin: miter"/>
     <path d="M -0 3 L 3 -3 L -3 -3 z" transform="translate(598.579476 291.180622)" style="fill: #0000ff; stroke: #0000ff; stroke-linejoin: miter; stroke: #0000ff; stroke-linejoin: miter"/>
     <path d="M -0 3 L 3 -3 L -3 -3 z" transform="translate(599.926094 295.78549)" style="fill: #0000ff; stroke: #0000ff; stroke-linejoin: miter; stroke: #0000ff; stroke-linejoin: miter"/>
     <path d="M -0 3 L 3 -3 L -3 -3 z" transform="translate(601.272712 306.560881)" style="fill: #0000ff; stroke: #0000ff; stroke-linejoin: miter; stroke: #0000ff; stroke-linejoin: miter"/>
     <path d="M -0 3 L 3 -3 L -3 -3 z" transform="translate(602.61933 298.870752)" style="fill: #0000ff; stroke: #0000ff; stroke-linejoin: miter; stroke: #0000ff; stroke-linejoin: miter"/>
     <path d="M -0 3 L 3 -3 L -3 -3 z" transform="translate(603.965948 291.180622)" style="fill: #0000ff; stroke: #0000ff; stroke-linejoin: miter; stroke: #0000ff; stroke-linejoin: miter"/>
     <path d="M -0 3 L 3 -3 L -3 -3 z" transform="translate(605.312566 287.496728)" style="fill: #0000ff; stroke: #0000ff; stroke-linejoin: miter; stroke: #0000ff; stroke-linejoin: miter"/>
     <path d="M -0 3 L 3 -3 L -3 -3 z" transform="translate(606.659183 283.812834)" style="fill: #0000ff; stroke: #0000ff; stroke-linejoin: miter; stroke: #0000ff; stroke-linejoin: miter"/>
     <path d="M -0 3 L 3 -3 L -3 -3 z" transform="translate(608.005801 268.156284)" style="fill: #0000ff; stroke: #0000ff; stroke-linejoin: miter; stroke: #0000ff; stroke-linejoin: miter"/>
     <path d="M -0 3 L 3 -3 L -3 -3 z" transform="translate(609.352419 273.221638)" style="fill: #0000ff; stroke: #0000ff; stroke-linejoin: miter; stroke: #0000ff; stroke-linejoin: miter"/>
     <path d="M -0 3 L 3 -3 L -3 -3 z" transform="translate(610.699037 280.12894)" style="fill: #0000ff; stroke: #0000ff; stroke-linejoin: miter; stroke: #0000ff; stroke-linejoin: miter"/>
     <path d="M -0 3 L 3 -3 L -3 -3 z" transform="translate(612.045655 285.194294)" style="fill: #0000ff; stroke: #0000ff; stroke-linejoin: miter; stroke: #0000ff; stroke-linejoin: miter"/>
     <path d="M -0 3 L 3 -3 L -3 -3 z" transform="translate(613.392272 290.259649)" style="fill: #0000ff; stroke: #0000ff; stroke-linejoin: miter; stroke: #0000ff; stroke-linejoin: miter"/>
     <path d="M -0 3 L 3 -3 L -3 -3 z" transform="translate(614.73889 289.338675)" style="fill: #0000ff; stroke: #0000ff; stroke-linejoin: miter; stroke: #0000ff; stroke-linejoin: miter"/>
     <path d="M -0 3 L 3 -3 L -3 -3 z" transform="translate(616.085508 299.331238)" style="fill: #0000ff; stroke: #0000ff; stroke-linejoin: miter; stroke: #0000ff; stroke-linejoin: miter"/>
     <path d="M -0 3 L 3 -3 L -3 -3 z" transform="translate(617.432126 309.323801)" style="fill: #0000ff; stroke: #0000ff; stroke-linejoin: miter; stroke: #0000ff; stroke-linejoin: miter"/>
     <path d="M -0 3 L 3 -3 L -3 -3 z" transform="translate(618.778744 287.496728)" style="fill: #0000ff; stroke: #0000ff; stroke-linejoin: miter; stroke: #0000ff; stroke-linejoin: miter"/>
     <path d="M -0 3 L 3 -3 L -3 -3 z" transform="translate(620.125362 285.654781)" style="fill: #0000ff; stroke: #0000ff; stroke-linejoin: miter; stroke: #0000ff; stroke-linejoin: miter"/>
     <path d="M -0 3 L 3 -3 L -3 -3 z" transform="translate(621.471979 294.496127)" style="fill: #0000ff; stroke: #0000ff; stroke-linejoin: miter; stroke: #0000ff; stroke-linejoin: miter"/>
     <path d="M -0 3 L 3 -3 L -3 -3 z" transform="translate(622.818597 303.337473)" style="fill: #0000ff; stroke: #0000ff; stroke-linejoin: miter; stroke: #0000ff; stroke-linejoin: miter"/>
     <path d="M -0 3 L 3 -3 L -3 -3 z" transform="translate(624.165215 304.718934)" style="fill: #0000ff; stroke: #0000ff; stroke-linejoin: miter; stroke: #0000ff; stroke-linejoin: miter"/>
     <path d="M -0 3 L 3 -3 L -3 -3 z" transform="translate(625.511833 306.100394)" style="fill: #0000ff; stroke: #0000ff; stroke-linejoin: miter; stroke: #0000ff; stroke-linejoin: miter"/>
     <path d="M -0 3 L 3 -3 L -3 -3 z" transform="translate(626.858451 281.970887)" style="fill: #0000ff; stroke: #0000ff; stroke-linejoin: miter; stroke: #0000ff; stroke-linejoin: miter"/>
     <path d="M -0 3 L 3 -3 L -3 -3 z" transform="translate(628.205069 293.02257)" style="fill: #0000ff; stroke: #0000ff; stroke-linejoin: miter; stroke: #0000ff; stroke-linejoin: miter"/>
    </g>
   </g>
   <g id="line2d_61">
    <path d="M 489.503432 318.925831 L 489.503432 225.012788" clip-path="url(#p854d288286)" style="fill: none; stroke-dasharray: 5.55,2.4; stroke-dashoffset: 0; stroke: #008000; stroke-width: 1.5"/>
   </g>
   <g id="line2d_62">
    <path d="M 610.699037 318.925831 L 610.699037 225.012788" clip-path="url(#p854d288286)" style="fill: none; stroke-dasharray: 5.55,2.4; stroke-dashoffset: 0; stroke: #000000; stroke-width: 1.5"/>
   </g>
   <g id="patch_21">
    <path d="M 455.703325 318.925831 L 455.703325 225.012788" style="fill: none; stroke: #000000; stroke-width: 0.8; stroke-linejoin: miter; stroke-linecap: square"/>
   </g>
   <g id="patch_22">
    <path d="M 636.419437 318.925831 L 636.419437 225.012788" style="fill: none; stroke: #000000; stroke-width: 0.8; stroke-linejoin: miter; stroke-linecap: square"/>
   </g>
   <g id="patch_23">
    <path d="M 455.703325 318.925831 L 636.419437 318.925831" style="fill: none; stroke: #000000; stroke-width: 0.8; stroke-linejoin: miter; stroke-linecap: square"/>
   </g>
   <g id="patch_24">
    <path d="M 455.703325 225.012788 L 636.419437 225.012788" style="fill: none; stroke: #000000; stroke-width: 0.8; stroke-linejoin: miter; stroke-linecap: square"/>
   </g>
   <g id="text_60">
    <text style="font-size: 12px; font-family: 'DejaVu Sans', sans-serif" transform="translate(457.826694 205.575413)">Growing Season Climatology&#160;</text>
    <text style="font-size: 12px; font-family: 'DejaVu Sans', sans-serif" transform="translate(496.939194 219.012788)">&#160;of Daily Rainfall</text>
   </g>
   <g id="legend_4">
    <g id="patch_25">
     <path d="M 645.375959 272.251766 L 720.230647 272.251766 Q 722.230647 272.251766 722.230647 270.251766 L 722.230647 227.217391 Q 722.230647 225.217391 720.230647 225.217391 L 645.375959 225.217391 Q 643.375959 225.217391 643.375959 227.217391 L 643.375959 270.251766 Q 643.375959 272.251766 645.375959 272.251766 z" style="fill: #ffffff; opacity: 0.8; stroke: #cccccc; stroke-linejoin: miter"/>
    </g>
    <g id="line2d_63">
     <path d="M 647.375959 233.315829 L 657.375959 233.315829 L 667.375959 233.315829" style="fill: none; stroke: #0000ff; stroke-width: 1.5; stroke-linecap: square"/>
     <g>
      <path d="M -0 3 L 3 -3 L -3 -3 z" transform="translate(657.375959 233.315829)" style="fill: #0000ff; stroke: #0000ff; stroke-linejoin: miter; stroke: #0000ff; stroke-linejoin: miter"/>
     </g>
    </g>
    <g id="text_61">
     <text style="font-size: 10px; font-family: 'DejaVu Sans', sans-serif; text-anchor: start" x="675.375959" y="236.815829" transform="rotate(-0 675.375959 236.815829)">Rainfall</text>
    </g>
    <g id="line2d_64">
     <path d="M 647.375959 247.993954 L 657.375959 247.993954 L 667.375959 247.993954" style="fill: none; stroke-dasharray: 5.55,2.4; stroke-dashoffset: 0; stroke: #008000; stroke-width: 1.5"/>
    </g>
    <g id="text_62">
     <text style="font-size: 10px; font-family: 'DejaVu Sans', sans-serif; text-anchor: start" x="675.375959" y="251.493954" transform="rotate(-0 675.375959 251.493954)">sowing</text>
    </g>
    <g id="line2d_65">
     <path d="M 647.375959 262.672079 L 657.375959 262.672079 L 667.375959 262.672079" style="fill: none; stroke-dasharray: 5.55,2.4; stroke-dashoffset: 0; stroke: #000000; stroke-width: 1.5"/>
    </g>
    <g id="text_63">
     <text style="font-size: 10px; font-family: 'DejaVu Sans', sans-serif; text-anchor: start" x="675.375959" y="266.172079" transform="rotate(-0 675.375959 266.172079)">maturity</text>
    </g>
   </g>
  </g>
  <g id="axes_5">
   <g id="patch_26">
    <path d="M 60.818414 498.056266 L 241.381074 498.056266 L 241.381074 404.194373 L 60.818414 404.194373 z" style="fill: #ffffff"/>
   </g>
   <g id="matplotlib.axis_9">
    <g id="xtick_25">
     <g id="line2d_66">
      <g>
       <path d="M 0 0 L 0 3.5" transform="translate(67.680334 498.056266)" style="stroke: #000000; stroke-width: 0.8; stroke: #000000; stroke-width: 0.8"/>
      </g>
     </g>
     <g id="text_64">
      <text style="font-size: 10px; font-family: 'DejaVu Sans', sans-serif; text-anchor: middle" x="67.680334" y="512.654703" transform="rotate(-0 67.680334 512.654703)">0</text>
     </g>
    </g>
    <g id="xtick_26">
     <g id="line2d_67">
      <g>
       <path d="M 0 0 L 0 3.5" transform="translate(101.317193 498.056266)" style="stroke: #000000; stroke-width: 0.8; stroke: #000000; stroke-width: 0.8"/>
      </g>
     </g>
     <g id="text_65">
      <text style="font-size: 10px; font-family: 'DejaVu Sans', sans-serif; text-anchor: middle" x="101.317193" y="512.654703" transform="rotate(-0 101.317193 512.654703)">25</text>
     </g>
    </g>
    <g id="xtick_27">
     <g id="line2d_68">
      <g>
       <path d="M 0 0 L 0 3.5" transform="translate(134.954052 498.056266)" style="stroke: #000000; stroke-width: 0.8; stroke: #000000; stroke-width: 0.8"/>
      </g>
     </g>
     <g id="text_66">
      <text style="font-size: 10px; font-family: 'DejaVu Sans', sans-serif; text-anchor: middle" x="134.954052" y="512.654703" transform="rotate(-0 134.954052 512.654703)">50</text>
     </g>
    </g>
    <g id="xtick_28">
     <g id="line2d_69">
      <g>
       <path d="M 0 0 L 0 3.5" transform="translate(168.590911 498.056266)" style="stroke: #000000; stroke-width: 0.8; stroke: #000000; stroke-width: 0.8"/>
      </g>
     </g>
     <g id="text_67">
      <text style="font-size: 10px; font-family: 'DejaVu Sans', sans-serif; text-anchor: middle" x="168.590911" y="512.654703" transform="rotate(-0 168.590911 512.654703)">75</text>
     </g>
    </g>
    <g id="xtick_29">
     <g id="line2d_70">
      <g>
       <path d="M 0 0 L 0 3.5" transform="translate(202.22777 498.056266)" style="stroke: #000000; stroke-width: 0.8; stroke: #000000; stroke-width: 0.8"/>
      </g>
     </g>
     <g id="text_68">
      <text style="font-size: 10px; font-family: 'DejaVu Sans', sans-serif; text-anchor: middle" x="202.22777" y="512.654703" transform="rotate(-0 202.22777 512.654703)">100</text>
     </g>
    </g>
    <g id="xtick_30">
     <g id="line2d_71">
      <g>
       <path d="M 0 0 L 0 3.5" transform="translate(235.864629 498.056266)" style="stroke: #000000; stroke-width: 0.8; stroke: #000000; stroke-width: 0.8"/>
      </g>
     </g>
     <g id="text_69">
      <text style="font-size: 10px; font-family: 'DejaVu Sans', sans-serif; text-anchor: middle" x="235.864629" y="512.654703" transform="rotate(-0 235.864629 512.654703)">125</text>
     </g>
    </g>
    <g id="text_70">
     <text style="font-size: 10px; font-family: 'DejaVu Sans', sans-serif; text-anchor: middle" x="151.099744" y="526.332828" transform="rotate(-0 151.099744 526.332828)">Days Since October 1st</text>
    </g>
   </g>
   <g id="matplotlib.axis_10">
    <g id="ytick_14">
     <g id="line2d_72">
      <g>
       <path d="M 0 0 L -3.5 0" transform="translate(60.818414 470.386727)" style="stroke: #000000; stroke-width: 0.8; stroke: #000000; stroke-width: 0.8"/>
      </g>
     </g>
     <g id="text_71">
      <text style="font-size: 10px; font-family: 'DejaVu Sans', sans-serif; text-anchor: end" x="53.818414" y="474.185945" transform="rotate(-0 53.818414 474.185945)">80</text>
     </g>
    </g>
    <g id="ytick_15">
     <g id="line2d_73">
      <g>
       <path d="M 0 0 L -3.5 0" transform="translate(60.818414 430.948957)" style="stroke: #000000; stroke-width: 0.8; stroke: #000000; stroke-width: 0.8"/>
      </g>
     </g>
     <g id="text_72">
      <text style="font-size: 10px; font-family: 'DejaVu Sans', sans-serif; text-anchor: end" x="53.818414" y="434.748175" transform="rotate(-0 53.818414 434.748175)">85</text>
     </g>
    </g>
    <g id="text_73">
     <text style="font-size: 10px; font-family: 'DejaVu Sans', sans-serif; text-anchor: middle" x="35.013727" y="451.12532" transform="rotate(-90 35.013727 451.12532)">Relative Humidity (%)</text>
    </g>
   </g>
   <g id="line2d_74">
    <path d="M 69.025808 483.14818 L 70.371282 484.991144 L 71.716757 492.547294 L 73.062231 493.008035 L 74.407705 493.468776 L 75.75318 481.305217 L 77.098654 469.325954 L 78.444129 474.854844 L 79.789603 484.253958 L 81.135077 478.402549 L 82.480552 472.55114 L 83.826026 460.571877 L 85.1715 453.660764 L 86.516975 459.051432 L 87.862449 464.4421 L 89.207923 450.896318 L 90.553398 437.074092 L 91.898872 452.739282 L 93.244347 454.674394 L 94.589821 456.609505 L 95.935295 449.974837 L 97.28077 444.906687 L 98.626244 448.500466 L 99.971718 452.094245 L 101.317193 455.688024 L 102.662667 449.974837 L 104.008141 442.602982 L 105.353616 438.917055 L 106.69909 433.618535 L 108.044565 428.320015 L 109.390039 436.15261 L 110.735513 445.090983 L 112.080988 439.239574 L 113.426462 433.388165 L 114.771936 431.08446 L 116.117411 428.780756 L 117.462885 423.712606 L 118.808359 418.644457 L 120.153834 435.876166 L 121.499308 433.019572 L 122.844783 430.162979 L 124.190257 426.477052 L 125.535731 422.791125 L 126.881206 422.100013 L 128.22668 421.408902 L 129.572154 420.948161 L 130.917629 420.48742 L 132.263103 422.883273 L 133.608577 425.279125 L 134.954052 415.41927 L 136.299526 413.576307 L 137.645001 411.733343 L 138.990475 418.506234 L 140.335949 425.279125 L 141.681424 414.037048 L 143.026898 411.042232 L 144.372372 408.047416 L 145.717847 416.4329 L 147.063321 424.818384 L 148.408796 418.506234 L 149.75427 412.194084 L 151.099744 412.194084 L 152.445219 420.48742 L 153.790693 418.644457 L 155.136167 427.122089 L 156.481642 424.495866 L 157.827116 421.869643 L 159.17259 426.108459 L 160.518065 430.347275 L 161.863539 426.79957 L 163.209014 423.251865 L 164.554488 424.265495 L 165.899962 425.279125 L 167.245437 423.68189 L 168.590911 422.084655 L 169.936385 420.48742 L 171.28186 428.965052 L 172.627334 427.521398 L 173.972808 426.077743 L 175.318283 424.634088 L 176.663757 428.780756 L 178.009232 440.022834 L 179.354706 437.626981 L 180.70018 435.231128 L 182.045655 435.691869 L 183.391129 436.15261 L 184.736603 437.304462 L 186.082078 438.456315 L 187.427552 447.394688 L 188.773026 447.210391 L 190.118501 458.268172 L 191.463975 465.640027 L 192.80945 470.109213 L 194.154924 474.5784 L 195.500398 470.569954 L 196.845873 466.561508 L 198.191347 459.650395 L 199.536821 452.739282 L 200.882296 456.425209 L 202.22777 461.032618 L 203.573244 463.336322 L 204.918719 465.640027 L 206.264193 468.465904 L 207.609668 471.291781 L 208.955142 474.117659 L 210.300616 463.797063 L 211.646091 459.189654 L 212.991565 454.582245 L 214.337039 450.435577 L 215.682514 457.11632 L 217.027988 463.797063 L 218.373463 465.025705 L 219.718937 466.254348 L 221.064411 467.48299 L 222.409886 469.786694 L 223.75536 472.090399 L 225.100834 474.854844 L 226.446309 481.397365 L 227.791783 487.939885 L 229.137257 482.226698 L 230.482732 483.455341 L 231.828206 484.683983 L 233.173681 485.912625" clip-path="url(#p69501971ab)" style="fill: none; stroke: #00bfff; stroke-width: 1.5; stroke-linecap: square"/>
    
    <g clip-path="url(#p69501971ab)">
     <path d="M -0 3 L 3 -3 L -3 -3 z" transform="translate(69.025808 483.14818)" style="fill: #00bfff; stroke: #00bfff; stroke-linejoin: miter; stroke: #00bfff; stroke-linejoin: miter"/>
     <path d="M -0 3 L 3 -3 L -3 -3 z" transform="translate(70.371282 484.991144)" style="fill: #00bfff; stroke: #00bfff; stroke-linejoin: miter; stroke: #00bfff; stroke-linejoin: miter"/>
     <path d="M -0 3 L 3 -3 L -3 -3 z" transform="translate(71.716757 492.547294)" style="fill: #00bfff; stroke: #00bfff; stroke-linejoin: miter; stroke: #00bfff; stroke-linejoin: miter"/>
     <path d="M -0 3 L 3 -3 L -3 -3 z" transform="translate(73.062231 493.008035)" style="fill: #00bfff; stroke: #00bfff; stroke-linejoin: miter; stroke: #00bfff; stroke-linejoin: miter"/>
     <path d="M -0 3 L 3 -3 L -3 -3 z" transform="translate(74.407705 493.468776)" style="fill: #00bfff; stroke: #00bfff; stroke-linejoin: miter; stroke: #00bfff; stroke-linejoin: miter"/>
     <path d="M -0 3 L 3 -3 L -3 -3 z" transform="translate(75.75318 481.305217)" style="fill: #00bfff; stroke: #00bfff; stroke-linejoin: miter; stroke: #00bfff; stroke-linejoin: miter"/>
     <path d="M -0 3 L 3 -3 L -3 -3 z" transform="translate(77.098654 469.325954)" style="fill: #00bfff; stroke: #00bfff; stroke-linejoin: miter; stroke: #00bfff; stroke-linejoin: miter"/>
     <path d="M -0 3 L 3 -3 L -3 -3 z" transform="translate(78.444129 474.854844)" style="fill: #00bfff; stroke: #00bfff; stroke-linejoin: miter; stroke: #00bfff; stroke-linejoin: miter"/>
     <path d="M -0 3 L 3 -3 L -3 -3 z" transform="translate(79.789603 484.253958)" style="fill: #00bfff; stroke: #00bfff; stroke-linejoin: miter; stroke: #00bfff; stroke-linejoin: miter"/>
     <path d="M -0 3 L 3 -3 L -3 -3 z" transform="translate(81.135077 478.402549)" style="fill: #00bfff; stroke: #00bfff; stroke-linejoin: miter; stroke: #00bfff; stroke-linejoin: miter"/>
     <path d="M -0 3 L 3 -3 L -3 -3 z" transform="translate(82.480552 472.55114)" style="fill: #00bfff; stroke: #00bfff; stroke-linejoin: miter; stroke: #00bfff; stroke-linejoin: miter"/>
     <path d="M -0 3 L 3 -3 L -3 -3 z" transform="translate(83.826026 460.571877)" style="fill: #00bfff; stroke: #00bfff; stroke-linejoin: miter; stroke: #00bfff; stroke-linejoin: miter"/>
     <path d="M -0 3 L 3 -3 L -3 -3 z" transform="translate(85.1715 453.660764)" style="fill: #00bfff; stroke: #00bfff; stroke-linejoin: miter; stroke: #00bfff; stroke-linejoin: miter"/>
     <path d="M -0 3 L 3 -3 L -3 -3 z" transform="translate(86.516975 459.051432)" style="fill: #00bfff; stroke: #00bfff; stroke-linejoin: miter; stroke: #00bfff; stroke-linejoin: miter"/>
     <path d="M -0 3 L 3 -3 L -3 -3 z" transform="translate(87.862449 464.4421)" style="fill: #00bfff; stroke: #00bfff; stroke-linejoin: miter; stroke: #00bfff; stroke-linejoin: miter"/>
     <path d="M -0 3 L 3 -3 L -3 -3 z" transform="translate(89.207923 450.896318)" style="fill: #00bfff; stroke: #00bfff; stroke-linejoin: miter; stroke: #00bfff; stroke-linejoin: miter"/>
     <path d="M -0 3 L 3 -3 L -3 -3 z" transform="translate(90.553398 437.074092)" style="fill: #00bfff; stroke: #00bfff; stroke-linejoin: miter; stroke: #00bfff; stroke-linejoin: miter"/>
     <path d="M -0 3 L 3 -3 L -3 -3 z" transform="translate(91.898872 452.739282)" style="fill: #00bfff; stroke: #00bfff; stroke-linejoin: miter; stroke: #00bfff; stroke-linejoin: miter"/>
     <path d="M -0 3 L 3 -3 L -3 -3 z" transform="translate(93.244347 454.674394)" style="fill: #00bfff; stroke: #00bfff; stroke-linejoin: miter; stroke: #00bfff; stroke-linejoin: miter"/>
     <path d="M -0 3 L 3 -3 L -3 -3 z" transform="translate(94.589821 456.609505)" style="fill: #00bfff; stroke: #00bfff; stroke-linejoin: miter; stroke: #00bfff; stroke-linejoin: miter"/>
     <path d="M -0 3 L 3 -3 L -3 -3 z" transform="translate(95.935295 449.974837)" style="fill: #00bfff; stroke: #00bfff; stroke-linejoin: miter; stroke: #00bfff; stroke-linejoin: miter"/>
     <path d="M -0 3 L 3 -3 L -3 -3 z" transform="translate(97.28077 444.906687)" style="fill: #00bfff; stroke: #00bfff; stroke-linejoin: miter; stroke: #00bfff; stroke-linejoin: miter"/>
     <path d="M -0 3 L 3 -3 L -3 -3 z" transform="translate(98.626244 448.500466)" style="fill: #00bfff; stroke: #00bfff; stroke-linejoin: miter; stroke: #00bfff; stroke-linejoin: miter"/>
     <path d="M -0 3 L 3 -3 L -3 -3 z" transform="translate(99.971718 452.094245)" style="fill: #00bfff; stroke: #00bfff; stroke-linejoin: miter; stroke: #00bfff; stroke-linejoin: miter"/>
     <path d="M -0 3 L 3 -3 L -3 -3 z" transform="translate(101.317193 455.688024)" style="fill: #00bfff; stroke: #00bfff; stroke-linejoin: miter; stroke: #00bfff; stroke-linejoin: miter"/>
     <path d="M -0 3 L 3 -3 L -3 -3 z" transform="translate(102.662667 449.974837)" style="fill: #00bfff; stroke: #00bfff; stroke-linejoin: miter; stroke: #00bfff; stroke-linejoin: miter"/>
     <path d="M -0 3 L 3 -3 L -3 -3 z" transform="translate(104.008141 442.602982)" style="fill: #00bfff; stroke: #00bfff; stroke-linejoin: miter; stroke: #00bfff; stroke-linejoin: miter"/>
     <path d="M -0 3 L 3 -3 L -3 -3 z" transform="translate(105.353616 438.917055)" style="fill: #00bfff; stroke: #00bfff; stroke-linejoin: miter; stroke: #00bfff; stroke-linejoin: miter"/>
     <path d="M -0 3 L 3 -3 L -3 -3 z" transform="translate(106.69909 433.618535)" style="fill: #00bfff; stroke: #00bfff; stroke-linejoin: miter; stroke: #00bfff; stroke-linejoin: miter"/>
     <path d="M -0 3 L 3 -3 L -3 -3 z" transform="translate(108.044565 428.320015)" style="fill: #00bfff; stroke: #00bfff; stroke-linejoin: miter; stroke: #00bfff; stroke-linejoin: miter"/>
     <path d="M -0 3 L 3 -3 L -3 -3 z" transform="translate(109.390039 436.15261)" style="fill: #00bfff; stroke: #00bfff; stroke-linejoin: miter; stroke: #00bfff; stroke-linejoin: miter"/>
     <path d="M -0 3 L 3 -3 L -3 -3 z" transform="translate(110.735513 445.090983)" style="fill: #00bfff; stroke: #00bfff; stroke-linejoin: miter; stroke: #00bfff; stroke-linejoin: miter"/>
     <path d="M -0 3 L 3 -3 L -3 -3 z" transform="translate(112.080988 439.239574)" style="fill: #00bfff; stroke: #00bfff; stroke-linejoin: miter; stroke: #00bfff; stroke-linejoin: miter"/>
     <path d="M -0 3 L 3 -3 L -3 -3 z" transform="translate(113.426462 433.388165)" style="fill: #00bfff; stroke: #00bfff; stroke-linejoin: miter; stroke: #00bfff; stroke-linejoin: miter"/>
     <path d="M -0 3 L 3 -3 L -3 -3 z" transform="translate(114.771936 431.08446)" style="fill: #00bfff; stroke: #00bfff; stroke-linejoin: miter; stroke: #00bfff; stroke-linejoin: miter"/>
     <path d="M -0 3 L 3 -3 L -3 -3 z" transform="translate(116.117411 428.780756)" style="fill: #00bfff; stroke: #00bfff; stroke-linejoin: miter; stroke: #00bfff; stroke-linejoin: miter"/>
     <path d="M -0 3 L 3 -3 L -3 -3 z" transform="translate(117.462885 423.712606)" style="fill: #00bfff; stroke: #00bfff; stroke-linejoin: miter; stroke: #00bfff; stroke-linejoin: miter"/>
     <path d="M -0 3 L 3 -3 L -3 -3 z" transform="translate(118.808359 418.644457)" style="fill: #00bfff; stroke: #00bfff; stroke-linejoin: miter; stroke: #00bfff; stroke-linejoin: miter"/>
     <path d="M -0 3 L 3 -3 L -3 -3 z" transform="translate(120.153834 435.876166)" style="fill: #00bfff; stroke: #00bfff; stroke-linejoin: miter; stroke: #00bfff; stroke-linejoin: miter"/>
     <path d="M -0 3 L 3 -3 L -3 -3 z" transform="translate(121.499308 433.019572)" style="fill: #00bfff; stroke: #00bfff; stroke-linejoin: miter; stroke: #00bfff; stroke-linejoin: miter"/>
     <path d="M -0 3 L 3 -3 L -3 -3 z" transform="translate(122.844783 430.162979)" style="fill: #00bfff; stroke: #00bfff; stroke-linejoin: miter; stroke: #00bfff; stroke-linejoin: miter"/>
     <path d="M -0 3 L 3 -3 L -3 -3 z" transform="translate(124.190257 426.477052)" style="fill: #00bfff; stroke: #00bfff; stroke-linejoin: miter; stroke: #00bfff; stroke-linejoin: miter"/>
     <path d="M -0 3 L 3 -3 L -3 -3 z" transform="translate(125.535731 422.791125)" style="fill: #00bfff; stroke: #00bfff; stroke-linejoin: miter; stroke: #00bfff; stroke-linejoin: miter"/>
     <path d="M -0 3 L 3 -3 L -3 -3 z" transform="translate(126.881206 422.100013)" style="fill: #00bfff; stroke: #00bfff; stroke-linejoin: miter; stroke: #00bfff; stroke-linejoin: miter"/>
     <path d="M -0 3 L 3 -3 L -3 -3 z" transform="translate(128.22668 421.408902)" style="fill: #00bfff; stroke: #00bfff; stroke-linejoin: miter; stroke: #00bfff; stroke-linejoin: miter"/>
     <path d="M -0 3 L 3 -3 L -3 -3 z" transform="translate(129.572154 420.948161)" style="fill: #00bfff; stroke: #00bfff; stroke-linejoin: miter; stroke: #00bfff; stroke-linejoin: miter"/>
     <path d="M -0 3 L 3 -3 L -3 -3 z" transform="translate(130.917629 420.48742)" style="fill: #00bfff; stroke: #00bfff; stroke-linejoin: miter; stroke: #00bfff; stroke-linejoin: miter"/>
     <path d="M -0 3 L 3 -3 L -3 -3 z" transform="translate(132.263103 422.883273)" style="fill: #00bfff; stroke: #00bfff; stroke-linejoin: miter; stroke: #00bfff; stroke-linejoin: miter"/>
     <path d="M -0 3 L 3 -3 L -3 -3 z" transform="translate(133.608577 425.279125)" style="fill: #00bfff; stroke: #00bfff; stroke-linejoin: miter; stroke: #00bfff; stroke-linejoin: miter"/>
     <path d="M -0 3 L 3 -3 L -3 -3 z" transform="translate(134.954052 415.41927)" style="fill: #00bfff; stroke: #00bfff; stroke-linejoin: miter; stroke: #00bfff; stroke-linejoin: miter"/>
     <path d="M -0 3 L 3 -3 L -3 -3 z" transform="translate(136.299526 413.576307)" style="fill: #00bfff; stroke: #00bfff; stroke-linejoin: miter; stroke: #00bfff; stroke-linejoin: miter"/>
     <path d="M -0 3 L 3 -3 L -3 -3 z" transform="translate(137.645001 411.733343)" style="fill: #00bfff; stroke: #00bfff; stroke-linejoin: miter; stroke: #00bfff; stroke-linejoin: miter"/>
     <path d="M -0 3 L 3 -3 L -3 -3 z" transform="translate(138.990475 418.506234)" style="fill: #00bfff; stroke: #00bfff; stroke-linejoin: miter; stroke: #00bfff; stroke-linejoin: miter"/>
     <path d="M -0 3 L 3 -3 L -3 -3 z" transform="translate(140.335949 425.279125)" style="fill: #00bfff; stroke: #00bfff; stroke-linejoin: miter; stroke: #00bfff; stroke-linejoin: miter"/>
     <path d="M -0 3 L 3 -3 L -3 -3 z" transform="translate(141.681424 414.037048)" style="fill: #00bfff; stroke: #00bfff; stroke-linejoin: miter; stroke: #00bfff; stroke-linejoin: miter"/>
     <path d="M -0 3 L 3 -3 L -3 -3 z" transform="translate(143.026898 411.042232)" style="fill: #00bfff; stroke: #00bfff; stroke-linejoin: miter; stroke: #00bfff; stroke-linejoin: miter"/>
     <path d="M -0 3 L 3 -3 L -3 -3 z" transform="translate(144.372372 408.047416)" style="fill: #00bfff; stroke: #00bfff; stroke-linejoin: miter; stroke: #00bfff; stroke-linejoin: miter"/>
     <path d="M -0 3 L 3 -3 L -3 -3 z" transform="translate(145.717847 416.4329)" style="fill: #00bfff; stroke: #00bfff; stroke-linejoin: miter; stroke: #00bfff; stroke-linejoin: miter"/>
     <path d="M -0 3 L 3 -3 L -3 -3 z" transform="translate(147.063321 424.818384)" style="fill: #00bfff; stroke: #00bfff; stroke-linejoin: miter; stroke: #00bfff; stroke-linejoin: miter"/>
     <path d="M -0 3 L 3 -3 L -3 -3 z" transform="translate(148.408796 418.506234)" style="fill: #00bfff; stroke: #00bfff; stroke-linejoin: miter; stroke: #00bfff; stroke-linejoin: miter"/>
     <path d="M -0 3 L 3 -3 L -3 -3 z" transform="translate(149.75427 412.194084)" style="fill: #00bfff; stroke: #00bfff; stroke-linejoin: miter; stroke: #00bfff; stroke-linejoin: miter"/>
     <path d="M -0 3 L 3 -3 L -3 -3 z" transform="translate(151.099744 412.194084)" style="fill: #00bfff; stroke: #00bfff; stroke-linejoin: miter; stroke: #00bfff; stroke-linejoin: miter"/>
     <path d="M -0 3 L 3 -3 L -3 -3 z" transform="translate(152.445219 420.48742)" style="fill: #00bfff; stroke: #00bfff; stroke-linejoin: miter; stroke: #00bfff; stroke-linejoin: miter"/>
     <path d="M -0 3 L 3 -3 L -3 -3 z" transform="translate(153.790693 418.644457)" style="fill: #00bfff; stroke: #00bfff; stroke-linejoin: miter; stroke: #00bfff; stroke-linejoin: miter"/>
     <path d="M -0 3 L 3 -3 L -3 -3 z" transform="translate(155.136167 427.122089)" style="fill: #00bfff; stroke: #00bfff; stroke-linejoin: miter; stroke: #00bfff; stroke-linejoin: miter"/>
     <path d="M -0 3 L 3 -3 L -3 -3 z" transform="translate(156.481642 424.495866)" style="fill: #00bfff; stroke: #00bfff; stroke-linejoin: miter; stroke: #00bfff; stroke-linejoin: miter"/>
     <path d="M -0 3 L 3 -3 L -3 -3 z" transform="translate(157.827116 421.869643)" style="fill: #00bfff; stroke: #00bfff; stroke-linejoin: miter; stroke: #00bfff; stroke-linejoin: miter"/>
     <path d="M -0 3 L 3 -3 L -3 -3 z" transform="translate(159.17259 426.108459)" style="fill: #00bfff; stroke: #00bfff; stroke-linejoin: miter; stroke: #00bfff; stroke-linejoin: miter"/>
     <path d="M -0 3 L 3 -3 L -3 -3 z" transform="translate(160.518065 430.347275)" style="fill: #00bfff; stroke: #00bfff; stroke-linejoin: miter; stroke: #00bfff; stroke-linejoin: miter"/>
     <path d="M -0 3 L 3 -3 L -3 -3 z" transform="translate(161.863539 426.79957)" style="fill: #00bfff; stroke: #00bfff; stroke-linejoin: miter; stroke: #00bfff; stroke-linejoin: miter"/>
     <path d="M -0 3 L 3 -3 L -3 -3 z" transform="translate(163.209014 423.251865)" style="fill: #00bfff; stroke: #00bfff; stroke-linejoin: miter; stroke: #00bfff; stroke-linejoin: miter"/>
     <path d="M -0 3 L 3 -3 L -3 -3 z" transform="translate(164.554488 424.265495)" style="fill: #00bfff; stroke: #00bfff; stroke-linejoin: miter; stroke: #00bfff; stroke-linejoin: miter"/>
     <path d="M -0 3 L 3 -3 L -3 -3 z" transform="translate(165.899962 425.279125)" style="fill: #00bfff; stroke: #00bfff; stroke-linejoin: miter; stroke: #00bfff; stroke-linejoin: miter"/>
     <path d="M -0 3 L 3 -3 L -3 -3 z" transform="translate(167.245437 423.68189)" style="fill: #00bfff; stroke: #00bfff; stroke-linejoin: miter; stroke: #00bfff; stroke-linejoin: miter"/>
     <path d="M -0 3 L 3 -3 L -3 -3 z" transform="translate(168.590911 422.084655)" style="fill: #00bfff; stroke: #00bfff; stroke-linejoin: miter; stroke: #00bfff; stroke-linejoin: miter"/>
     <path d="M -0 3 L 3 -3 L -3 -3 z" transform="translate(169.936385 420.48742)" style="fill: #00bfff; stroke: #00bfff; stroke-linejoin: miter; stroke: #00bfff; stroke-linejoin: miter"/>
     <path d="M -0 3 L 3 -3 L -3 -3 z" transform="translate(171.28186 428.965052)" style="fill: #00bfff; stroke: #00bfff; stroke-linejoin: miter; stroke: #00bfff; stroke-linejoin: miter"/>
     <path d="M -0 3 L 3 -3 L -3 -3 z" transform="translate(172.627334 427.521398)" style="fill: #00bfff; stroke: #00bfff; stroke-linejoin: miter; stroke: #00bfff; stroke-linejoin: miter"/>
     <path d="M -0 3 L 3 -3 L -3 -3 z" transform="translate(173.972808 426.077743)" style="fill: #00bfff; stroke: #00bfff; stroke-linejoin: miter; stroke: #00bfff; stroke-linejoin: miter"/>
     <path d="M -0 3 L 3 -3 L -3 -3 z" transform="translate(175.318283 424.634088)" style="fill: #00bfff; stroke: #00bfff; stroke-linejoin: miter; stroke: #00bfff; stroke-linejoin: miter"/>
     <path d="M -0 3 L 3 -3 L -3 -3 z" transform="translate(176.663757 428.780756)" style="fill: #00bfff; stroke: #00bfff; stroke-linejoin: miter; stroke: #00bfff; stroke-linejoin: miter"/>
     <path d="M -0 3 L 3 -3 L -3 -3 z" transform="translate(178.009232 440.022834)" style="fill: #00bfff; stroke: #00bfff; stroke-linejoin: miter; stroke: #00bfff; stroke-linejoin: miter"/>
     <path d="M -0 3 L 3 -3 L -3 -3 z" transform="translate(179.354706 437.626981)" style="fill: #00bfff; stroke: #00bfff; stroke-linejoin: miter; stroke: #00bfff; stroke-linejoin: miter"/>
     <path d="M -0 3 L 3 -3 L -3 -3 z" transform="translate(180.70018 435.231128)" style="fill: #00bfff; stroke: #00bfff; stroke-linejoin: miter; stroke: #00bfff; stroke-linejoin: miter"/>
     <path d="M -0 3 L 3 -3 L -3 -3 z" transform="translate(182.045655 435.691869)" style="fill: #00bfff; stroke: #00bfff; stroke-linejoin: miter; stroke: #00bfff; stroke-linejoin: miter"/>
     <path d="M -0 3 L 3 -3 L -3 -3 z" transform="translate(183.391129 436.15261)" style="fill: #00bfff; stroke: #00bfff; stroke-linejoin: miter; stroke: #00bfff; stroke-linejoin: miter"/>
     <path d="M -0 3 L 3 -3 L -3 -3 z" transform="translate(184.736603 437.304462)" style="fill: #00bfff; stroke: #00bfff; stroke-linejoin: miter; stroke: #00bfff; stroke-linejoin: miter"/>
     <path d="M -0 3 L 3 -3 L -3 -3 z" transform="translate(186.082078 438.456315)" style="fill: #00bfff; stroke: #00bfff; stroke-linejoin: miter; stroke: #00bfff; stroke-linejoin: miter"/>
     <path d="M -0 3 L 3 -3 L -3 -3 z" transform="translate(187.427552 447.394688)" style="fill: #00bfff; stroke: #00bfff; stroke-linejoin: miter; stroke: #00bfff; stroke-linejoin: miter"/>
     <path d="M -0 3 L 3 -3 L -3 -3 z" transform="translate(188.773026 447.210391)" style="fill: #00bfff; stroke: #00bfff; stroke-linejoin: miter; stroke: #00bfff; stroke-linejoin: miter"/>
     <path d="M -0 3 L 3 -3 L -3 -3 z" transform="translate(190.118501 458.268172)" style="fill: #00bfff; stroke: #00bfff; stroke-linejoin: miter; stroke: #00bfff; stroke-linejoin: miter"/>
     <path d="M -0 3 L 3 -3 L -3 -3 z" transform="translate(191.463975 465.640027)" style="fill: #00bfff; stroke: #00bfff; stroke-linejoin: miter; stroke: #00bfff; stroke-linejoin: miter"/>
     <path d="M -0 3 L 3 -3 L -3 -3 z" transform="translate(192.80945 470.109213)" style="fill: #00bfff; stroke: #00bfff; stroke-linejoin: miter; stroke: #00bfff; stroke-linejoin: miter"/>
     <path d="M -0 3 L 3 -3 L -3 -3 z" transform="translate(194.154924 474.5784)" style="fill: #00bfff; stroke: #00bfff; stroke-linejoin: miter; stroke: #00bfff; stroke-linejoin: miter"/>
     <path d="M -0 3 L 3 -3 L -3 -3 z" transform="translate(195.500398 470.569954)" style="fill: #00bfff; stroke: #00bfff; stroke-linejoin: miter; stroke: #00bfff; stroke-linejoin: miter"/>
     <path d="M -0 3 L 3 -3 L -3 -3 z" transform="translate(196.845873 466.561508)" style="fill: #00bfff; stroke: #00bfff; stroke-linejoin: miter; stroke: #00bfff; stroke-linejoin: miter"/>
     <path d="M -0 3 L 3 -3 L -3 -3 z" transform="translate(198.191347 459.650395)" style="fill: #00bfff; stroke: #00bfff; stroke-linejoin: miter; stroke: #00bfff; stroke-linejoin: miter"/>
     <path d="M -0 3 L 3 -3 L -3 -3 z" transform="translate(199.536821 452.739282)" style="fill: #00bfff; stroke: #00bfff; stroke-linejoin: miter; stroke: #00bfff; stroke-linejoin: miter"/>
     <path d="M -0 3 L 3 -3 L -3 -3 z" transform="translate(200.882296 456.425209)" style="fill: #00bfff; stroke: #00bfff; stroke-linejoin: miter; stroke: #00bfff; stroke-linejoin: miter"/>
     <path d="M -0 3 L 3 -3 L -3 -3 z" transform="translate(202.22777 461.032618)" style="fill: #00bfff; stroke: #00bfff; stroke-linejoin: miter; stroke: #00bfff; stroke-linejoin: miter"/>
     <path d="M -0 3 L 3 -3 L -3 -3 z" transform="translate(203.573244 463.336322)" style="fill: #00bfff; stroke: #00bfff; stroke-linejoin: miter; stroke: #00bfff; stroke-linejoin: miter"/>
     <path d="M -0 3 L 3 -3 L -3 -3 z" transform="translate(204.918719 465.640027)" style="fill: #00bfff; stroke: #00bfff; stroke-linejoin: miter; stroke: #00bfff; stroke-linejoin: miter"/>
     <path d="M -0 3 L 3 -3 L -3 -3 z" transform="translate(206.264193 468.465904)" style="fill: #00bfff; stroke: #00bfff; stroke-linejoin: miter; stroke: #00bfff; stroke-linejoin: miter"/>
     <path d="M -0 3 L 3 -3 L -3 -3 z" transform="translate(207.609668 471.291781)" style="fill: #00bfff; stroke: #00bfff; stroke-linejoin: miter; stroke: #00bfff; stroke-linejoin: miter"/>
     <path d="M -0 3 L 3 -3 L -3 -3 z" transform="translate(208.955142 474.117659)" style="fill: #00bfff; stroke: #00bfff; stroke-linejoin: miter; stroke: #00bfff; stroke-linejoin: miter"/>
     <path d="M -0 3 L 3 -3 L -3 -3 z" transform="translate(210.300616 463.797063)" style="fill: #00bfff; stroke: #00bfff; stroke-linejoin: miter; stroke: #00bfff; stroke-linejoin: miter"/>
     <path d="M -0 3 L 3 -3 L -3 -3 z" transform="translate(211.646091 459.189654)" style="fill: #00bfff; stroke: #00bfff; stroke-linejoin: miter; stroke: #00bfff; stroke-linejoin: miter"/>
     <path d="M -0 3 L 3 -3 L -3 -3 z" transform="translate(212.991565 454.582245)" style="fill: #00bfff; stroke: #00bfff; stroke-linejoin: miter; stroke: #00bfff; stroke-linejoin: miter"/>
     <path d="M -0 3 L 3 -3 L -3 -3 z" transform="translate(214.337039 450.435577)" style="fill: #00bfff; stroke: #00bfff; stroke-linejoin: miter; stroke: #00bfff; stroke-linejoin: miter"/>
     <path d="M -0 3 L 3 -3 L -3 -3 z" transform="translate(215.682514 457.11632)" style="fill: #00bfff; stroke: #00bfff; stroke-linejoin: miter; stroke: #00bfff; stroke-linejoin: miter"/>
     <path d="M -0 3 L 3 -3 L -3 -3 z" transform="translate(217.027988 463.797063)" style="fill: #00bfff; stroke: #00bfff; stroke-linejoin: miter; stroke: #00bfff; stroke-linejoin: miter"/>
     <path d="M -0 3 L 3 -3 L -3 -3 z" transform="translate(218.373463 465.025705)" style="fill: #00bfff; stroke: #00bfff; stroke-linejoin: miter; stroke: #00bfff; stroke-linejoin: miter"/>
     <path d="M -0 3 L 3 -3 L -3 -3 z" transform="translate(219.718937 466.254348)" style="fill: #00bfff; stroke: #00bfff; stroke-linejoin: miter; stroke: #00bfff; stroke-linejoin: miter"/>
     <path d="M -0 3 L 3 -3 L -3 -3 z" transform="translate(221.064411 467.48299)" style="fill: #00bfff; stroke: #00bfff; stroke-linejoin: miter; stroke: #00bfff; stroke-linejoin: miter"/>
     <path d="M -0 3 L 3 -3 L -3 -3 z" transform="translate(222.409886 469.786694)" style="fill: #00bfff; stroke: #00bfff; stroke-linejoin: miter; stroke: #00bfff; stroke-linejoin: miter"/>
     <path d="M -0 3 L 3 -3 L -3 -3 z" transform="translate(223.75536 472.090399)" style="fill: #00bfff; stroke: #00bfff; stroke-linejoin: miter; stroke: #00bfff; stroke-linejoin: miter"/>
     <path d="M -0 3 L 3 -3 L -3 -3 z" transform="translate(225.100834 474.854844)" style="fill: #00bfff; stroke: #00bfff; stroke-linejoin: miter; stroke: #00bfff; stroke-linejoin: miter"/>
     <path d="M -0 3 L 3 -3 L -3 -3 z" transform="translate(226.446309 481.397365)" style="fill: #00bfff; stroke: #00bfff; stroke-linejoin: miter; stroke: #00bfff; stroke-linejoin: miter"/>
     <path d="M -0 3 L 3 -3 L -3 -3 z" transform="translate(227.791783 487.939885)" style="fill: #00bfff; stroke: #00bfff; stroke-linejoin: miter; stroke: #00bfff; stroke-linejoin: miter"/>
     <path d="M -0 3 L 3 -3 L -3 -3 z" transform="translate(229.137257 482.226698)" style="fill: #00bfff; stroke: #00bfff; stroke-linejoin: miter; stroke: #00bfff; stroke-linejoin: miter"/>
     <path d="M -0 3 L 3 -3 L -3 -3 z" transform="translate(230.482732 483.455341)" style="fill: #00bfff; stroke: #00bfff; stroke-linejoin: miter; stroke: #00bfff; stroke-linejoin: miter"/>
     <path d="M -0 3 L 3 -3 L -3 -3 z" transform="translate(231.828206 484.683983)" style="fill: #00bfff; stroke: #00bfff; stroke-linejoin: miter; stroke: #00bfff; stroke-linejoin: miter"/>
     <path d="M -0 3 L 3 -3 L -3 -3 z" transform="translate(233.173681 485.912625)" style="fill: #00bfff; stroke: #00bfff; stroke-linejoin: miter; stroke: #00bfff; stroke-linejoin: miter"/>
    </g>
   </g>
   <g id="line2d_75">
    <path d="M 94.589821 498.056266 L 94.589821 404.194373" clip-path="url(#p69501971ab)" style="fill: none; stroke-dasharray: 5.55,2.4; stroke-dashoffset: 0; stroke: #008000; stroke-width: 1.5"/>
   </g>
   <g id="line2d_76">
    <path d="M 215.682514 498.056266 L 215.682514 404.194373" clip-path="url(#p69501971ab)" style="fill: none; stroke-dasharray: 5.55,2.4; stroke-dashoffset: 0; stroke: #000000; stroke-width: 1.5"/>
   </g>
   <g id="patch_27">
    <path d="M 60.818414 498.056266 L 60.818414 404.194373" style="fill: none; stroke: #000000; stroke-width: 0.8; stroke-linejoin: miter; stroke-linecap: square"/>
   </g>
   <g id="patch_28">
    <path d="M 241.381074 498.056266 L 241.381074 404.194373" style="fill: none; stroke: #000000; stroke-width: 0.8; stroke-linejoin: miter; stroke-linecap: square"/>
   </g>
   <g id="patch_29">
    <path d="M 60.818414 498.056266 L 241.381074 498.056266" style="fill: none; stroke: #000000; stroke-width: 0.8; stroke-linejoin: miter; stroke-linecap: square"/>
   </g>
   <g id="patch_30">
    <path d="M 60.818414 404.194373 L 241.381074 404.194373" style="fill: none; stroke: #000000; stroke-width: 0.8; stroke-linejoin: miter; stroke-linecap: square"/>
   </g>
   <g id="text_74">
    <text style="font-size: 12px; font-family: 'DejaVu Sans', sans-serif" transform="translate(62.865057 384.756998)">Growing Season Climatology&#160;</text>
    <text style="font-size: 12px; font-family: 'DejaVu Sans', sans-serif" transform="translate(70.838494 398.194373)">&#160;of Daily Relative Humidity</text>
   </g>
   <g id="legend_5">
    <g id="patch_31">
     <path d="M 250.235294 451.484503 L 371.527482 451.484503 Q 373.527482 451.484503 373.527482 449.484503 L 373.527482 406.450128 Q 373.527482 404.450128 371.527482 404.450128 L 250.235294 404.450128 Q 248.235294 404.450128 248.235294 406.450128 L 248.235294 449.484503 Q 248.235294 451.484503 250.235294 451.484503 z" style="fill: #ffffff; opacity: 0.8; stroke: #cccccc; stroke-linejoin: miter"/>
    </g>
    <g id="line2d_77">
     <path d="M 252.235294 412.548565 L 262.235294 412.548565 L 272.235294 412.548565" style="fill: none; stroke: #00bfff; stroke-width: 1.5; stroke-linecap: square"/>
     <g>
      <path d="M -0 3 L 3 -3 L -3 -3 z" transform="translate(262.235294 412.548565)" style="fill: #00bfff; stroke: #00bfff; stroke-linejoin: miter; stroke: #00bfff; stroke-linejoin: miter"/>
     </g>
    </g>
    <g id="text_75">
     <text style="font-size: 10px; font-family: 'DejaVu Sans', sans-serif; text-anchor: start" x="280.235294" y="416.048565" transform="rotate(-0 280.235294 416.048565)">Relative Humidity</text>
    </g>
    <g id="line2d_78">
     <path d="M 252.235294 427.22669 L 262.235294 427.22669 L 272.235294 427.22669" style="fill: none; stroke-dasharray: 5.55,2.4; stroke-dashoffset: 0; stroke: #008000; stroke-width: 1.5"/>
    </g>
    <g id="text_76">
     <text style="font-size: 10px; font-family: 'DejaVu Sans', sans-serif; text-anchor: start" x="280.235294" y="430.72669" transform="rotate(-0 280.235294 430.72669)">sowing</text>
    </g>
    <g id="line2d_79">
     <path d="M 252.235294 441.904815 L 262.235294 441.904815 L 272.235294 441.904815" style="fill: none; stroke-dasharray: 5.55,2.4; stroke-dashoffset: 0; stroke: #000000; stroke-width: 1.5"/>
    </g>
    <g id="text_77">
     <text style="font-size: 10px; font-family: 'DejaVu Sans', sans-serif; text-anchor: start" x="280.235294" y="445.404815" transform="rotate(-0 280.235294 445.404815)">maturity</text>
    </g>
   </g>
  </g>
  <g id="axes_6">
   <g id="patch_32">
    <path d="M 455.703325 498.056266 L 636.419437 498.056266 L 636.419437 404.194373 L 455.703325 404.194373 z" style="fill: #ffffff"/>
   </g>
   <g id="matplotlib.axis_11">
    <g id="xtick_31">
     <g id="line2d_80">
      <g>
       <path d="M 0 0 L 0 3.5" transform="translate(462.571076 498.056266)" style="stroke: #000000; stroke-width: 0.8; stroke: #000000; stroke-width: 0.8"/>
      </g>
     </g>
     <g id="text_78">
      <text style="font-size: 10px; font-family: 'DejaVu Sans', sans-serif; text-anchor: middle" x="462.571076" y="512.654703" transform="rotate(-0 462.571076 512.654703)">0</text>
     </g>
    </g>
    <g id="xtick_32">
     <g id="line2d_81">
      <g>
       <path d="M 0 0 L 0 3.5" transform="translate(496.236521 498.056266)" style="stroke: #000000; stroke-width: 0.8; stroke: #000000; stroke-width: 0.8"/>
      </g>
     </g>
     <g id="text_79">
      <text style="font-size: 10px; font-family: 'DejaVu Sans', sans-serif; text-anchor: middle" x="496.236521" y="512.654703" transform="rotate(-0 496.236521 512.654703)">25</text>
     </g>
    </g>
    <g id="xtick_33">
     <g id="line2d_82">
      <g>
       <path d="M 0 0 L 0 3.5" transform="translate(529.901967 498.056266)" style="stroke: #000000; stroke-width: 0.8; stroke: #000000; stroke-width: 0.8"/>
      </g>
     </g>
     <g id="text_80">
      <text style="font-size: 10px; font-family: 'DejaVu Sans', sans-serif; text-anchor: middle" x="529.901967" y="512.654703" transform="rotate(-0 529.901967 512.654703)">50</text>
     </g>
    </g>
    <g id="xtick_34">
     <g id="line2d_83">
      <g>
       <path d="M 0 0 L 0 3.5" transform="translate(563.567413 498.056266)" style="stroke: #000000; stroke-width: 0.8; stroke: #000000; stroke-width: 0.8"/>
      </g>
     </g>
     <g id="text_81">
      <text style="font-size: 10px; font-family: 'DejaVu Sans', sans-serif; text-anchor: middle" x="563.567413" y="512.654703" transform="rotate(-0 563.567413 512.654703)">75</text>
     </g>
    </g>
    <g id="xtick_35">
     <g id="line2d_84">
      <g>
       <path d="M 0 0 L 0 3.5" transform="translate(597.232859 498.056266)" style="stroke: #000000; stroke-width: 0.8; stroke: #000000; stroke-width: 0.8"/>
      </g>
     </g>
     <g id="text_82">
      <text style="font-size: 10px; font-family: 'DejaVu Sans', sans-serif; text-anchor: middle" x="597.232859" y="512.654703" transform="rotate(-0 597.232859 512.654703)">100</text>
     </g>
    </g>
    <g id="xtick_36">
     <g id="line2d_85">
      <g>
       <path d="M 0 0 L 0 3.5" transform="translate(630.898304 498.056266)" style="stroke: #000000; stroke-width: 0.8; stroke: #000000; stroke-width: 0.8"/>
      </g>
     </g>
     <g id="text_83">
      <text style="font-size: 10px; font-family: 'DejaVu Sans', sans-serif; text-anchor: middle" x="630.898304" y="512.654703" transform="rotate(-0 630.898304 512.654703)">125</text>
     </g>
    </g>
    <g id="text_84">
     <text style="font-size: 10px; font-family: 'DejaVu Sans', sans-serif; text-anchor: middle" x="546.061381" y="526.332828" transform="rotate(-0 546.061381 526.332828)">Time (days)</text>
    </g>
   </g>
   <g id="matplotlib.axis_12">
    <g id="ytick_16">
     <g id="line2d_86">
      <g>
       <path d="M 0 0 L -3.5 0" transform="translate(455.703325 484.553327)" style="stroke: #000000; stroke-width: 0.8; stroke: #000000; stroke-width: 0.8"/>
      </g>
     </g>
     <g id="text_85">
      <text style="font-size: 10px; font-family: 'DejaVu Sans', sans-serif; text-anchor: end" x="448.703325" y="488.352546" transform="rotate(-0 448.703325 488.352546)">0.4</text>
     </g>
    </g>
    <g id="ytick_17">
     <g id="line2d_87">
      <g>
       <path d="M 0 0 L -3.5 0" transform="translate(455.703325 439.745167)" style="stroke: #000000; stroke-width: 0.8; stroke: #000000; stroke-width: 0.8"/>
      </g>
     </g>
     <g id="text_86">
      <text style="font-size: 10px; font-family: 'DejaVu Sans', sans-serif; text-anchor: end" x="448.703325" y="443.544386" transform="rotate(-0 448.703325 443.544386)">0.6</text>
     </g>
    </g>
    <g id="text_87">
     <text style="font-size: 10px; font-family: 'DejaVu Sans', sans-serif; text-anchor: middle" x="426.720512" y="451.12532" transform="rotate(-90 426.720512 451.12532)">VPD (kPa)</text>
    </g>
   </g>
   <g id="line2d_88">
    <path d="M 463.917694 419.56433 L 465.264311 421.591567 L 466.610929 413.574767 L 467.957547 414.726606 L 469.304165 415.878445 L 470.650783 408.04594 L 471.997401 432.188486 L 473.344018 428.640822 L 474.690636 425.093158 L 476.037254 419.56433 L 477.383872 431.08272 L 478.73049 436.841916 L 480.077107 442.601111 L 481.423725 451.815823 L 482.770343 443.061846 L 484.116961 456.607473 L 485.463579 469.047335 L 486.810197 452.737294 L 488.156814 451.815823 L 489.503432 450.894352 L 490.85005 449.97288 L 492.196668 460.754094 L 493.543286 456.546042 L 494.889904 452.33799 L 496.236521 448.129938 L 497.583139 452.737294 L 498.929757 457.34465 L 500.276375 461.952006 L 501.622993 470.245247 L 502.969611 476.87984 L 504.316228 468.264084 L 505.662846 459.648328 L 507.009464 464.025317 L 508.356082 468.402305 L 509.7027 469.784512 L 511.049318 471.166718 L 512.395935 478.400268 L 513.742553 485.633817 L 515.089171 470.245247 L 516.435789 471.627454 L 517.782407 473.009661 L 519.129025 475.528349 L 520.475642 478.047037 L 521.82226 480.565725 L 523.168878 479.552107 L 524.515496 478.538488 L 525.862114 482.869403 L 527.208731 481.732922 L 528.555349 480.596441 L 529.901967 479.459959 L 531.248585 485.541669 L 532.595203 491.623379 L 533.941821 485.541669 L 535.288438 479.459959 L 536.635056 484.128747 L 537.981674 488.797534 L 539.328292 493.466322 L 540.67491 486.002405 L 542.021528 478.538488 L 543.368145 484.159463 L 544.714763 489.780437 L 546.061381 487.937495 L 547.407999 478.538488 L 548.754617 476.695546 L 550.101235 477.617017 L 551.447852 480.012842 L 552.79447 482.408667 L 554.141088 478.1699 L 555.487706 473.931132 L 556.834324 481.487196 L 558.180942 480.197136 L 559.527559 478.907077 L 560.874177 477.617017 L 562.220795 479.828548 L 563.567413 482.040079 L 564.914031 484.25161 L 566.260648 479.782474 L 567.607266 475.313339 L 568.953884 477.939532 L 570.300502 480.565725 L 571.64712 472.641072 L 572.993738 464.71642 L 574.340355 467.572981 L 575.686973 470.429541 L 577.033591 467.480834 L 578.380209 467.020098 L 579.726827 466.559362 L 581.073445 466.098627 L 582.420062 458.726857 L 583.76668 453.889133 L 585.113298 449.051409 L 586.459916 443.522582 L 587.806534 437.993755 L 589.153152 432.004192 L 590.499769 432.695295 L 591.846387 433.386399 L 593.193005 441.541419 L 594.539623 449.696439 L 595.886241 440.758168 L 597.232859 438.608069 L 598.579476 436.457969 L 599.926094 434.30787 L 601.272712 432.23456 L 602.61933 430.161249 L 603.965948 433.156031 L 605.312566 436.150812 L 606.659183 438.45449 L 608.005801 440.758168 L 609.352419 447.300614 L 610.699037 453.84306 L 612.045655 451.355087 L 613.392272 442.601111 L 614.73889 433.847134 L 616.085508 432.23456 L 617.432126 430.621985 L 618.778744 426.475364 L 620.125362 422.328744 L 621.471979 418.642859 L 622.818597 414.956974 L 624.165215 415.302526 L 625.511833 415.648078 L 626.858451 415.993629 L 628.205069 416.339181" clip-path="url(#pbb7e019143)" style="fill: none; stroke: #228b22; stroke-width: 1.5; stroke-linecap: square"/>
    
    <g clip-path="url(#pbb7e019143)">
     <path d="M -0 3 L 3 -3 L -3 -3 z" transform="translate(463.917694 419.56433)" style="fill: #228b22; stroke: #228b22; stroke-linejoin: miter; stroke: #228b22; stroke-linejoin: miter"/>
     <path d="M -0 3 L 3 -3 L -3 -3 z" transform="translate(465.264311 421.591567)" style="fill: #228b22; stroke: #228b22; stroke-linejoin: miter; stroke: #228b22; stroke-linejoin: miter"/>
     <path d="M -0 3 L 3 -3 L -3 -3 z" transform="translate(466.610929 413.574767)" style="fill: #228b22; stroke: #228b22; stroke-linejoin: miter; stroke: #228b22; stroke-linejoin: miter"/>
     <path d="M -0 3 L 3 -3 L -3 -3 z" transform="translate(467.957547 414.726606)" style="fill: #228b22; stroke: #228b22; stroke-linejoin: miter; stroke: #228b22; stroke-linejoin: miter"/>
     <path d="M -0 3 L 3 -3 L -3 -3 z" transform="translate(469.304165 415.878445)" style="fill: #228b22; stroke: #228b22; stroke-linejoin: miter; stroke: #228b22; stroke-linejoin: miter"/>
     <path d="M -0 3 L 3 -3 L -3 -3 z" transform="translate(470.650783 408.04594)" style="fill: #228b22; stroke: #228b22; stroke-linejoin: miter; stroke: #228b22; stroke-linejoin: miter"/>
     <path d="M -0 3 L 3 -3 L -3 -3 z" transform="translate(471.997401 432.188486)" style="fill: #228b22; stroke: #228b22; stroke-linejoin: miter; stroke: #228b22; stroke-linejoin: miter"/>
     <path d="M -0 3 L 3 -3 L -3 -3 z" transform="translate(473.344018 428.640822)" style="fill: #228b22; stroke: #228b22; stroke-linejoin: miter; stroke: #228b22; stroke-linejoin: miter"/>
     <path d="M -0 3 L 3 -3 L -3 -3 z" transform="translate(474.690636 425.093158)" style="fill: #228b22; stroke: #228b22; stroke-linejoin: miter; stroke: #228b22; stroke-linejoin: miter"/>
     <path d="M -0 3 L 3 -3 L -3 -3 z" transform="translate(476.037254 419.56433)" style="fill: #228b22; stroke: #228b22; stroke-linejoin: miter; stroke: #228b22; stroke-linejoin: miter"/>
     <path d="M -0 3 L 3 -3 L -3 -3 z" transform="translate(477.383872 431.08272)" style="fill: #228b22; stroke: #228b22; stroke-linejoin: miter; stroke: #228b22; stroke-linejoin: miter"/>
     <path d="M -0 3 L 3 -3 L -3 -3 z" transform="translate(478.73049 436.841916)" style="fill: #228b22; stroke: #228b22; stroke-linejoin: miter; stroke: #228b22; stroke-linejoin: miter"/>
     <path d="M -0 3 L 3 -3 L -3 -3 z" transform="translate(480.077107 442.601111)" style="fill: #228b22; stroke: #228b22; stroke-linejoin: miter; stroke: #228b22; stroke-linejoin: miter"/>
     <path d="M -0 3 L 3 -3 L -3 -3 z" transform="translate(481.423725 451.815823)" style="fill: #228b22; stroke: #228b22; stroke-linejoin: miter; stroke: #228b22; stroke-linejoin: miter"/>
     <path d="M -0 3 L 3 -3 L -3 -3 z" transform="translate(482.770343 443.061846)" style="fill: #228b22; stroke: #228b22; stroke-linejoin: miter; stroke: #228b22; stroke-linejoin: miter"/>
     <path d="M -0 3 L 3 -3 L -3 -3 z" transform="translate(484.116961 456.607473)" style="fill: #228b22; stroke: #228b22; stroke-linejoin: miter; stroke: #228b22; stroke-linejoin: miter"/>
     <path d="M -0 3 L 3 -3 L -3 -3 z" transform="translate(485.463579 469.047335)" style="fill: #228b22; stroke: #228b22; stroke-linejoin: miter; stroke: #228b22; stroke-linejoin: miter"/>
     <path d="M -0 3 L 3 -3 L -3 -3 z" transform="translate(486.810197 452.737294)" style="fill: #228b22; stroke: #228b22; stroke-linejoin: miter; stroke: #228b22; stroke-linejoin: miter"/>
     <path d="M -0 3 L 3 -3 L -3 -3 z" transform="translate(488.156814 451.815823)" style="fill: #228b22; stroke: #228b22; stroke-linejoin: miter; stroke: #228b22; stroke-linejoin: miter"/>
     <path d="M -0 3 L 3 -3 L -3 -3 z" transform="translate(489.503432 450.894352)" style="fill: #228b22; stroke: #228b22; stroke-linejoin: miter; stroke: #228b22; stroke-linejoin: miter"/>
     <path d="M -0 3 L 3 -3 L -3 -3 z" transform="translate(490.85005 449.97288)" style="fill: #228b22; stroke: #228b22; stroke-linejoin: miter; stroke: #228b22; stroke-linejoin: miter"/>
     <path d="M -0 3 L 3 -3 L -3 -3 z" transform="translate(492.196668 460.754094)" style="fill: #228b22; stroke: #228b22; stroke-linejoin: miter; stroke: #228b22; stroke-linejoin: miter"/>
     <path d="M -0 3 L 3 -3 L -3 -3 z" transform="translate(493.543286 456.546042)" style="fill: #228b22; stroke: #228b22; stroke-linejoin: miter; stroke: #228b22; stroke-linejoin: miter"/>
     <path d="M -0 3 L 3 -3 L -3 -3 z" transform="translate(494.889904 452.33799)" style="fill: #228b22; stroke: #228b22; stroke-linejoin: miter; stroke: #228b22; stroke-linejoin: miter"/>
     <path d="M -0 3 L 3 -3 L -3 -3 z" transform="translate(496.236521 448.129938)" style="fill: #228b22; stroke: #228b22; stroke-linejoin: miter; stroke: #228b22; stroke-linejoin: miter"/>
     <path d="M -0 3 L 3 -3 L -3 -3 z" transform="translate(497.583139 452.737294)" style="fill: #228b22; stroke: #228b22; stroke-linejoin: miter; stroke: #228b22; stroke-linejoin: miter"/>
     <path d="M -0 3 L 3 -3 L -3 -3 z" transform="translate(498.929757 457.34465)" style="fill: #228b22; stroke: #228b22; stroke-linejoin: miter; stroke: #228b22; stroke-linejoin: miter"/>
     <path d="M -0 3 L 3 -3 L -3 -3 z" transform="translate(500.276375 461.952006)" style="fill: #228b22; stroke: #228b22; stroke-linejoin: miter; stroke: #228b22; stroke-linejoin: miter"/>
     <path d="M -0 3 L 3 -3 L -3 -3 z" transform="translate(501.622993 470.245247)" style="fill: #228b22; stroke: #228b22; stroke-linejoin: miter; stroke: #228b22; stroke-linejoin: miter"/>
     <path d="M -0 3 L 3 -3 L -3 -3 z" transform="translate(502.969611 476.87984)" style="fill: #228b22; stroke: #228b22; stroke-linejoin: miter; stroke: #228b22; stroke-linejoin: miter"/>
     <path d="M -0 3 L 3 -3 L -3 -3 z" transform="translate(504.316228 468.264084)" style="fill: #228b22; stroke: #228b22; stroke-linejoin: miter; stroke: #228b22; stroke-linejoin: miter"/>
     <path d="M -0 3 L 3 -3 L -3 -3 z" transform="translate(505.662846 459.648328)" style="fill: #228b22; stroke: #228b22; stroke-linejoin: miter; stroke: #228b22; stroke-linejoin: miter"/>
     <path d="M -0 3 L 3 -3 L -3 -3 z" transform="translate(507.009464 464.025317)" style="fill: #228b22; stroke: #228b22; stroke-linejoin: miter; stroke: #228b22; stroke-linejoin: miter"/>
     <path d="M -0 3 L 3 -3 L -3 -3 z" transform="translate(508.356082 468.402305)" style="fill: #228b22; stroke: #228b22; stroke-linejoin: miter; stroke: #228b22; stroke-linejoin: miter"/>
     <path d="M -0 3 L 3 -3 L -3 -3 z" transform="translate(509.7027 469.784512)" style="fill: #228b22; stroke: #228b22; stroke-linejoin: miter; stroke: #228b22; stroke-linejoin: miter"/>
     <path d="M -0 3 L 3 -3 L -3 -3 z" transform="translate(511.049318 471.166718)" style="fill: #228b22; stroke: #228b22; stroke-linejoin: miter; stroke: #228b22; stroke-linejoin: miter"/>
     <path d="M -0 3 L 3 -3 L -3 -3 z" transform="translate(512.395935 478.400268)" style="fill: #228b22; stroke: #228b22; stroke-linejoin: miter; stroke: #228b22; stroke-linejoin: miter"/>
     <path d="M -0 3 L 3 -3 L -3 -3 z" transform="translate(513.742553 485.633817)" style="fill: #228b22; stroke: #228b22; stroke-linejoin: miter; stroke: #228b22; stroke-linejoin: miter"/>
     <path d="M -0 3 L 3 -3 L -3 -3 z" transform="translate(515.089171 470.245247)" style="fill: #228b22; stroke: #228b22; stroke-linejoin: miter; stroke: #228b22; stroke-linejoin: miter"/>
     <path d="M -0 3 L 3 -3 L -3 -3 z" transform="translate(516.435789 471.627454)" style="fill: #228b22; stroke: #228b22; stroke-linejoin: miter; stroke: #228b22; stroke-linejoin: miter"/>
     <path d="M -0 3 L 3 -3 L -3 -3 z" transform="translate(517.782407 473.009661)" style="fill: #228b22; stroke: #228b22; stroke-linejoin: miter; stroke: #228b22; stroke-linejoin: miter"/>
     <path d="M -0 3 L 3 -3 L -3 -3 z" transform="translate(519.129025 475.528349)" style="fill: #228b22; stroke: #228b22; stroke-linejoin: miter; stroke: #228b22; stroke-linejoin: miter"/>
     <path d="M -0 3 L 3 -3 L -3 -3 z" transform="translate(520.475642 478.047037)" style="fill: #228b22; stroke: #228b22; stroke-linejoin: miter; stroke: #228b22; stroke-linejoin: miter"/>
     <path d="M -0 3 L 3 -3 L -3 -3 z" transform="translate(521.82226 480.565725)" style="fill: #228b22; stroke: #228b22; stroke-linejoin: miter; stroke: #228b22; stroke-linejoin: miter"/>
     <path d="M -0 3 L 3 -3 L -3 -3 z" transform="translate(523.168878 479.552107)" style="fill: #228b22; stroke: #228b22; stroke-linejoin: miter; stroke: #228b22; stroke-linejoin: miter"/>
     <path d="M -0 3 L 3 -3 L -3 -3 z" transform="translate(524.515496 478.538488)" style="fill: #228b22; stroke: #228b22; stroke-linejoin: miter; stroke: #228b22; stroke-linejoin: miter"/>
     <path d="M -0 3 L 3 -3 L -3 -3 z" transform="translate(525.862114 482.869403)" style="fill: #228b22; stroke: #228b22; stroke-linejoin: miter; stroke: #228b22; stroke-linejoin: miter"/>
     <path d="M -0 3 L 3 -3 L -3 -3 z" transform="translate(527.208731 481.732922)" style="fill: #228b22; stroke: #228b22; stroke-linejoin: miter; stroke: #228b22; stroke-linejoin: miter"/>
     <path d="M -0 3 L 3 -3 L -3 -3 z" transform="translate(528.555349 480.596441)" style="fill: #228b22; stroke: #228b22; stroke-linejoin: miter; stroke: #228b22; stroke-linejoin: miter"/>
     <path d="M -0 3 L 3 -3 L -3 -3 z" transform="translate(529.901967 479.459959)" style="fill: #228b22; stroke: #228b22; stroke-linejoin: miter; stroke: #228b22; stroke-linejoin: miter"/>
     <path d="M -0 3 L 3 -3 L -3 -3 z" transform="translate(531.248585 485.541669)" style="fill: #228b22; stroke: #228b22; stroke-linejoin: miter; stroke: #228b22; stroke-linejoin: miter"/>
     <path d="M -0 3 L 3 -3 L -3 -3 z" transform="translate(532.595203 491.623379)" style="fill: #228b22; stroke: #228b22; stroke-linejoin: miter; stroke: #228b22; stroke-linejoin: miter"/>
     <path d="M -0 3 L 3 -3 L -3 -3 z" transform="translate(533.941821 485.541669)" style="fill: #228b22; stroke: #228b22; stroke-linejoin: miter; stroke: #228b22; stroke-linejoin: miter"/>
     <path d="M -0 3 L 3 -3 L -3 -3 z" transform="translate(535.288438 479.459959)" style="fill: #228b22; stroke: #228b22; stroke-linejoin: miter; stroke: #228b22; stroke-linejoin: miter"/>
     <path d="M -0 3 L 3 -3 L -3 -3 z" transform="translate(536.635056 484.128747)" style="fill: #228b22; stroke: #228b22; stroke-linejoin: miter; stroke: #228b22; stroke-linejoin: miter"/>
     <path d="M -0 3 L 3 -3 L -3 -3 z" transform="translate(537.981674 488.797534)" style="fill: #228b22; stroke: #228b22; stroke-linejoin: miter; stroke: #228b22; stroke-linejoin: miter"/>
     <path d="M -0 3 L 3 -3 L -3 -3 z" transform="translate(539.328292 493.466322)" style="fill: #228b22; stroke: #228b22; stroke-linejoin: miter; stroke: #228b22; stroke-linejoin: miter"/>
     <path d="M -0 3 L 3 -3 L -3 -3 z" transform="translate(540.67491 486.002405)" style="fill: #228b22; stroke: #228b22; stroke-linejoin: miter; stroke: #228b22; stroke-linejoin: miter"/>
     <path d="M -0 3 L 3 -3 L -3 -3 z" transform="translate(542.021528 478.538488)" style="fill: #228b22; stroke: #228b22; stroke-linejoin: miter; stroke: #228b22; stroke-linejoin: miter"/>
     <path d="M -0 3 L 3 -3 L -3 -3 z" transform="translate(543.368145 484.159463)" style="fill: #228b22; stroke: #228b22; stroke-linejoin: miter; stroke: #228b22; stroke-linejoin: miter"/>
     <path d="M -0 3 L 3 -3 L -3 -3 z" transform="translate(544.714763 489.780437)" style="fill: #228b22; stroke: #228b22; stroke-linejoin: miter; stroke: #228b22; stroke-linejoin: miter"/>
     <path d="M -0 3 L 3 -3 L -3 -3 z" transform="translate(546.061381 487.937495)" style="fill: #228b22; stroke: #228b22; stroke-linejoin: miter; stroke: #228b22; stroke-linejoin: miter"/>
     <path d="M -0 3 L 3 -3 L -3 -3 z" transform="translate(547.407999 478.538488)" style="fill: #228b22; stroke: #228b22; stroke-linejoin: miter; stroke: #228b22; stroke-linejoin: miter"/>
     <path d="M -0 3 L 3 -3 L -3 -3 z" transform="translate(548.754617 476.695546)" style="fill: #228b22; stroke: #228b22; stroke-linejoin: miter; stroke: #228b22; stroke-linejoin: miter"/>
     <path d="M -0 3 L 3 -3 L -3 -3 z" transform="translate(550.101235 477.617017)" style="fill: #228b22; stroke: #228b22; stroke-linejoin: miter; stroke: #228b22; stroke-linejoin: miter"/>
     <path d="M -0 3 L 3 -3 L -3 -3 z" transform="translate(551.447852 480.012842)" style="fill: #228b22; stroke: #228b22; stroke-linejoin: miter; stroke: #228b22; stroke-linejoin: miter"/>
     <path d="M -0 3 L 3 -3 L -3 -3 z" transform="translate(552.79447 482.408667)" style="fill: #228b22; stroke: #228b22; stroke-linejoin: miter; stroke: #228b22; stroke-linejoin: miter"/>
     <path d="M -0 3 L 3 -3 L -3 -3 z" transform="translate(554.141088 478.1699)" style="fill: #228b22; stroke: #228b22; stroke-linejoin: miter; stroke: #228b22; stroke-linejoin: miter"/>
     <path d="M -0 3 L 3 -3 L -3 -3 z" transform="translate(555.487706 473.931132)" style="fill: #228b22; stroke: #228b22; stroke-linejoin: miter; stroke: #228b22; stroke-linejoin: miter"/>
     <path d="M -0 3 L 3 -3 L -3 -3 z" transform="translate(556.834324 481.487196)" style="fill: #228b22; stroke: #228b22; stroke-linejoin: miter; stroke: #228b22; stroke-linejoin: miter"/>
     <path d="M -0 3 L 3 -3 L -3 -3 z" transform="translate(558.180942 480.197136)" style="fill: #228b22; stroke: #228b22; stroke-linejoin: miter; stroke: #228b22; stroke-linejoin: miter"/>
     <path d="M -0 3 L 3 -3 L -3 -3 z" transform="translate(559.527559 478.907077)" style="fill: #228b22; stroke: #228b22; stroke-linejoin: miter; stroke: #228b22; stroke-linejoin: miter"/>
     <path d="M -0 3 L 3 -3 L -3 -3 z" transform="translate(560.874177 477.617017)" style="fill: #228b22; stroke: #228b22; stroke-linejoin: miter; stroke: #228b22; stroke-linejoin: miter"/>
     <path d="M -0 3 L 3 -3 L -3 -3 z" transform="translate(562.220795 479.828548)" style="fill: #228b22; stroke: #228b22; stroke-linejoin: miter; stroke: #228b22; stroke-linejoin: miter"/>
     <path d="M -0 3 L 3 -3 L -3 -3 z" transform="translate(563.567413 482.040079)" style="fill: #228b22; stroke: #228b22; stroke-linejoin: miter; stroke: #228b22; stroke-linejoin: miter"/>
     <path d="M -0 3 L 3 -3 L -3 -3 z" transform="translate(564.914031 484.25161)" style="fill: #228b22; stroke: #228b22; stroke-linejoin: miter; stroke: #228b22; stroke-linejoin: miter"/>
     <path d="M -0 3 L 3 -3 L -3 -3 z" transform="translate(566.260648 479.782474)" style="fill: #228b22; stroke: #228b22; stroke-linejoin: miter; stroke: #228b22; stroke-linejoin: miter"/>
     <path d="M -0 3 L 3 -3 L -3 -3 z" transform="translate(567.607266 475.313339)" style="fill: #228b22; stroke: #228b22; stroke-linejoin: miter; stroke: #228b22; stroke-linejoin: miter"/>
     <path d="M -0 3 L 3 -3 L -3 -3 z" transform="translate(568.953884 477.939532)" style="fill: #228b22; stroke: #228b22; stroke-linejoin: miter; stroke: #228b22; stroke-linejoin: miter"/>
     <path d="M -0 3 L 3 -3 L -3 -3 z" transform="translate(570.300502 480.565725)" style="fill: #228b22; stroke: #228b22; stroke-linejoin: miter; stroke: #228b22; stroke-linejoin: miter"/>
     <path d="M -0 3 L 3 -3 L -3 -3 z" transform="translate(571.64712 472.641072)" style="fill: #228b22; stroke: #228b22; stroke-linejoin: miter; stroke: #228b22; stroke-linejoin: miter"/>
     <path d="M -0 3 L 3 -3 L -3 -3 z" transform="translate(572.993738 464.71642)" style="fill: #228b22; stroke: #228b22; stroke-linejoin: miter; stroke: #228b22; stroke-linejoin: miter"/>
     <path d="M -0 3 L 3 -3 L -3 -3 z" transform="translate(574.340355 467.572981)" style="fill: #228b22; stroke: #228b22; stroke-linejoin: miter; stroke: #228b22; stroke-linejoin: miter"/>
     <path d="M -0 3 L 3 -3 L -3 -3 z" transform="translate(575.686973 470.429541)" style="fill: #228b22; stroke: #228b22; stroke-linejoin: miter; stroke: #228b22; stroke-linejoin: miter"/>
     <path d="M -0 3 L 3 -3 L -3 -3 z" transform="translate(577.033591 467.480834)" style="fill: #228b22; stroke: #228b22; stroke-linejoin: miter; stroke: #228b22; stroke-linejoin: miter"/>
     <path d="M -0 3 L 3 -3 L -3 -3 z" transform="translate(578.380209 467.020098)" style="fill: #228b22; stroke: #228b22; stroke-linejoin: miter; stroke: #228b22; stroke-linejoin: miter"/>
     <path d="M -0 3 L 3 -3 L -3 -3 z" transform="translate(579.726827 466.559362)" style="fill: #228b22; stroke: #228b22; stroke-linejoin: miter; stroke: #228b22; stroke-linejoin: miter"/>
     <path d="M -0 3 L 3 -3 L -3 -3 z" transform="translate(581.073445 466.098627)" style="fill: #228b22; stroke: #228b22; stroke-linejoin: miter; stroke: #228b22; stroke-linejoin: miter"/>
     <path d="M -0 3 L 3 -3 L -3 -3 z" transform="translate(582.420062 458.726857)" style="fill: #228b22; stroke: #228b22; stroke-linejoin: miter; stroke: #228b22; stroke-linejoin: miter"/>
     <path d="M -0 3 L 3 -3 L -3 -3 z" transform="translate(583.76668 453.889133)" style="fill: #228b22; stroke: #228b22; stroke-linejoin: miter; stroke: #228b22; stroke-linejoin: miter"/>
     <path d="M -0 3 L 3 -3 L -3 -3 z" transform="translate(585.113298 449.051409)" style="fill: #228b22; stroke: #228b22; stroke-linejoin: miter; stroke: #228b22; stroke-linejoin: miter"/>
     <path d="M -0 3 L 3 -3 L -3 -3 z" transform="translate(586.459916 443.522582)" style="fill: #228b22; stroke: #228b22; stroke-linejoin: miter; stroke: #228b22; stroke-linejoin: miter"/>
     <path d="M -0 3 L 3 -3 L -3 -3 z" transform="translate(587.806534 437.993755)" style="fill: #228b22; stroke: #228b22; stroke-linejoin: miter; stroke: #228b22; stroke-linejoin: miter"/>
     <path d="M -0 3 L 3 -3 L -3 -3 z" transform="translate(589.153152 432.004192)" style="fill: #228b22; stroke: #228b22; stroke-linejoin: miter; stroke: #228b22; stroke-linejoin: miter"/>
     <path d="M -0 3 L 3 -3 L -3 -3 z" transform="translate(590.499769 432.695295)" style="fill: #228b22; stroke: #228b22; stroke-linejoin: miter; stroke: #228b22; stroke-linejoin: miter"/>
     <path d="M -0 3 L 3 -3 L -3 -3 z" transform="translate(591.846387 433.386399)" style="fill: #228b22; stroke: #228b22; stroke-linejoin: miter; stroke: #228b22; stroke-linejoin: miter"/>
     <path d="M -0 3 L 3 -3 L -3 -3 z" transform="translate(593.193005 441.541419)" style="fill: #228b22; stroke: #228b22; stroke-linejoin: miter; stroke: #228b22; stroke-linejoin: miter"/>
     <path d="M -0 3 L 3 -3 L -3 -3 z" transform="translate(594.539623 449.696439)" style="fill: #228b22; stroke: #228b22; stroke-linejoin: miter; stroke: #228b22; stroke-linejoin: miter"/>
     <path d="M -0 3 L 3 -3 L -3 -3 z" transform="translate(595.886241 440.758168)" style="fill: #228b22; stroke: #228b22; stroke-linejoin: miter; stroke: #228b22; stroke-linejoin: miter"/>
     <path d="M -0 3 L 3 -3 L -3 -3 z" transform="translate(597.232859 438.608069)" style="fill: #228b22; stroke: #228b22; stroke-linejoin: miter; stroke: #228b22; stroke-linejoin: miter"/>
     <path d="M -0 3 L 3 -3 L -3 -3 z" transform="translate(598.579476 436.457969)" style="fill: #228b22; stroke: #228b22; stroke-linejoin: miter; stroke: #228b22; stroke-linejoin: miter"/>
     <path d="M -0 3 L 3 -3 L -3 -3 z" transform="translate(599.926094 434.30787)" style="fill: #228b22; stroke: #228b22; stroke-linejoin: miter; stroke: #228b22; stroke-linejoin: miter"/>
     <path d="M -0 3 L 3 -3 L -3 -3 z" transform="translate(601.272712 432.23456)" style="fill: #228b22; stroke: #228b22; stroke-linejoin: miter; stroke: #228b22; stroke-linejoin: miter"/>
     <path d="M -0 3 L 3 -3 L -3 -3 z" transform="translate(602.61933 430.161249)" style="fill: #228b22; stroke: #228b22; stroke-linejoin: miter; stroke: #228b22; stroke-linejoin: miter"/>
     <path d="M -0 3 L 3 -3 L -3 -3 z" transform="translate(603.965948 433.156031)" style="fill: #228b22; stroke: #228b22; stroke-linejoin: miter; stroke: #228b22; stroke-linejoin: miter"/>
     <path d="M -0 3 L 3 -3 L -3 -3 z" transform="translate(605.312566 436.150812)" style="fill: #228b22; stroke: #228b22; stroke-linejoin: miter; stroke: #228b22; stroke-linejoin: miter"/>
     <path d="M -0 3 L 3 -3 L -3 -3 z" transform="translate(606.659183 438.45449)" style="fill: #228b22; stroke: #228b22; stroke-linejoin: miter; stroke: #228b22; stroke-linejoin: miter"/>
     <path d="M -0 3 L 3 -3 L -3 -3 z" transform="translate(608.005801 440.758168)" style="fill: #228b22; stroke: #228b22; stroke-linejoin: miter; stroke: #228b22; stroke-linejoin: miter"/>
     <path d="M -0 3 L 3 -3 L -3 -3 z" transform="translate(609.352419 447.300614)" style="fill: #228b22; stroke: #228b22; stroke-linejoin: miter; stroke: #228b22; stroke-linejoin: miter"/>
     <path d="M -0 3 L 3 -3 L -3 -3 z" transform="translate(610.699037 453.84306)" style="fill: #228b22; stroke: #228b22; stroke-linejoin: miter; stroke: #228b22; stroke-linejoin: miter"/>
     <path d="M -0 3 L 3 -3 L -3 -3 z" transform="translate(612.045655 451.355087)" style="fill: #228b22; stroke: #228b22; stroke-linejoin: miter; stroke: #228b22; stroke-linejoin: miter"/>
     <path d="M -0 3 L 3 -3 L -3 -3 z" transform="translate(613.392272 442.601111)" style="fill: #228b22; stroke: #228b22; stroke-linejoin: miter; stroke: #228b22; stroke-linejoin: miter"/>
     <path d="M -0 3 L 3 -3 L -3 -3 z" transform="translate(614.73889 433.847134)" style="fill: #228b22; stroke: #228b22; stroke-linejoin: miter; stroke: #228b22; stroke-linejoin: miter"/>
     <path d="M -0 3 L 3 -3 L -3 -3 z" transform="translate(616.085508 432.23456)" style="fill: #228b22; stroke: #228b22; stroke-linejoin: miter; stroke: #228b22; stroke-linejoin: miter"/>
     <path d="M -0 3 L 3 -3 L -3 -3 z" transform="translate(617.432126 430.621985)" style="fill: #228b22; stroke: #228b22; stroke-linejoin: miter; stroke: #228b22; stroke-linejoin: miter"/>
     <path d="M -0 3 L 3 -3 L -3 -3 z" transform="translate(618.778744 426.475364)" style="fill: #228b22; stroke: #228b22; stroke-linejoin: miter; stroke: #228b22; stroke-linejoin: miter"/>
     <path d="M -0 3 L 3 -3 L -3 -3 z" transform="translate(620.125362 422.328744)" style="fill: #228b22; stroke: #228b22; stroke-linejoin: miter; stroke: #228b22; stroke-linejoin: miter"/>
     <path d="M -0 3 L 3 -3 L -3 -3 z" transform="translate(621.471979 418.642859)" style="fill: #228b22; stroke: #228b22; stroke-linejoin: miter; stroke: #228b22; stroke-linejoin: miter"/>
     <path d="M -0 3 L 3 -3 L -3 -3 z" transform="translate(622.818597 414.956974)" style="fill: #228b22; stroke: #228b22; stroke-linejoin: miter; stroke: #228b22; stroke-linejoin: miter"/>
     <path d="M -0 3 L 3 -3 L -3 -3 z" transform="translate(624.165215 415.302526)" style="fill: #228b22; stroke: #228b22; stroke-linejoin: miter; stroke: #228b22; stroke-linejoin: miter"/>
     <path d="M -0 3 L 3 -3 L -3 -3 z" transform="translate(625.511833 415.648078)" style="fill: #228b22; stroke: #228b22; stroke-linejoin: miter; stroke: #228b22; stroke-linejoin: miter"/>
     <path d="M -0 3 L 3 -3 L -3 -3 z" transform="translate(626.858451 415.993629)" style="fill: #228b22; stroke: #228b22; stroke-linejoin: miter; stroke: #228b22; stroke-linejoin: miter"/>
     <path d="M -0 3 L 3 -3 L -3 -3 z" transform="translate(628.205069 416.339181)" style="fill: #228b22; stroke: #228b22; stroke-linejoin: miter; stroke: #228b22; stroke-linejoin: miter"/>
    </g>
   </g>
   <g id="line2d_89">
    <path d="M 489.503432 498.056266 L 489.503432 404.194373" clip-path="url(#pbb7e019143)" style="fill: none; stroke-dasharray: 5.55,2.4; stroke-dashoffset: 0; stroke: #008000; stroke-width: 1.5"/>
   </g>
   <g id="line2d_90">
    <path d="M 610.699037 498.056266 L 610.699037 404.194373" clip-path="url(#pbb7e019143)" style="fill: none; stroke-dasharray: 5.55,2.4; stroke-dashoffset: 0; stroke: #000000; stroke-width: 1.5"/>
   </g>
   <g id="patch_33">
    <path d="M 455.703325 498.056266 L 455.703325 404.194373" style="fill: none; stroke: #000000; stroke-width: 0.8; stroke-linejoin: miter; stroke-linecap: square"/>
   </g>
   <g id="patch_34">
    <path d="M 636.419437 498.056266 L 636.419437 404.194373" style="fill: none; stroke: #000000; stroke-width: 0.8; stroke-linejoin: miter; stroke-linecap: square"/>
   </g>
   <g id="patch_35">
    <path d="M 455.703325 498.056266 L 636.419437 498.056266" style="fill: none; stroke: #000000; stroke-width: 0.8; stroke-linejoin: miter; stroke-linecap: square"/>
   </g>
   <g id="patch_36">
    <path d="M 455.703325 404.194373 L 636.419437 404.194373" style="fill: none; stroke: #000000; stroke-width: 0.8; stroke-linejoin: miter; stroke-linecap: square"/>
   </g>
   <g id="text_88">
    <text style="font-size: 12px; font-family: 'DejaVu Sans', sans-serif" transform="translate(457.826694 384.756998)">Growing Season Climatology&#160;</text>
    <text style="font-size: 12px; font-family: 'DejaVu Sans', sans-serif" transform="translate(507.033256 398.194373)">&#160;of Daily VPD</text>
   </g>
   <g id="legend_6">
    <g id="patch_37">
     <path d="M 645.375959 451.484503 L 727.338459 451.484503 Q 729.338459 451.484503 729.338459 449.484503 L 729.338459 406.450128 Q 729.338459 404.450128 727.338459 404.450128 L 645.375959 404.450128 Q 643.375959 404.450128 643.375959 406.450128 L 643.375959 449.484503 Q 643.375959 451.484503 645.375959 451.484503 z" style="fill: #ffffff; opacity: 0.8; stroke: #cccccc; stroke-linejoin: miter"/>
    </g>
    <g id="line2d_91">
     <path d="M 647.375959 412.548565 L 657.375959 412.548565 L 667.375959 412.548565" style="fill: none; stroke: #228b22; stroke-width: 1.5; stroke-linecap: square"/>
     <g>
      <path d="M -0 3 L 3 -3 L -3 -3 z" transform="translate(657.375959 412.548565)" style="fill: #228b22; stroke: #228b22; stroke-linejoin: miter; stroke: #228b22; stroke-linejoin: miter"/>
     </g>
    </g>
    <g id="text_89">
     <text style="font-size: 10px; font-family: 'DejaVu Sans', sans-serif; text-anchor: start" x="675.375959" y="416.048565" transform="rotate(-0 675.375959 416.048565)">Mean Vpd</text>
    </g>
    <g id="line2d_92">
     <path d="M 647.375959 427.22669 L 657.375959 427.22669 L 667.375959 427.22669" style="fill: none; stroke-dasharray: 5.55,2.4; stroke-dashoffset: 0; stroke: #008000; stroke-width: 1.5"/>
    </g>
    <g id="text_90">
     <text style="font-size: 10px; font-family: 'DejaVu Sans', sans-serif; text-anchor: start" x="675.375959" y="430.72669" transform="rotate(-0 675.375959 430.72669)">sowing</text>
    </g>
    <g id="line2d_93">
     <path d="M 647.375959 441.904815 L 657.375959 441.904815 L 667.375959 441.904815" style="fill: none; stroke-dasharray: 5.55,2.4; stroke-dashoffset: 0; stroke: #000000; stroke-width: 1.5"/>
    </g>
    <g id="text_91">
     <text style="font-size: 10px; font-family: 'DejaVu Sans', sans-serif; text-anchor: start" x="675.375959" y="445.404815" transform="rotate(-0 675.375959 445.404815)">maturity</text>
    </g>
   </g>
  </g>
  <g id="text_92">
   <text style="font-weight: 700; font-size: 12.787724px; font-family: 'Liberation Sans', Arial, sans-serif; text-anchor: start" x="4.705882" y="16.317136" transform="rotate(-0 4.705882 16.317136)">A</text>
  </g>
  <g id="text_93">
   <text style="font-weight: 700; font-size: 12.787724px; font-family: 'Liberation Sans', Arial, sans-serif; text-anchor: start" x="396.521739" y="16.317136" transform="rotate(-0 396.521739 16.317136)">B</text>
  </g>
  <g id="text_94">
   <text style="font-weight: 700; font-size: 12.787724px; font-family: 'Liberation Sans', Arial, sans-serif; text-anchor: start" x="4.501279" y="195.805627" transform="rotate(-0 4.501279 195.805627)">C</text>
  </g>
  <g id="text_95">
   <text style="font-weight: 700; font-size: 12.787724px; font-family: 'Liberation Sans', Arial, sans-serif; text-anchor: start" x="396.521739" y="195.805627" transform="rotate(-0 396.521739 195.805627)">D</text>
  </g>
  <g id="text_96">
   <text style="font-weight: 700; font-size: 12.787724px; font-family: 'Liberation Sans', Arial, sans-serif; text-anchor: start" x="4.654731" y="374.83376" transform="rotate(-0 4.654731 374.83376)">E</text>
  </g>
  <g id="text_97">
   <text style="font-weight: 700; font-size: 12.787724px; font-family: 'Liberation Sans', Arial, sans-serif; text-anchor: start" x="396.57289" y="374.83376" transform="rotate(-0 396.57289 374.83376)">F</text>
  </g>
 </g>
 <defs>
  <clipPath id="p58ddfeee3f">
   <rect x="60.818414" y="44.347826" width="180.56266" height="94.219949"/>
  </clipPath>
  <clipPath id="p1a3fc370fa">
   <rect x="455.703325" y="44.347826" width="180.716113" height="94.219949"/>
  </clipPath>
  <clipPath id="p5d73af03be">
   <rect x="60.818414" y="225.012788" width="180.56266" height="93.861893"/>
  </clipPath>
  <clipPath id="p854d288286">
   <rect x="455.703325" y="225.012788" width="180.716113" height="93.913043"/>
  </clipPath>
  <clipPath id="p69501971ab">
   <rect x="60.818414" y="404.194373" width="180.56266" height="93.861893"/>
  </clipPath>
  <clipPath id="pbb7e019143">
   <rect x="455.703325" y="404.194373" width="180.716113" height="93.861893"/>
  </clipPath>
 </defs>
</svg>

</body></html>
